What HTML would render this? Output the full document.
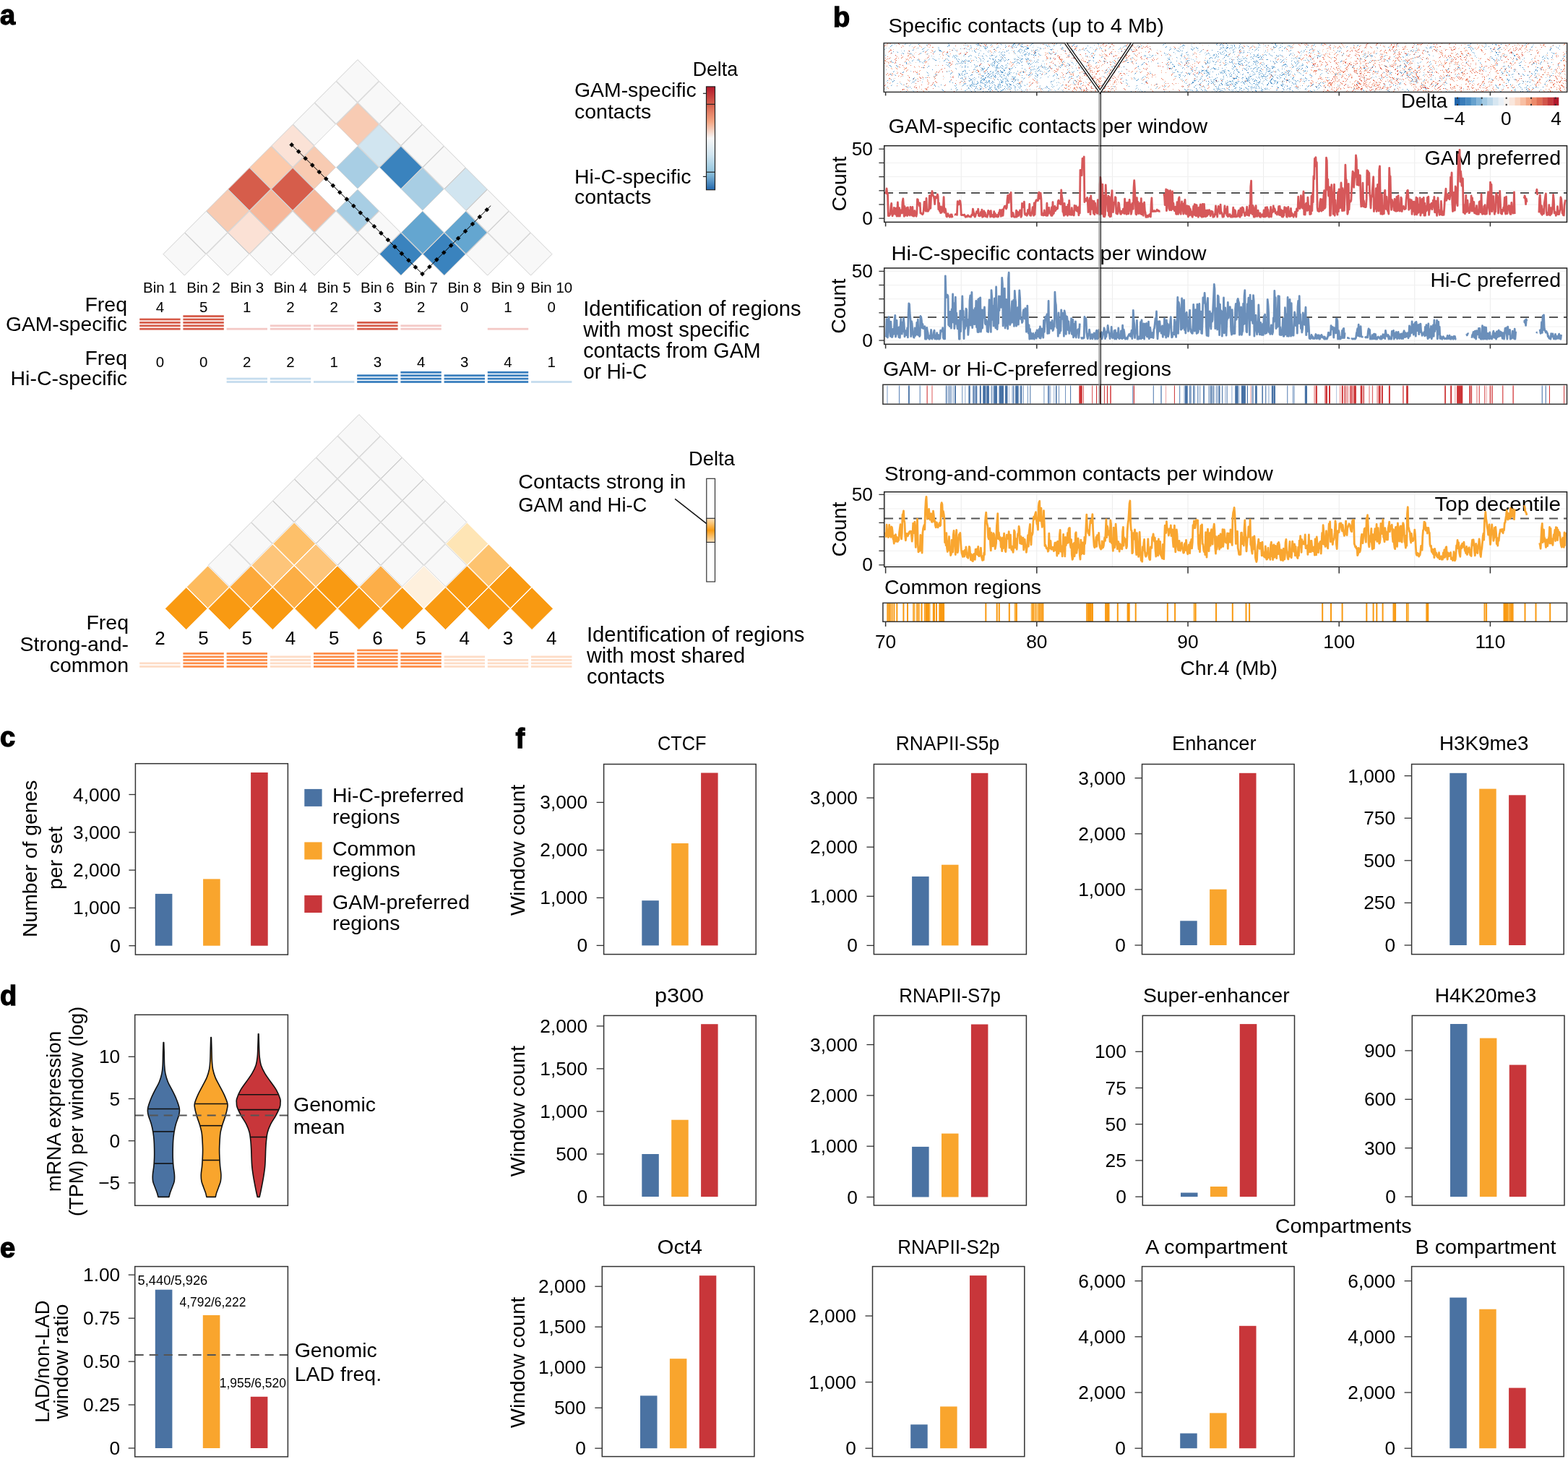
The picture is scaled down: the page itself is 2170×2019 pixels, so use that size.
<!DOCTYPE html><html><head><meta charset="utf-8"><style>html,body{margin:0;padding:0;background:#fff;}svg{display:block;}</style></head><body><svg width="2170" height="2019" viewBox="0 0 2170 2019" font-family='"Liberation Sans", "DejaVu Sans", sans-serif'><rect width="2170" height="2019" fill="#fff"/><text x="0.0" y="33.5" font-size="38" font-weight="bold" stroke="#000" stroke-width="1.3">a</text>
<polygon points="494.95,82.60 524.40,112.05 494.95,141.50 465.50,112.05" fill="#f8f8f8" stroke="#cfcfcf" stroke-width="1"/>
<polygon points="465.00,112.55 494.45,142.00 465.00,171.45 435.55,142.00" fill="#f8f8f8" stroke="#cfcfcf" stroke-width="1"/>
<polygon points="524.90,112.55 554.35,142.00 524.90,171.45 495.45,142.00" fill="#f8f8f8" stroke="#cfcfcf" stroke-width="1"/>
<polygon points="435.05,142.50 464.50,171.95 435.05,201.40 405.60,171.95" fill="#f8f8f8" stroke="#cfcfcf" stroke-width="1"/>
<polygon points="494.95,142.50 524.40,171.95 494.95,201.40 465.50,171.95" fill="#f8cbb3" stroke="#cfcfcf" stroke-width="1"/>
<polygon points="554.85,142.50 584.30,171.95 554.85,201.40 525.40,171.95" fill="#f8f8f8" stroke="#cfcfcf" stroke-width="1"/>
<polygon points="405.10,172.45 434.55,201.90 405.10,231.35 375.65,201.90" fill="#fbe2d6" stroke="#cfcfcf" stroke-width="1"/>
<polygon points="465.00,171.95 494.95,201.90 465.00,231.85 435.05,201.90" fill="#ffffff"/>
<polygon points="524.90,172.45 554.35,201.90 524.90,231.35 495.45,201.90" fill="#d1e5f0" stroke="#cfcfcf" stroke-width="1"/>
<polygon points="584.80,172.45 614.25,201.90 584.80,231.35 555.35,201.90" fill="#f8f8f8" stroke="#cfcfcf" stroke-width="1"/>
<polygon points="375.15,202.40 404.60,231.85 375.15,261.30 345.70,231.85" fill="#fccaab" stroke="#cfcfcf" stroke-width="1"/>
<polygon points="435.05,202.40 464.50,231.85 435.05,261.30 405.60,231.85" fill="#f8cbb2" stroke="#cfcfcf" stroke-width="1"/>
<polygon points="494.95,202.40 524.40,231.85 494.95,261.30 465.50,231.85" fill="#a8cee4" stroke="#cfcfcf" stroke-width="1"/>
<polygon points="554.85,202.40 584.30,231.85 554.85,261.30 525.40,231.85" fill="#3a83be" stroke="#cfcfcf" stroke-width="1"/>
<polygon points="614.75,202.40 644.20,231.85 614.75,261.30 585.30,231.85" fill="#f8f8f8" stroke="#cfcfcf" stroke-width="1"/>
<polygon points="345.20,232.35 374.65,261.80 345.20,291.25 315.75,261.80" fill="#d65d4b" stroke="#cfcfcf" stroke-width="1"/>
<polygon points="405.10,232.35 434.55,261.80 405.10,291.25 375.65,261.80" fill="#d65d4b" stroke="#cfcfcf" stroke-width="1"/>
<polygon points="465.00,231.85 494.95,261.80 465.00,291.75 435.05,261.80" fill="#ffffff"/>
<polygon points="524.90,231.85 554.85,261.80 524.90,291.75 494.95,261.80" fill="#ffffff"/>
<polygon points="584.80,232.35 614.25,261.80 584.80,291.25 555.35,261.80" fill="#a8cee4" stroke="#cfcfcf" stroke-width="1"/>
<polygon points="644.70,232.35 674.15,261.80 644.70,291.25 615.25,261.80" fill="#d1e5f0" stroke="#cfcfcf" stroke-width="1"/>
<polygon points="315.25,262.30 344.70,291.75 315.25,321.20 285.80,291.75" fill="#f8cbb2" stroke="#cfcfcf" stroke-width="1"/>
<polygon points="375.15,262.30 404.60,291.75 375.15,321.20 345.70,291.75" fill="#f6b89b" stroke="#cfcfcf" stroke-width="1"/>
<polygon points="435.05,262.30 464.50,291.75 435.05,321.20 405.60,291.75" fill="#f6b89b" stroke="#cfcfcf" stroke-width="1"/>
<polygon points="494.95,262.30 524.40,291.75 494.95,321.20 465.50,291.75" fill="#a8cee4" stroke="#cfcfcf" stroke-width="1"/>
<polygon points="554.85,261.80 584.80,291.75 554.85,321.70 524.90,291.75" fill="#ffffff"/>
<polygon points="614.75,261.80 644.70,291.75 614.75,321.70 584.80,291.75" fill="#ffffff"/>
<polygon points="674.65,262.30 704.10,291.75 674.65,321.20 645.20,291.75" fill="#f8f8f8" stroke="#cfcfcf" stroke-width="1"/>
<polygon points="285.30,292.25 314.75,321.70 285.30,351.15 255.85,321.70" fill="#f8f8f8" stroke="#cfcfcf" stroke-width="1"/>
<polygon points="345.20,292.25 374.65,321.70 345.20,351.15 315.75,321.70" fill="#fbe1d5" stroke="#cfcfcf" stroke-width="1"/>
<polygon points="405.10,292.25 434.55,321.70 405.10,351.15 375.65,321.70" fill="#f8f8f8" stroke="#cfcfcf" stroke-width="1"/>
<polygon points="465.00,292.25 494.45,321.70 465.00,351.15 435.55,321.70" fill="#f8f8f8" stroke="#cfcfcf" stroke-width="1"/>
<polygon points="524.90,292.25 554.35,321.70 524.90,351.15 495.45,321.70" fill="#f8f8f8" stroke="#cfcfcf" stroke-width="1"/>
<polygon points="584.80,292.25 614.25,321.70 584.80,351.15 555.35,321.70" fill="#64a6d0" stroke="#cfcfcf" stroke-width="1"/>
<polygon points="644.70,292.25 674.15,321.70 644.70,351.15 615.25,321.70" fill="#64a6d0" stroke="#cfcfcf" stroke-width="1"/>
<polygon points="704.60,292.25 734.05,321.70 704.60,351.15 675.15,321.70" fill="#f8f8f8" stroke="#cfcfcf" stroke-width="1"/>
<polygon points="255.35,322.20 284.80,351.65 255.35,381.10 225.90,351.65" fill="#f8f8f8" stroke="#cfcfcf" stroke-width="1"/>
<polygon points="315.25,322.20 344.70,351.65 315.25,381.10 285.80,351.65" fill="#f8f8f8" stroke="#cfcfcf" stroke-width="1"/>
<polygon points="375.15,322.20 404.60,351.65 375.15,381.10 345.70,351.65" fill="#f8f8f8" stroke="#cfcfcf" stroke-width="1"/>
<polygon points="435.05,322.20 464.50,351.65 435.05,381.10 405.60,351.65" fill="#f8f8f8" stroke="#cfcfcf" stroke-width="1"/>
<polygon points="494.95,322.20 524.40,351.65 494.95,381.10 465.50,351.65" fill="#f8f8f8" stroke="#cfcfcf" stroke-width="1"/>
<polygon points="554.85,322.20 584.30,351.65 554.85,381.10 525.40,351.65" fill="#3a83be" stroke="#cfcfcf" stroke-width="1"/>
<polygon points="614.75,322.20 644.20,351.65 614.75,381.10 585.30,351.65" fill="#3a83be" stroke="#cfcfcf" stroke-width="1"/>
<polygon points="674.65,322.20 704.10,351.65 674.65,381.10 645.20,351.65" fill="#f8f8f8" stroke="#cfcfcf" stroke-width="1"/>
<polygon points="734.55,322.20 764.00,351.65 734.55,381.10 705.10,351.65" fill="#f8f8f8" stroke="#cfcfcf" stroke-width="1"/>
<polyline points="403.7,200.4 584.5,379.1 679.2,284.6" fill="none" stroke="#000" stroke-width="1"/>
<polygon points="403.70,197.10 407.00,200.40 403.70,203.70 400.40,200.40" fill="#000"/>
<polygon points="413.22,206.51 416.52,209.81 413.22,213.11 409.92,209.81" fill="#000"/>
<polygon points="422.73,215.91 426.03,219.21 422.73,222.51 419.43,219.21" fill="#000"/>
<polygon points="432.25,225.32 435.55,228.62 432.25,231.92 428.95,228.62" fill="#000"/>
<polygon points="441.76,234.72 445.06,238.02 441.76,241.32 438.46,238.02" fill="#000"/>
<polygon points="451.28,244.13 454.58,247.43 451.28,250.73 447.98,247.43" fill="#000"/>
<polygon points="460.79,253.53 464.09,256.83 460.79,260.13 457.49,256.83" fill="#000"/>
<polygon points="470.31,262.94 473.61,266.24 470.31,269.54 467.01,266.24" fill="#000"/>
<polygon points="479.83,272.34 483.13,275.64 479.83,278.94 476.53,275.64" fill="#000"/>
<polygon points="489.34,281.75 492.64,285.05 489.34,288.35 486.04,285.05" fill="#000"/>
<polygon points="498.86,291.15 502.16,294.45 498.86,297.75 495.56,294.45" fill="#000"/>
<polygon points="508.37,300.56 511.67,303.86 508.37,307.16 505.07,303.86" fill="#000"/>
<polygon points="517.89,309.96 521.19,313.26 517.89,316.56 514.59,313.26" fill="#000"/>
<polygon points="527.41,319.37 530.71,322.67 527.41,325.97 524.11,322.67" fill="#000"/>
<polygon points="536.92,328.77 540.22,332.07 536.92,335.37 533.62,332.07" fill="#000"/>
<polygon points="546.44,338.18 549.74,341.48 546.44,344.78 543.14,341.48" fill="#000"/>
<polygon points="555.95,347.58 559.25,350.88 555.95,354.18 552.65,350.88" fill="#000"/>
<polygon points="565.47,356.99 568.77,360.29 565.47,363.59 562.17,360.29" fill="#000"/>
<polygon points="574.98,366.39 578.28,369.69 574.98,372.99 571.68,369.69" fill="#000"/>
<polygon points="584.50,375.80 587.80,379.10 584.50,382.40 581.20,379.10" fill="#000"/>
<polygon points="594.42,365.93 597.72,369.23 594.42,372.53 591.12,369.23" fill="#000"/>
<polygon points="604.34,356.07 607.64,359.37 604.34,362.67 601.04,359.37" fill="#000"/>
<polygon points="614.27,346.20 617.57,349.50 614.27,352.80 610.97,349.50" fill="#000"/>
<polygon points="624.19,336.33 627.49,339.63 624.19,342.93 620.89,339.63" fill="#000"/>
<polygon points="634.11,326.47 637.41,329.77 634.11,333.07 630.81,329.77" fill="#000"/>
<polygon points="644.03,316.60 647.33,319.90 644.03,323.20 640.73,319.90" fill="#000"/>
<polygon points="653.96,306.73 657.26,310.03 653.96,313.33 650.66,310.03" fill="#000"/>
<polygon points="663.88,296.87 667.18,300.17 663.88,303.47 660.58,300.17" fill="#000"/>
<polygon points="673.80,287.00 677.10,290.30 673.80,293.60 670.50,290.30" fill="#000"/>
<defs><linearGradient id="gRdBu" x1="0" y1="0" x2="0" y2="1"><stop offset="0" stop-color="#b2182b"/><stop offset="0.17" stop-color="#d6604d"/><stop offset="0.34" stop-color="#f4a582"/><stop offset="0.5" stop-color="#f7f7f7"/><stop offset="0.66" stop-color="#d1e5f0"/><stop offset="0.83" stop-color="#92c5de"/><stop offset="1" stop-color="#2166ac"/></linearGradient><linearGradient id="gOr" x1="0" y1="0" x2="0" y2="1"><stop offset="0" stop-color="#fde3bd"/><stop offset="0.5" stop-color="#f99a12"/><stop offset="1" stop-color="#fde3bd"/></linearGradient></defs>
<rect x="977.5" y="119.9" width="12" height="142.8" fill="url(#gRdBu)" stroke="#222" stroke-width="1.2"/>
<line x1="977.5" y1="144.3" x2="989.5" y2="144.3" stroke="#222" stroke-width="1.2"/>
<line x1="977.5" y1="238.2" x2="989.5" y2="238.2" stroke="#222" stroke-width="1.2"/>
<line x1="972.9" y1="129.3" x2="977.5" y2="129.3" stroke="#222" stroke-width="1.2"/>
<line x1="972.9" y1="244.4" x2="977.5" y2="244.4" stroke="#222" stroke-width="1.2"/>
<text x="958.7" y="104.5" font-size="28" textLength="62.4" lengthAdjust="spacingAndGlyphs">Delta</text>
<text x="795.0" y="134.4" font-size="28.5" textLength="168.8" lengthAdjust="spacingAndGlyphs">GAM-specific</text>
<text x="795.0" y="163.5" font-size="28.5">contacts</text>
<text x="795.0" y="254.1" font-size="28.5">Hi-C-specific</text>
<text x="795.0" y="282.3" font-size="28.5">contacts</text>
<text x="221.4" y="404.8" font-size="20.5" text-anchor="middle">Bin 1</text>
<text x="281.6" y="404.8" font-size="20.5" text-anchor="middle">Bin 2</text>
<text x="341.8" y="404.8" font-size="20.5" text-anchor="middle">Bin 3</text>
<text x="402.0" y="404.8" font-size="20.5" text-anchor="middle">Bin 4</text>
<text x="462.2" y="404.8" font-size="20.5" text-anchor="middle">Bin 5</text>
<text x="522.4" y="404.8" font-size="20.5" text-anchor="middle">Bin 6</text>
<text x="582.6" y="404.8" font-size="20.5" text-anchor="middle">Bin 7</text>
<text x="642.8" y="404.8" font-size="20.5" text-anchor="middle">Bin 8</text>
<text x="703.0" y="404.8" font-size="20.5" text-anchor="middle">Bin 9</text>
<text x="763.2" y="404.8" font-size="20.5" text-anchor="middle">Bin 10</text>
<text x="176.0" y="430.7" font-size="28.5" text-anchor="end">Freq</text>
<text x="176.0" y="458.3" font-size="28.5" text-anchor="end" textLength="168.1" lengthAdjust="spacingAndGlyphs">GAM-specific</text>
<text x="221.4" y="431.5" font-size="20.5" text-anchor="middle">4</text>
<rect x="193.2" y="453.8" width="56.4" height="2.8" fill="#d65d4b"/>
<rect x="193.2" y="449.4" width="56.4" height="2.8" fill="#d65d4b"/>
<rect x="193.2" y="445.0" width="56.4" height="2.8" fill="#d65d4b"/>
<rect x="193.2" y="440.6" width="56.4" height="2.8" fill="#d65d4b"/>
<text x="281.6" y="431.5" font-size="20.5" text-anchor="middle">5</text>
<rect x="253.4" y="453.8" width="56.4" height="2.8" fill="#d65d4b"/>
<rect x="253.4" y="449.4" width="56.4" height="2.8" fill="#d65d4b"/>
<rect x="253.4" y="445.0" width="56.4" height="2.8" fill="#d65d4b"/>
<rect x="253.4" y="440.6" width="56.4" height="2.8" fill="#d65d4b"/>
<rect x="253.4" y="436.2" width="56.4" height="2.8" fill="#d65d4b"/>
<text x="341.8" y="431.5" font-size="20.5" text-anchor="middle">1</text>
<rect x="313.6" y="453.8" width="56.4" height="2.8" fill="#f4c9c6"/>
<text x="402.0" y="431.5" font-size="20.5" text-anchor="middle">2</text>
<rect x="373.8" y="453.8" width="56.4" height="2.8" fill="#f4c9c6"/>
<rect x="373.8" y="449.4" width="56.4" height="2.8" fill="#f4c9c6"/>
<text x="462.2" y="431.5" font-size="20.5" text-anchor="middle">2</text>
<rect x="434.0" y="453.8" width="56.4" height="2.8" fill="#f4c9c6"/>
<rect x="434.0" y="449.4" width="56.4" height="2.8" fill="#f4c9c6"/>
<text x="522.4" y="431.5" font-size="20.5" text-anchor="middle">3</text>
<rect x="494.2" y="453.8" width="56.4" height="2.8" fill="#d65d4b"/>
<rect x="494.2" y="449.4" width="56.4" height="2.8" fill="#d65d4b"/>
<rect x="494.2" y="445.0" width="56.4" height="2.8" fill="#d65d4b"/>
<text x="582.6" y="431.5" font-size="20.5" text-anchor="middle">2</text>
<rect x="554.4" y="453.8" width="56.4" height="2.8" fill="#f4c9c6"/>
<rect x="554.4" y="449.4" width="56.4" height="2.8" fill="#f4c9c6"/>
<text x="642.8" y="431.5" font-size="20.5" text-anchor="middle">0</text>
<text x="703.0" y="431.5" font-size="20.5" text-anchor="middle">1</text>
<rect x="674.8" y="453.8" width="56.4" height="2.8" fill="#f4c9c6"/>
<text x="763.2" y="431.5" font-size="20.5" text-anchor="middle">0</text>
<text x="176.0" y="505.4" font-size="28.5" text-anchor="end">Freq</text>
<text x="176.0" y="533.0" font-size="28.5" text-anchor="end">Hi-C-specific</text>
<text x="221.4" y="508.2" font-size="20.5" text-anchor="middle">0</text>
<text x="281.6" y="508.2" font-size="20.5" text-anchor="middle">0</text>
<text x="341.8" y="508.2" font-size="20.5" text-anchor="middle">2</text>
<rect x="313.6" y="527.1" width="56.4" height="2.8" fill="#c5dcee"/>
<rect x="313.6" y="522.7" width="56.4" height="2.8" fill="#c5dcee"/>
<text x="402.0" y="508.2" font-size="20.5" text-anchor="middle">2</text>
<rect x="373.8" y="527.1" width="56.4" height="2.8" fill="#c5dcee"/>
<rect x="373.8" y="522.7" width="56.4" height="2.8" fill="#c5dcee"/>
<text x="462.2" y="508.2" font-size="20.5" text-anchor="middle">1</text>
<rect x="434.0" y="527.1" width="56.4" height="2.8" fill="#c5dcee"/>
<text x="522.4" y="508.2" font-size="20.5" text-anchor="middle">3</text>
<rect x="494.2" y="527.1" width="56.4" height="2.8" fill="#3a7fbe"/>
<rect x="494.2" y="522.7" width="56.4" height="2.8" fill="#3a7fbe"/>
<rect x="494.2" y="518.3" width="56.4" height="2.8" fill="#3a7fbe"/>
<text x="582.6" y="508.2" font-size="20.5" text-anchor="middle">4</text>
<rect x="554.4" y="527.1" width="56.4" height="2.8" fill="#3a7fbe"/>
<rect x="554.4" y="522.7" width="56.4" height="2.8" fill="#3a7fbe"/>
<rect x="554.4" y="518.3" width="56.4" height="2.8" fill="#3a7fbe"/>
<rect x="554.4" y="513.9" width="56.4" height="2.8" fill="#3a7fbe"/>
<text x="642.8" y="508.2" font-size="20.5" text-anchor="middle">3</text>
<rect x="614.6" y="527.1" width="56.4" height="2.8" fill="#3a7fbe"/>
<rect x="614.6" y="522.7" width="56.4" height="2.8" fill="#3a7fbe"/>
<rect x="614.6" y="518.3" width="56.4" height="2.8" fill="#3a7fbe"/>
<text x="703.0" y="508.2" font-size="20.5" text-anchor="middle">4</text>
<rect x="674.8" y="527.1" width="56.4" height="2.8" fill="#3a7fbe"/>
<rect x="674.8" y="522.7" width="56.4" height="2.8" fill="#3a7fbe"/>
<rect x="674.8" y="518.3" width="56.4" height="2.8" fill="#3a7fbe"/>
<rect x="674.8" y="513.9" width="56.4" height="2.8" fill="#3a7fbe"/>
<text x="763.2" y="508.2" font-size="20.5" text-anchor="middle">1</text>
<rect x="735.0" y="527.1" width="56.4" height="2.8" fill="#c5dcee"/>
<text x="807.2" y="436.8" font-size="29" textLength="301.6" lengthAdjust="spacingAndGlyphs">Identification of regions</text>
<text x="807.2" y="465.8" font-size="29" textLength="229.9" lengthAdjust="spacingAndGlyphs">with most specific</text>
<text x="807.2" y="494.8" font-size="29" textLength="245.5" lengthAdjust="spacingAndGlyphs">contacts from GAM</text>
<text x="807.2" y="523.8" font-size="29" textLength="88.3" lengthAdjust="spacingAndGlyphs">or Hi-C</text>
<polygon points="496.90,573.60 526.30,603.00 496.90,632.40 467.50,603.00" fill="#f8f8f8" stroke="#cfcfcf" stroke-width="1"/>
<polygon points="467.00,603.50 496.40,632.90 467.00,662.30 437.60,632.90" fill="#f8f8f8" stroke="#cfcfcf" stroke-width="1"/>
<polygon points="526.80,603.50 556.20,632.90 526.80,662.30 497.40,632.90" fill="#f8f8f8" stroke="#cfcfcf" stroke-width="1"/>
<polygon points="437.10,633.40 466.50,662.80 437.10,692.20 407.70,662.80" fill="#f8f8f8" stroke="#cfcfcf" stroke-width="1"/>
<polygon points="496.90,633.40 526.30,662.80 496.90,692.20 467.50,662.80" fill="#f8f8f8" stroke="#cfcfcf" stroke-width="1"/>
<polygon points="556.70,633.40 586.10,662.80 556.70,692.20 527.30,662.80" fill="#f8f8f8" stroke="#cfcfcf" stroke-width="1"/>
<polygon points="407.20,663.30 436.60,692.70 407.20,722.10 377.80,692.70" fill="#f8f8f8" stroke="#cfcfcf" stroke-width="1"/>
<polygon points="467.00,663.30 496.40,692.70 467.00,722.10 437.60,692.70" fill="#f8f8f8" stroke="#cfcfcf" stroke-width="1"/>
<polygon points="526.80,663.30 556.20,692.70 526.80,722.10 497.40,692.70" fill="#f8f8f8" stroke="#cfcfcf" stroke-width="1"/>
<polygon points="586.60,663.30 616.00,692.70 586.60,722.10 557.20,692.70" fill="#f8f8f8" stroke="#cfcfcf" stroke-width="1"/>
<polygon points="377.30,693.20 406.70,722.60 377.30,752.00 347.90,722.60" fill="#f8f8f8" stroke="#cfcfcf" stroke-width="1"/>
<polygon points="437.10,693.20 466.50,722.60 437.10,752.00 407.70,722.60" fill="#f8f8f8" stroke="#cfcfcf" stroke-width="1"/>
<polygon points="496.90,693.20 526.30,722.60 496.90,752.00 467.50,722.60" fill="#f8f8f8" stroke="#cfcfcf" stroke-width="1"/>
<polygon points="556.70,693.20 586.10,722.60 556.70,752.00 527.30,722.60" fill="#f8f8f8" stroke="#cfcfcf" stroke-width="1"/>
<polygon points="616.50,693.20 645.90,722.60 616.50,752.00 587.10,722.60" fill="#f8f8f8" stroke="#cfcfcf" stroke-width="1"/>
<polygon points="347.40,723.10 376.80,752.50 347.40,781.90 318.00,752.50" fill="#f8f8f8" stroke="#cfcfcf" stroke-width="1"/>
<polygon points="407.20,723.10 436.60,752.50 407.20,781.90 377.80,752.50" fill="#fdc06a" stroke="#ffffff" stroke-width="1"/>
<polygon points="467.00,723.10 496.40,752.50 467.00,781.90 437.60,752.50" fill="#f8f8f8" stroke="#cfcfcf" stroke-width="1"/>
<polygon points="526.80,723.10 556.20,752.50 526.80,781.90 497.40,752.50" fill="#f8f8f8" stroke="#cfcfcf" stroke-width="1"/>
<polygon points="586.60,723.10 616.00,752.50 586.60,781.90 557.20,752.50" fill="#f8f8f8" stroke="#cfcfcf" stroke-width="1"/>
<polygon points="646.40,723.10 675.80,752.50 646.40,781.90 617.00,752.50" fill="#fee5b5" stroke="#ffffff" stroke-width="1"/>
<polygon points="317.50,753.00 346.90,782.40 317.50,811.80 288.10,782.40" fill="#f8f8f8" stroke="#cfcfcf" stroke-width="1"/>
<polygon points="377.30,753.00 406.70,782.40 377.30,811.80 347.90,782.40" fill="#fdc57a" stroke="#ffffff" stroke-width="1"/>
<polygon points="437.10,753.00 466.50,782.40 437.10,811.80 407.70,782.40" fill="#fdc57a" stroke="#ffffff" stroke-width="1"/>
<polygon points="496.90,753.00 526.30,782.40 496.90,811.80 467.50,782.40" fill="#f8f8f8" stroke="#cfcfcf" stroke-width="1"/>
<polygon points="556.70,753.00 586.10,782.40 556.70,811.80 527.30,782.40" fill="#f8f8f8" stroke="#cfcfcf" stroke-width="1"/>
<polygon points="616.50,753.00 645.90,782.40 616.50,811.80 587.10,782.40" fill="#f8f8f8" stroke="#cfcfcf" stroke-width="1"/>
<polygon points="676.30,753.00 705.70,782.40 676.30,811.80 646.90,782.40" fill="#fdc36f" stroke="#ffffff" stroke-width="1"/>
<polygon points="287.60,782.90 317.00,812.30 287.60,841.70 258.20,812.30" fill="#fdbb5e" stroke="#ffffff" stroke-width="1"/>
<polygon points="347.40,782.90 376.80,812.30 347.40,841.70 318.00,812.30" fill="#fca93b" stroke="#ffffff" stroke-width="1"/>
<polygon points="407.20,782.90 436.60,812.30 407.20,841.70 377.80,812.30" fill="#fcae45" stroke="#ffffff" stroke-width="1"/>
<polygon points="467.00,782.90 496.40,812.30 467.00,841.70 437.60,812.30" fill="#f99a12" stroke="#ffffff" stroke-width="1"/>
<polygon points="526.80,782.90 556.20,812.30 526.80,841.70 497.40,812.30" fill="#fcae48" stroke="#ffffff" stroke-width="1"/>
<polygon points="586.60,782.90 616.00,812.30 586.60,841.70 557.20,812.30" fill="#fef0dd" stroke="#ffffff" stroke-width="1"/>
<polygon points="646.40,782.90 675.80,812.30 646.40,841.70 617.00,812.30" fill="#f99a12" stroke="#ffffff" stroke-width="1"/>
<polygon points="706.20,782.90 735.60,812.30 706.20,841.70 676.80,812.30" fill="#f99a12" stroke="#ffffff" stroke-width="1"/>
<polygon points="257.70,812.80 287.10,842.20 257.70,871.60 228.30,842.20" fill="#f99a12" stroke="#ffffff" stroke-width="1"/>
<polygon points="317.50,812.80 346.90,842.20 317.50,871.60 288.10,842.20" fill="#f99a12" stroke="#ffffff" stroke-width="1"/>
<polygon points="377.30,812.80 406.70,842.20 377.30,871.60 347.90,842.20" fill="#f99a12" stroke="#ffffff" stroke-width="1"/>
<polygon points="437.10,812.80 466.50,842.20 437.10,871.60 407.70,842.20" fill="#f99a12" stroke="#ffffff" stroke-width="1"/>
<polygon points="496.90,812.80 526.30,842.20 496.90,871.60 467.50,842.20" fill="#f99a12" stroke="#ffffff" stroke-width="1"/>
<polygon points="556.70,812.80 586.10,842.20 556.70,871.60 527.30,842.20" fill="#f99a12" stroke="#ffffff" stroke-width="1"/>
<polygon points="616.50,812.80 645.90,842.20 616.50,871.60 587.10,842.20" fill="#f99a12" stroke="#ffffff" stroke-width="1"/>
<polygon points="676.30,812.80 705.70,842.20 676.30,871.60 646.90,842.20" fill="#f99a12" stroke="#ffffff" stroke-width="1"/>
<polygon points="736.10,812.80 765.50,842.20 736.10,871.60 706.70,842.20" fill="#f99a12" stroke="#ffffff" stroke-width="1"/>
<rect x="977.8" y="662.3" width="11.7" height="142.7" fill="#fff" stroke="#333" stroke-width="1.2"/>
<rect x="977.8" y="717.3" width="11.7" height="33.1" fill="url(#gOr)" stroke="#333" stroke-width="1.2"/>
<line x1="934.1" y1="690.4" x2="977.8" y2="724.7" stroke="#111" stroke-width="1.5"/>
<text x="953.1" y="644.4" font-size="28" textLength="63.8" lengthAdjust="spacingAndGlyphs">Delta</text>
<text x="717.3" y="675.6" font-size="28.5" textLength="232.0" lengthAdjust="spacingAndGlyphs">Contacts strong in</text>
<text x="717.3" y="708.2" font-size="28.5" textLength="178.1" lengthAdjust="spacingAndGlyphs">GAM and Hi-C</text>
<text x="178.0" y="871.0" font-size="28.5" text-anchor="end">Freq</text>
<text x="178.0" y="900.6" font-size="28.5" text-anchor="end">Strong-and-</text>
<text x="178.0" y="929.6" font-size="28.5" text-anchor="end">common</text>
<text x="221.4" y="891.5" font-size="26" text-anchor="middle">2</text>
<rect x="193.2" y="921.0" width="56.4" height="2.8" fill="#fddcc6"/>
<rect x="193.2" y="916.5" width="56.4" height="2.8" fill="#fddcc6"/>
<text x="281.6" y="891.5" font-size="26" text-anchor="middle">5</text>
<rect x="253.4" y="921.0" width="56.4" height="2.8" fill="#fd8e4a"/>
<rect x="253.4" y="916.5" width="56.4" height="2.8" fill="#fd8e4a"/>
<rect x="253.4" y="912.0" width="56.4" height="2.8" fill="#fd8e4a"/>
<rect x="253.4" y="907.5" width="56.4" height="2.8" fill="#fd8e4a"/>
<rect x="253.4" y="903.0" width="56.4" height="2.8" fill="#fd8e4a"/>
<text x="341.8" y="891.5" font-size="26" text-anchor="middle">5</text>
<rect x="313.6" y="921.0" width="56.4" height="2.8" fill="#fd8e4a"/>
<rect x="313.6" y="916.5" width="56.4" height="2.8" fill="#fd8e4a"/>
<rect x="313.6" y="912.0" width="56.4" height="2.8" fill="#fd8e4a"/>
<rect x="313.6" y="907.5" width="56.4" height="2.8" fill="#fd8e4a"/>
<rect x="313.6" y="903.0" width="56.4" height="2.8" fill="#fd8e4a"/>
<text x="402.0" y="891.5" font-size="26" text-anchor="middle">4</text>
<rect x="373.8" y="921.0" width="56.4" height="2.8" fill="#fddcc6"/>
<rect x="373.8" y="916.5" width="56.4" height="2.8" fill="#fddcc6"/>
<rect x="373.8" y="912.0" width="56.4" height="2.8" fill="#fddcc6"/>
<rect x="373.8" y="907.5" width="56.4" height="2.8" fill="#fddcc6"/>
<text x="462.2" y="891.5" font-size="26" text-anchor="middle">5</text>
<rect x="434.0" y="921.0" width="56.4" height="2.8" fill="#fd8e4a"/>
<rect x="434.0" y="916.5" width="56.4" height="2.8" fill="#fd8e4a"/>
<rect x="434.0" y="912.0" width="56.4" height="2.8" fill="#fd8e4a"/>
<rect x="434.0" y="907.5" width="56.4" height="2.8" fill="#fd8e4a"/>
<rect x="434.0" y="903.0" width="56.4" height="2.8" fill="#fd8e4a"/>
<text x="522.4" y="891.5" font-size="26" text-anchor="middle">6</text>
<rect x="494.2" y="921.0" width="56.4" height="2.8" fill="#fd8e4a"/>
<rect x="494.2" y="916.5" width="56.4" height="2.8" fill="#fd8e4a"/>
<rect x="494.2" y="912.0" width="56.4" height="2.8" fill="#fd8e4a"/>
<rect x="494.2" y="907.5" width="56.4" height="2.8" fill="#fd8e4a"/>
<rect x="494.2" y="903.0" width="56.4" height="2.8" fill="#fd8e4a"/>
<rect x="494.2" y="898.5" width="56.4" height="2.8" fill="#fd8e4a"/>
<text x="582.6" y="891.5" font-size="26" text-anchor="middle">5</text>
<rect x="554.4" y="921.0" width="56.4" height="2.8" fill="#fd8e4a"/>
<rect x="554.4" y="916.5" width="56.4" height="2.8" fill="#fd8e4a"/>
<rect x="554.4" y="912.0" width="56.4" height="2.8" fill="#fd8e4a"/>
<rect x="554.4" y="907.5" width="56.4" height="2.8" fill="#fd8e4a"/>
<rect x="554.4" y="903.0" width="56.4" height="2.8" fill="#fd8e4a"/>
<text x="642.8" y="891.5" font-size="26" text-anchor="middle">4</text>
<rect x="614.6" y="921.0" width="56.4" height="2.8" fill="#fddcc6"/>
<rect x="614.6" y="916.5" width="56.4" height="2.8" fill="#fddcc6"/>
<rect x="614.6" y="912.0" width="56.4" height="2.8" fill="#fddcc6"/>
<rect x="614.6" y="907.5" width="56.4" height="2.8" fill="#fddcc6"/>
<text x="703.0" y="891.5" font-size="26" text-anchor="middle">3</text>
<rect x="674.8" y="921.0" width="56.4" height="2.8" fill="#fddcc6"/>
<rect x="674.8" y="916.5" width="56.4" height="2.8" fill="#fddcc6"/>
<rect x="674.8" y="912.0" width="56.4" height="2.8" fill="#fddcc6"/>
<text x="763.2" y="891.5" font-size="26" text-anchor="middle">4</text>
<rect x="735.0" y="921.0" width="56.4" height="2.8" fill="#fddcc6"/>
<rect x="735.0" y="916.5" width="56.4" height="2.8" fill="#fddcc6"/>
<rect x="735.0" y="912.0" width="56.4" height="2.8" fill="#fddcc6"/>
<rect x="735.0" y="907.5" width="56.4" height="2.8" fill="#fddcc6"/>
<text x="811.9" y="888.3" font-size="29" textLength="301.6" lengthAdjust="spacingAndGlyphs">Identification of regions</text>
<text x="811.9" y="917.1" font-size="29">with most shared</text>
<text x="811.9" y="945.9" font-size="29">contacts</text>
<text x="1153.0" y="36.5" font-size="38" font-weight="bold" stroke="#000" stroke-width="1.3">b</text>
<text x="1229.5" y="45.0" font-size="28.5" textLength="381.3" lengthAdjust="spacingAndGlyphs">Specific contacts (up to 4 Mb)</text>
<g stroke-width="1" fill="none">
<path stroke="#3b7fc0" d="M1231 90.5h1M1232 102.5h1M1233 84.5h1M1237 111.5h1M1241 91.5h1M1249 100.5h1M1254 86.5h1M1263 69.5h1M1264 108.5h1M1269 102.5h1M1271 61.5h1M1277 93.5h1M1285 91.5h1M1295 83.5h1M1300 70.5h1M1301 70.5h1M1304 124.5h1M1305 125.5h1M1312 77.5h1M1313 63.5h1M1313 91.5h1M1326 85.5h1M1327 102.5h1M1328 104.5h1M1329 108.5h1M1333 85.5h1M1335 91.5h1M1336 115.5h1M1338 101.5h1M1340 84.5h1M1340 121.5h1M1341 84.5h1M1341 108.5h1M1342 111.5h1M1343 63.5h1M1343 109.5h1M1344 110.5h1M1344 126.5h1M1345 103.5h1M1345 115.5h1M1345 117.5h1M1348 124.5h1M1349 126.5h1M1350 122.5h1M1352 91.5h1M1353 60.5h1M1357 114.5h1M1357 123.5h1M1359 77.5h1M1360 105.5h1M1360 115.5h1M1360 126.5h1M1362 94.5h1M1362 110.5h1M1363 107.5h1M1366 99.5h1M1367 84.5h1M1367 93.5h1M1367 102.5h1M1367 105.5h1M1367 113.5h1M1368 101.5h1M1368 123.5h1M1369 103.5h1M1372 114.5h1M1373 76.5h1M1373 112.5h1M1374 82.5h1M1374 104.5h1M1375 68.5h1M1376 87.5h1M1376 117.5h1M1377 104.5h1M1377 107.5h1M1378 123.5h1M1381 126.5h1M1384 83.5h1M1384 97.5h1M1386 90.5h1M1386 100.5h1M1386 113.5h1M1386 125.5h1M1387 118.5h1M1388 77.5h1M1390 84.5h1M1390 122.5h1M1391 65.5h1M1393 70.5h1M1394 111.5h1M1395 82.5h1M1395 103.5h1M1397 95.5h1M1397 96.5h1M1397 102.5h1M1397 116.5h1M1398 117.5h1M1400 112.5h1M1404 109.5h1M1406 65.5h1M1407 82.5h1M1409 61.5h1M1410 87.5h1M1412 84.5h1M1413 64.5h1M1414 61.5h1M1414 90.5h1M1414 112.5h1M1416 100.5h1M1422 66.5h1M1422 67.5h1M1423 66.5h1M1424 87.5h1M1424 103.5h1M1425 100.5h1M1425 102.5h1M1428 102.5h1M1430 76.5h1M1433 69.5h1M1433 76.5h1M1435 104.5h1M1436 94.5h1M1439 76.5h1M1439 98.5h1M1441 90.5h1M1442 92.5h1M1447 121.5h1M1448 119.5h1M1451 122.5h1M1452 73.5h1M1453 81.5h1M1453 93.5h1M1454 113.5h1M1455 68.5h1M1463 103.5h1M1467 93.5h1M1470 89.5h1M1480 106.5h1M1483 86.5h1M1484 63.5h1M1486 61.5h1M1489 64.5h1M1490 63.5h1M1490 106.5h1M1502 67.5h1M1503 91.5h1M1503 124.5h1M1505 86.5h1M1508 83.5h1M1513 79.5h1M1530 97.5h1M1538 74.5h1M1552 70.5h1M1555 92.5h1M1558 69.5h1M1561 86.5h1M1571 101.5h1M1572 87.5h1M1576 64.5h1M1580 89.5h1M1583 86.5h1M1585 113.5h1M1588 79.5h1M1592 101.5h1M1600 116.5h1M1602 87.5h1M1611 73.5h1M1627 96.5h1M1632 107.5h1M1638 62.5h1M1642 72.5h1M1642 87.5h1M1643 118.5h1M1643 124.5h1M1644 92.5h1M1645 83.5h1M1645 117.5h1M1649 68.5h1M1649 115.5h1M1650 98.5h1M1650 114.5h1M1652 111.5h1M1653 103.5h1M1655 122.5h1M1659 100.5h1M1663 105.5h1M1667 110.5h1M1668 88.5h1M1669 97.5h1M1670 104.5h1M1671 86.5h1M1671 99.5h1M1672 73.5h1M1672 112.5h1M1676 112.5h1M1676 115.5h1M1680 95.5h1M1682 108.5h1M1682 111.5h1M1682 119.5h1M1683 112.5h1M1684 60.5h1M1685 71.5h1M1686 74.5h1M1686 121.5h1M1687 117.5h1M1688 62.5h1M1688 68.5h1M1688 86.5h1M1689 61.5h1M1689 66.5h1M1689 125.5h1M1690 115.5h1M1691 117.5h1M1692 62.5h1M1692 97.5h1M1694 79.5h1M1696 83.5h1M1696 86.5h1M1697 66.5h1M1697 117.5h1M1698 118.5h1M1699 117.5h1M1702 86.5h1M1704 103.5h1M1705 84.5h1M1706 69.5h1M1707 101.5h1M1707 109.5h1M1708 108.5h1M1709 92.5h1M1710 88.5h1M1711 105.5h1M1714 87.5h1M1714 99.5h1M1714 112.5h1M1715 63.5h1M1715 85.5h1M1716 89.5h1M1717 84.5h1M1720 66.5h1M1720 114.5h1M1721 72.5h1M1724 84.5h1M1724 90.5h1M1725 97.5h1M1725 108.5h1M1727 64.5h1M1727 100.5h1M1728 111.5h1M1731 105.5h1M1733 68.5h1M1734 95.5h1M1735 112.5h1M1736 120.5h1M1737 85.5h1M1738 126.5h1M1739 85.5h1M1741 114.5h1M1742 107.5h1M1743 82.5h1M1743 113.5h1M1745 79.5h1M1745 125.5h1M1749 105.5h1M1750 122.5h1M1751 109.5h1M1752 90.5h1M1752 91.5h1M1754 93.5h1M1754 117.5h1M1755 98.5h1M1755 115.5h1M1757 95.5h1M1758 114.5h1M1759 103.5h1M1759 110.5h1M1759 115.5h1M1760 109.5h1M1760 119.5h1M1761 94.5h1M1762 64.5h1M1762 85.5h1M1762 92.5h1M1764 113.5h1M1765 62.5h1M1766 85.5h1M1767 107.5h1M1767 113.5h1M1767 124.5h1M1768 121.5h1M1769 77.5h1M1772 107.5h1M1774 100.5h1M1774 118.5h1M1775 116.5h1M1776 102.5h1M1776 123.5h1M1779 92.5h1M1781 111.5h1M1781 119.5h1M1782 101.5h1M1782 111.5h1M1784 76.5h1M1784 98.5h1M1784 113.5h1M1785 121.5h1M1785 123.5h1M1786 74.5h1M1788 114.5h1M1792 111.5h1M1793 116.5h1M1794 121.5h1M1797 80.5h1M1798 80.5h1M1802 94.5h1M1803 104.5h1M1806 123.5h1M1809 93.5h1M1810 119.5h1M1811 111.5h1M1812 69.5h1M1815 105.5h1M1815 118.5h1M1816 90.5h1M1816 117.5h1M1817 116.5h1M1821 120.5h1M1822 120.5h1M1823 79.5h1M1824 71.5h1M1825 121.5h1M1834 91.5h1M1834 120.5h1M1836 96.5h1M1837 107.5h1M1840 62.5h1M1853 71.5h1M1855 85.5h1M1856 84.5h1M1872 92.5h1M1879 115.5h1M1887 94.5h1M1887 125.5h1M1888 94.5h1M1896 96.5h1M1898 76.5h1M1899 92.5h1M1915 100.5h1M1917 91.5h1M1921 98.5h1M1922 126.5h1M1923 117.5h1M1928 117.5h1M1930 123.5h1M1931 118.5h1M1937 91.5h1M1937 99.5h1M1938 100.5h1M1939 101.5h1M1944 92.5h1M1949 125.5h1M1951 96.5h1M1952 70.5h1M1953 108.5h1M1953 112.5h1M1957 61.5h1M1957 75.5h1M1959 107.5h1M1959 112.5h1M1961 94.5h1M1964 77.5h1M1970 121.5h1M1971 110.5h1M1973 123.5h1M1980 64.5h1M1980 66.5h1M1981 116.5h1M1982 100.5h1M1983 64.5h1M1992 111.5h1M2000 113.5h1M2000 122.5h1M2003 82.5h1M2004 95.5h1M2029 86.5h1M2031 62.5h1M2034 112.5h1M2035 60.5h1M2048 93.5h1M2061 108.5h1M2062 67.5h1M2063 67.5h1M2064 70.5h1M2067 82.5h1M2070 61.5h1M2070 118.5h1M2071 72.5h1M2073 67.5h1M2074 72.5h1M2075 66.5h1M2077 61.5h1M2079 101.5h1M2081 91.5h1M2085 100.5h1M2086 109.5h1M2087 91.5h1M2087 111.5h1M2095 96.5h1M2096 77.5h1M2098 81.5h1M2102 102.5h1M2103 90.5h1M2104 126.5h1M2106 123.5h1M2107 93.5h1M2107 126.5h1M2112 123.5h1M2113 126.5h1M2114 104.5h1M2114 125.5h1M2117 113.5h1M2120 102.5h1M2121 121.5h1M2125 96.5h1M2125 97.5h1M2125 120.5h1M2132 86.5h1M2135 120.5h1M2138 116.5h1M2145 68.5h1M2146 66.5h1M2147 79.5h1M2148 77.5h1M2156 66.5h1M2160 83.5h1M2160 96.5h1M2164 78.5h1"/>
<path stroke="#d4473d" d="M1224 118.5h1M1233 73.5h1M1239 76.5h1M1239 86.5h1M1243 60.5h1M1245 89.5h1M1246 101.5h1M1249 90.5h1M1249 123.5h1M1258 107.5h1M1264 99.5h1M1265 79.5h1M1265 120.5h1M1268 121.5h1M1270 112.5h1M1273 107.5h1M1274 108.5h1M1284 79.5h1M1285 61.5h1M1287 62.5h1M1290 116.5h1M1291 74.5h1M1291 114.5h1M1296 99.5h1M1304 99.5h1M1310 72.5h1M1314 86.5h1M1316 110.5h1M1318 106.5h1M1320 126.5h1M1322 115.5h1M1328 74.5h1M1329 73.5h1M1334 67.5h1M1336 75.5h1M1338 72.5h1M1357 88.5h1M1364 63.5h1M1369 90.5h1M1396 63.5h1M1401 66.5h1M1421 124.5h1M1424 94.5h1M1428 115.5h1M1431 73.5h1M1435 113.5h1M1442 102.5h1M1448 78.5h1M1454 94.5h1M1457 87.5h1M1458 72.5h1M1458 80.5h1M1460 75.5h1M1460 81.5h1M1462 95.5h1M1465 79.5h1M1466 78.5h1M1471 103.5h1M1474 70.5h1M1478 113.5h1M1479 78.5h1M1480 90.5h1M1480 100.5h1M1483 108.5h1M1486 80.5h1M1492 114.5h1M1492 116.5h1M1493 94.5h1M1494 87.5h1M1494 108.5h1M1498 118.5h1M1501 102.5h1M1502 74.5h1M1502 102.5h1M1503 121.5h1M1503 122.5h1M1504 86.5h1M1504 104.5h1M1506 117.5h1M1508 114.5h1M1510 119.5h1M1510 121.5h1M1511 77.5h1M1512 108.5h1M1512 122.5h1M1514 114.5h1M1516 116.5h1M1516 119.5h1M1524 118.5h1M1526 61.5h1M1528 122.5h1M1531 76.5h1M1532 86.5h1M1533 119.5h1M1535 101.5h1M1536 64.5h1M1536 111.5h1M1537 73.5h1M1539 61.5h1M1540 108.5h1M1541 78.5h1M1542 91.5h1M1543 96.5h1M1549 91.5h1M1551 109.5h1M1552 104.5h1M1552 115.5h1M1555 101.5h1M1559 76.5h1M1559 80.5h1M1567 71.5h1M1568 71.5h1M1576 73.5h1M1579 78.5h1M1580 66.5h1M1586 88.5h1M1586 96.5h1M1587 81.5h1M1587 94.5h1M1588 65.5h1M1590 71.5h1M1591 67.5h1M1595 83.5h1M1609 92.5h1M1610 123.5h1M1618 94.5h1M1618 95.5h1M1632 125.5h1M1637 119.5h1M1639 90.5h1M1641 87.5h1M1649 95.5h1M1651 102.5h1M1656 101.5h1M1658 87.5h1M1660 116.5h1M1670 70.5h1M1683 111.5h1M1690 111.5h1M1703 117.5h1M1714 76.5h1M1715 70.5h1M1781 68.5h1M1797 72.5h1M1800 110.5h1M1801 60.5h1M1812 76.5h1M1813 78.5h1M1816 81.5h1M1817 89.5h1M1818 89.5h1M1820 99.5h1M1821 98.5h1M1823 80.5h1M1825 95.5h1M1826 85.5h1M1827 108.5h1M1831 79.5h1M1831 126.5h1M1837 124.5h1M1841 114.5h1M1841 116.5h1M1842 92.5h1M1842 111.5h1M1844 109.5h1M1845 106.5h1M1846 79.5h1M1846 84.5h1M1847 126.5h1M1849 87.5h1M1849 93.5h1M1851 66.5h1M1851 97.5h1M1853 110.5h1M1855 114.5h1M1860 118.5h1M1861 86.5h1M1862 116.5h1M1864 70.5h1M1864 109.5h1M1865 77.5h1M1865 120.5h1M1867 88.5h1M1871 70.5h1M1872 125.5h1M1873 90.5h1M1874 97.5h1M1874 99.5h1M1875 76.5h1M1876 70.5h1M1877 84.5h1M1877 98.5h1M1877 116.5h1M1877 117.5h1M1878 87.5h1M1879 113.5h1M1880 72.5h1M1880 105.5h1M1880 120.5h1M1881 77.5h1M1881 109.5h1M1881 115.5h1M1882 98.5h1M1882 102.5h1M1882 110.5h1M1883 101.5h1M1884 71.5h1M1884 122.5h1M1884 123.5h1M1887 117.5h1M1888 112.5h1M1889 65.5h1M1889 83.5h1M1890 104.5h1M1891 61.5h1M1891 91.5h1M1895 97.5h1M1895 100.5h1M1896 125.5h1M1897 94.5h1M1898 124.5h1M1899 93.5h1M1901 111.5h1M1903 92.5h1M1904 62.5h1M1904 122.5h1M1907 120.5h1M1908 117.5h1M1910 94.5h1M1910 121.5h1M1911 81.5h1M1911 95.5h1M1912 106.5h1M1913 122.5h1M1915 84.5h1M1915 116.5h1M1917 69.5h1M1918 98.5h1M1919 121.5h1M1922 80.5h1M1924 107.5h1M1925 61.5h1M1925 113.5h1M1926 68.5h1M1926 115.5h1M1927 91.5h1M1928 64.5h1M1928 65.5h1M1928 70.5h1M1930 96.5h1M1931 95.5h1M1932 111.5h1M1933 80.5h1M1933 98.5h1M1934 98.5h1M1934 102.5h1M1934 103.5h1M1935 114.5h1M1936 73.5h1M1940 104.5h1M1944 73.5h1M1945 74.5h1M1945 90.5h1M1947 101.5h1M1949 106.5h1M1951 107.5h1M1954 65.5h1M1955 65.5h1M1958 97.5h1M1958 123.5h1M1959 72.5h1M1961 99.5h1M1961 105.5h1M1962 61.5h1M1962 78.5h1M1962 106.5h1M1963 124.5h1M1966 61.5h1M1967 122.5h1M1968 82.5h1M1969 70.5h1M1971 120.5h1M1972 120.5h1M1972 121.5h1M1973 121.5h1M1976 99.5h1M1976 122.5h1M1978 103.5h1M1980 96.5h1M1980 103.5h1M1984 61.5h1M1988 61.5h1M1988 100.5h1M1989 116.5h1M1990 121.5h1M1992 79.5h1M1992 120.5h1M1993 64.5h1M1993 119.5h1M1997 91.5h1M1998 114.5h1M2000 69.5h1M2001 104.5h1M2002 99.5h1M2004 77.5h1M2004 100.5h1M2007 121.5h1M2008 68.5h1M2008 100.5h1M2009 69.5h1M2009 107.5h1M2010 84.5h1M2012 64.5h1M2012 96.5h1M2013 68.5h1M2014 66.5h1M2014 82.5h1M2017 106.5h1M2019 106.5h1M2021 81.5h1M2022 107.5h1M2023 74.5h1M2023 100.5h1M2026 79.5h1M2028 82.5h1M2028 96.5h1M2030 101.5h1M2031 119.5h1M2032 113.5h1M2033 106.5h1M2034 91.5h1M2038 96.5h1M2043 124.5h1M2048 118.5h1M2051 97.5h1M2056 125.5h1M2057 91.5h1M2059 82.5h1M2066 68.5h1M2071 87.5h1M2075 107.5h1M2075 117.5h1M2076 107.5h1M2078 83.5h1M2083 79.5h1M2083 96.5h1M2084 63.5h1M2085 118.5h1M2087 70.5h1M2087 82.5h1M2090 87.5h1M2091 72.5h1M2091 73.5h1M2098 110.5h1M2101 111.5h1M2102 78.5h1M2103 67.5h1M2105 108.5h1M2106 72.5h1M2106 75.5h1M2107 63.5h1M2107 76.5h1M2122 86.5h1M2124 107.5h1M2128 73.5h1M2128 83.5h1M2128 114.5h1M2132 96.5h1M2133 65.5h1M2143 91.5h1M2144 111.5h1M2151 111.5h1M2152 105.5h1M2153 96.5h1M2154 113.5h1M2156 88.5h1M2159 125.5h1M2162 98.5h1M2164 120.5h1M2166 111.5h1M2167 110.5h1M2167 112.5h1"/>
<path stroke="#5e9fd0" d="M1225 76.5h1M1228 111.5h1M1232 64.5h1M1232 91.5h1M1233 63.5h1M1233 92.5h1M1233 103.5h1M1233 110.5h1M1233 118.5h1M1234 62.5h1M1235 86.5h1M1235 113.5h1M1236 71.5h1M1236 99.5h1M1239 104.5h1M1240 90.5h1M1242 72.5h1M1249 73.5h1M1250 74.5h1M1250 99.5h1M1251 70.5h1M1252 61.5h1M1254 87.5h1M1254 88.5h1M1254 126.5h1M1256 121.5h1M1258 71.5h1M1259 74.5h1M1259 120.5h1M1262 84.5h1M1263 109.5h1M1263 113.5h1M1267 110.5h1M1270 66.5h1M1270 82.5h1M1271 83.5h1M1272 84.5h1M1273 85.5h1M1274 73.5h1M1276 68.5h1M1277 67.5h1M1277 71.5h1M1279 84.5h1M1280 83.5h1M1281 107.5h1M1282 62.5h1M1283 100.5h1M1284 104.5h1M1290 96.5h1M1291 81.5h1M1292 72.5h1M1293 71.5h1M1293 82.5h1M1293 117.5h1M1294 103.5h1M1294 119.5h1M1295 102.5h1M1302 117.5h1M1303 71.5h1M1306 84.5h1M1307 83.5h1M1310 81.5h1M1310 86.5h1M1310 99.5h1M1311 64.5h1M1311 73.5h1M1311 90.5h1M1312 83.5h1M1313 62.5h1M1313 78.5h1M1313 98.5h1M1314 113.5h1M1315 102.5h1M1316 101.5h1M1316 123.5h1M1317 100.5h1M1318 69.5h1M1318 114.5h1M1321 118.5h1M1323 81.5h1M1323 95.5h1M1323 117.5h1M1323 121.5h1M1325 84.5h1M1325 88.5h1M1326 106.5h1M1327 82.5h1M1327 87.5h1M1327 103.5h1M1329 67.5h1M1329 87.5h1M1330 85.5h1M1331 92.5h1M1331 101.5h1M1331 103.5h1M1331 107.5h1M1331 108.5h1M1331 112.5h1M1332 84.5h1M1332 87.5h1M1332 99.5h1M1332 118.5h1M1333 98.5h1M1333 117.5h1M1334 84.5h1M1334 103.5h1M1334 112.5h1M1334 115.5h1M1335 66.5h1M1335 75.5h1M1335 83.5h1M1335 87.5h1M1335 93.5h1M1335 102.5h1M1335 106.5h1M1335 116.5h1M1335 125.5h1M1336 98.5h1M1336 109.5h1M1338 62.5h1M1338 118.5h1M1339 92.5h1M1340 78.5h1M1341 68.5h1M1341 77.5h1M1341 112.5h1M1342 119.5h1M1343 76.5h1M1343 86.5h1M1343 104.5h1M1343 117.5h1M1344 65.5h1M1344 103.5h1M1344 117.5h1M1344 120.5h1M1347 83.5h1M1347 96.5h1M1348 70.5h1M1348 89.5h1M1348 107.5h1M1348 116.5h1M1348 119.5h1M1349 71.5h1M1350 72.5h1M1350 92.5h1M1350 116.5h1M1350 120.5h1M1351 61.5h1M1351 80.5h1M1351 97.5h1M1352 112.5h1M1352 115.5h1M1352 122.5h1M1353 61.5h1M1353 62.5h1M1353 68.5h1M1353 114.5h1M1353 115.5h1M1353 124.5h1M1354 76.5h1M1354 106.5h1M1355 91.5h1M1356 81.5h1M1356 90.5h1M1356 118.5h1M1356 123.5h1M1357 84.5h1M1357 111.5h1M1357 112.5h1M1357 119.5h1M1357 122.5h1M1358 60.5h1M1358 104.5h1M1359 94.5h1M1360 80.5h1M1360 84.5h1M1360 95.5h1M1360 96.5h1M1360 104.5h1M1360 109.5h1M1361 64.5h1M1361 74.5h1M1361 99.5h1M1361 108.5h1M1361 110.5h1M1361 111.5h1M1362 109.5h1M1362 116.5h1M1363 65.5h1M1363 67.5h1M1363 101.5h1M1363 108.5h1M1363 114.5h1M1363 117.5h1M1364 67.5h1M1364 107.5h1M1364 117.5h1M1364 121.5h1M1365 61.5h1M1365 66.5h1M1365 96.5h1M1365 104.5h1M1365 112.5h1M1365 114.5h1M1366 65.5h1M1366 95.5h1M1366 106.5h1M1366 119.5h1M1366 126.5h1M1368 70.5h1M1368 111.5h1M1368 112.5h1M1368 124.5h1M1369 80.5h1M1369 107.5h1M1369 112.5h1M1369 114.5h1M1369 118.5h1M1370 81.5h1M1370 99.5h1M1370 102.5h1M1370 121.5h1M1370 125.5h1M1371 62.5h1M1371 77.5h1M1371 106.5h1M1371 108.5h1M1371 123.5h1M1372 76.5h1M1373 81.5h1M1373 89.5h1M1373 91.5h1M1374 86.5h1M1374 99.5h1M1374 113.5h1M1376 71.5h1M1376 85.5h1M1376 105.5h1M1376 110.5h1M1376 120.5h1M1377 83.5h1M1377 105.5h1M1377 118.5h1M1378 78.5h1M1378 93.5h1M1378 94.5h1M1378 96.5h1M1378 101.5h1M1379 66.5h1M1379 85.5h1M1379 91.5h1M1379 124.5h1M1380 65.5h1M1380 86.5h1M1380 90.5h1M1380 93.5h1M1380 94.5h1M1380 99.5h1M1380 102.5h1M1380 109.5h1M1380 120.5h1M1381 99.5h1M1381 110.5h1M1381 116.5h1M1381 118.5h1M1381 119.5h1M1382 82.5h1M1382 87.5h1M1382 94.5h1M1382 117.5h1M1382 120.5h1M1382 122.5h1M1383 113.5h1M1383 116.5h1M1384 92.5h1M1384 105.5h1M1384 110.5h1M1384 117.5h1M1384 120.5h1M1384 126.5h1M1385 61.5h1M1385 73.5h1M1385 78.5h1M1385 82.5h1M1385 84.5h1M1385 99.5h1M1386 75.5h1M1386 81.5h1M1386 99.5h1M1386 106.5h1M1386 114.5h1M1387 76.5h1M1387 91.5h1M1387 94.5h1M1387 99.5h1M1387 100.5h1M1387 112.5h1M1387 124.5h1M1388 109.5h1M1388 124.5h1M1389 75.5h1M1389 96.5h1M1389 97.5h1M1389 104.5h1M1390 72.5h1M1390 76.5h1M1390 79.5h1M1390 97.5h1M1391 62.5h1M1391 113.5h1M1392 64.5h1M1392 106.5h1M1392 108.5h1M1392 112.5h1M1393 110.5h1M1393 116.5h1M1393 122.5h1M1394 87.5h1M1394 103.5h1M1395 69.5h1M1395 112.5h1M1396 99.5h1M1396 101.5h1M1396 120.5h1M1397 119.5h1M1398 123.5h1M1398 126.5h1M1399 109.5h1M1399 117.5h1M1400 65.5h1M1400 94.5h1M1401 62.5h1M1401 64.5h1M1401 86.5h1M1401 106.5h1M1401 112.5h1M1402 61.5h1M1402 108.5h1M1402 109.5h1M1402 114.5h1M1403 60.5h1M1403 70.5h1M1403 72.5h1M1403 86.5h1M1403 107.5h1M1403 108.5h1M1404 60.5h1M1404 82.5h1M1404 85.5h1M1404 106.5h1M1404 119.5h1M1404 121.5h1M1405 62.5h1M1405 93.5h1M1405 110.5h1M1405 111.5h1M1405 120.5h1M1406 101.5h1M1407 84.5h1M1408 62.5h1M1408 86.5h1M1408 98.5h1M1408 115.5h1M1408 124.5h1M1409 70.5h1M1409 79.5h1M1409 82.5h1M1409 110.5h1M1410 60.5h1M1410 69.5h1M1411 68.5h1M1411 80.5h1M1412 63.5h1M1412 100.5h1M1412 118.5h1M1413 82.5h1M1413 86.5h1M1413 119.5h1M1413 124.5h1M1414 64.5h1M1414 69.5h1M1414 77.5h1M1414 81.5h1M1414 85.5h1M1414 94.5h1M1414 104.5h1M1414 107.5h1M1414 114.5h1M1415 64.5h1M1415 81.5h1M1415 99.5h1M1416 65.5h1M1416 99.5h1M1417 70.5h1M1417 75.5h1M1417 108.5h1M1418 64.5h1M1418 71.5h1M1418 118.5h1M1419 74.5h1M1419 75.5h1M1419 81.5h1M1419 124.5h1M1420 68.5h1M1420 82.5h1M1421 65.5h1M1421 67.5h1M1421 72.5h1M1421 80.5h1M1421 82.5h1M1421 116.5h1M1422 81.5h1M1423 74.5h1M1423 76.5h1M1423 81.5h1M1423 88.5h1M1423 104.5h1M1424 73.5h1M1424 83.5h1M1426 89.5h1M1426 96.5h1M1426 98.5h1M1427 61.5h1M1427 75.5h1M1428 96.5h1M1429 60.5h1M1430 96.5h1M1431 84.5h1M1431 91.5h1M1432 70.5h1M1432 72.5h1M1432 73.5h1M1433 72.5h1M1433 86.5h1M1433 101.5h1M1433 105.5h1M1434 85.5h1M1434 102.5h1M1435 68.5h1M1435 84.5h1M1436 82.5h1M1436 86.5h1M1436 98.5h1M1436 103.5h1M1437 74.5h1M1437 92.5h1M1437 97.5h1M1438 96.5h1M1439 66.5h1M1439 101.5h1M1440 67.5h1M1441 103.5h1M1441 122.5h1M1442 123.5h1M1443 84.5h1M1445 93.5h1M1446 95.5h1M1447 93.5h1M1447 102.5h1M1448 101.5h1M1449 64.5h1M1449 120.5h1M1450 94.5h1M1450 106.5h1M1451 63.5h1M1451 98.5h1M1451 125.5h1M1452 92.5h1M1452 97.5h1M1453 68.5h1M1453 74.5h1M1453 124.5h1M1455 112.5h1M1456 117.5h1M1457 105.5h1M1458 63.5h1M1458 104.5h1M1458 119.5h1M1460 90.5h1M1461 73.5h1M1462 60.5h1M1462 102.5h1M1464 108.5h1M1464 123.5h1M1467 62.5h1M1468 91.5h1M1469 66.5h1M1469 68.5h1M1469 89.5h1M1470 65.5h1M1470 67.5h1M1470 86.5h1M1470 117.5h1M1471 85.5h1M1473 70.5h1M1473 110.5h1M1476 90.5h1M1476 101.5h1M1477 100.5h1M1478 77.5h1M1478 88.5h1M1478 99.5h1M1479 76.5h1M1480 89.5h1M1482 106.5h1M1483 105.5h1M1484 100.5h1M1485 62.5h1M1485 80.5h1M1485 114.5h1M1487 68.5h1M1487 116.5h1M1488 111.5h1M1489 112.5h1M1491 97.5h1M1492 104.5h1M1494 68.5h1M1494 93.5h1M1495 89.5h1M1495 116.5h1M1495 122.5h1M1496 115.5h1M1499 101.5h1M1500 69.5h1M1501 101.5h1M1502 77.5h1M1503 66.5h1M1503 100.5h1M1504 77.5h1M1505 63.5h1M1507 72.5h1M1507 84.5h1M1511 73.5h1M1513 80.5h1M1513 84.5h1M1514 76.5h1M1516 69.5h1M1516 87.5h1M1517 86.5h1M1519 60.5h1M1520 61.5h1M1522 65.5h1M1524 67.5h1M1524 79.5h1M1525 78.5h1M1527 84.5h1M1528 85.5h1M1529 70.5h1M1529 100.5h1M1533 98.5h1M1534 60.5h1M1538 92.5h1M1539 92.5h1M1539 97.5h1M1539 122.5h1M1541 119.5h1M1542 87.5h1M1548 83.5h1M1548 87.5h1M1548 99.5h1M1550 66.5h1M1554 112.5h1M1557 63.5h1M1557 84.5h1M1558 83.5h1M1558 110.5h1M1559 82.5h1M1560 86.5h1M1560 116.5h1M1562 119.5h1M1564 66.5h1M1565 68.5h1M1565 126.5h1M1566 69.5h1M1566 80.5h1M1566 85.5h1M1569 74.5h1M1569 107.5h1M1573 111.5h1M1573 118.5h1M1574 110.5h1M1575 91.5h1M1575 109.5h1M1579 63.5h1M1580 115.5h1M1580 126.5h1M1581 88.5h1M1581 107.5h1M1584 76.5h1M1584 126.5h1M1585 77.5h1M1586 112.5h1M1589 85.5h1M1591 79.5h1M1594 77.5h1M1595 76.5h1M1610 61.5h1M1611 126.5h1M1612 60.5h1M1612 119.5h1M1613 65.5h1M1614 64.5h1M1615 75.5h1M1615 88.5h1M1616 80.5h1M1616 90.5h1M1617 82.5h1M1618 69.5h1M1618 81.5h1M1619 68.5h1M1619 94.5h1M1620 67.5h1M1620 86.5h1M1620 94.5h1M1623 89.5h1M1623 100.5h1M1624 72.5h1M1624 91.5h1M1625 91.5h1M1625 92.5h1M1625 100.5h1M1626 67.5h1M1627 105.5h1M1628 79.5h1M1628 84.5h1M1630 70.5h1M1630 99.5h1M1631 90.5h1M1631 103.5h1M1633 103.5h1M1633 105.5h1M1634 76.5h1M1634 85.5h1M1635 77.5h1M1635 100.5h1M1636 63.5h1M1636 70.5h1M1636 94.5h1M1637 62.5h1M1637 66.5h1M1637 93.5h1M1637 111.5h1M1639 79.5h1M1639 113.5h1M1639 123.5h1M1640 80.5h1M1640 104.5h1M1640 124.5h1M1641 115.5h1M1642 84.5h1M1642 101.5h1M1642 126.5h1M1643 83.5h1M1643 84.5h1M1643 91.5h1M1644 75.5h1M1644 86.5h1M1644 101.5h1M1645 80.5h1M1645 101.5h1M1646 102.5h1M1646 103.5h1M1647 124.5h1M1648 67.5h1M1649 97.5h1M1650 69.5h1M1650 113.5h1M1650 125.5h1M1651 113.5h1M1651 114.5h1M1652 66.5h1M1652 120.5h1M1653 84.5h1M1653 111.5h1M1654 111.5h1M1654 118.5h1M1655 65.5h1M1656 66.5h1M1656 93.5h1M1656 106.5h1M1656 124.5h1M1656 125.5h1M1657 67.5h1M1658 102.5h1M1658 112.5h1M1659 98.5h1M1659 117.5h1M1660 100.5h1M1660 110.5h1M1660 121.5h1M1661 109.5h1M1661 115.5h1M1661 118.5h1M1662 70.5h1M1662 123.5h1M1663 97.5h1M1663 98.5h1M1664 92.5h1M1664 97.5h1M1664 112.5h1M1664 125.5h1M1665 97.5h1M1666 101.5h1M1666 120.5h1M1667 83.5h1M1667 123.5h1M1667 125.5h1M1669 88.5h1M1669 98.5h1M1669 105.5h1M1669 112.5h1M1669 125.5h1M1670 74.5h1M1670 87.5h1M1671 83.5h1M1671 85.5h1M1671 103.5h1M1672 100.5h1M1672 116.5h1M1673 102.5h1M1673 106.5h1M1674 80.5h1M1675 79.5h1M1677 69.5h1M1677 80.5h1M1677 94.5h1M1678 84.5h1M1678 99.5h1M1679 85.5h1M1679 93.5h1M1679 94.5h1M1679 110.5h1M1680 75.5h1M1680 76.5h1M1680 117.5h1M1680 123.5h1M1681 80.5h1M1681 89.5h1M1681 95.5h1M1681 125.5h1M1682 86.5h1M1683 61.5h1M1683 75.5h1M1683 85.5h1M1683 103.5h1M1683 126.5h1M1684 107.5h1M1685 122.5h1M1685 124.5h1M1686 78.5h1M1686 102.5h1M1686 119.5h1M1686 123.5h1M1688 72.5h1M1688 123.5h1M1689 74.5h1M1689 100.5h1M1689 109.5h1M1691 72.5h1M1691 94.5h1M1691 112.5h1M1691 116.5h1M1691 122.5h1M1691 125.5h1M1692 65.5h1M1692 101.5h1M1693 98.5h1M1693 105.5h1M1693 107.5h1M1694 99.5h1M1694 100.5h1M1695 69.5h1M1695 77.5h1M1695 90.5h1M1695 96.5h1M1695 124.5h1M1696 70.5h1M1696 76.5h1M1696 89.5h1M1696 115.5h1M1697 60.5h1M1697 75.5h1M1697 76.5h1M1697 104.5h1M1697 115.5h1M1698 62.5h1M1698 65.5h1M1698 66.5h1M1698 114.5h1M1699 65.5h1M1699 78.5h1M1699 97.5h1M1699 113.5h1M1700 118.5h1M1700 123.5h1M1701 67.5h1M1701 85.5h1M1701 103.5h1M1701 112.5h1M1701 120.5h1M1701 124.5h1M1702 101.5h1M1702 105.5h1M1702 112.5h1M1702 116.5h1M1703 105.5h1M1703 113.5h1M1704 82.5h1M1704 85.5h1M1704 105.5h1M1704 115.5h1M1705 63.5h1M1705 65.5h1M1705 86.5h1M1705 91.5h1M1705 111.5h1M1705 116.5h1M1706 88.5h1M1706 124.5h1M1706 126.5h1M1707 71.5h1M1707 82.5h1M1707 93.5h1M1707 99.5h1M1707 108.5h1M1707 119.5h1M1708 62.5h1M1708 63.5h1M1708 91.5h1M1708 97.5h1M1708 119.5h1M1709 108.5h1M1709 116.5h1M1710 108.5h1M1710 114.5h1M1710 117.5h1M1710 121.5h1M1711 96.5h1M1711 108.5h1M1711 115.5h1M1712 82.5h1M1712 96.5h1M1712 98.5h1M1712 105.5h1M1713 78.5h1M1713 84.5h1M1713 87.5h1M1714 66.5h1M1714 81.5h1M1714 89.5h1M1714 100.5h1M1714 107.5h1M1715 65.5h1M1715 69.5h1M1715 124.5h1M1716 61.5h1M1716 68.5h1M1716 73.5h1M1717 72.5h1M1717 87.5h1M1717 122.5h1M1718 125.5h1M1719 88.5h1M1719 90.5h1M1719 97.5h1M1719 103.5h1M1719 107.5h1M1719 112.5h1M1720 102.5h1M1720 107.5h1M1721 70.5h1M1721 81.5h1M1721 94.5h1M1721 123.5h1M1722 86.5h1M1722 95.5h1M1722 112.5h1M1722 116.5h1M1723 113.5h1M1724 95.5h1M1724 121.5h1M1725 81.5h1M1725 89.5h1M1725 109.5h1M1725 111.5h1M1725 122.5h1M1726 72.5h1M1726 100.5h1M1726 110.5h1M1726 111.5h1M1726 112.5h1M1727 91.5h1M1727 95.5h1M1727 109.5h1M1727 123.5h1M1727 125.5h1M1728 86.5h1M1728 107.5h1M1728 108.5h1M1728 119.5h1M1729 91.5h1M1729 92.5h1M1729 114.5h1M1730 74.5h1M1730 106.5h1M1731 78.5h1M1731 94.5h1M1732 98.5h1M1732 120.5h1M1732 122.5h1M1733 80.5h1M1733 110.5h1M1733 126.5h1M1734 78.5h1M1734 81.5h1M1734 88.5h1M1734 109.5h1M1734 121.5h1M1735 75.5h1M1735 84.5h1M1735 85.5h1M1735 103.5h1M1735 115.5h1M1736 77.5h1M1736 86.5h1M1736 111.5h1M1737 89.5h1M1737 93.5h1M1737 110.5h1M1737 117.5h1M1737 125.5h1M1738 68.5h1M1738 83.5h1M1738 111.5h1M1738 121.5h1M1738 125.5h1M1739 90.5h1M1739 96.5h1M1739 98.5h1M1739 117.5h1M1740 76.5h1M1740 84.5h1M1740 95.5h1M1740 117.5h1M1741 60.5h1M1741 65.5h1M1741 69.5h1M1741 76.5h1M1741 79.5h1M1741 86.5h1M1741 119.5h1M1742 79.5h1M1742 93.5h1M1742 100.5h1M1742 103.5h1M1742 120.5h1M1742 122.5h1M1743 62.5h1M1743 97.5h1M1743 102.5h1M1743 112.5h1M1744 77.5h1M1744 97.5h1M1744 110.5h1M1745 95.5h1M1745 122.5h1M1746 81.5h1M1746 89.5h1M1746 101.5h1M1746 106.5h1M1746 115.5h1M1746 124.5h1M1747 124.5h1M1748 76.5h1M1748 79.5h1M1748 104.5h1M1748 105.5h1M1749 88.5h1M1749 103.5h1M1750 93.5h1M1751 63.5h1M1751 70.5h1M1751 102.5h1M1751 106.5h1M1751 123.5h1M1752 76.5h1M1752 95.5h1M1753 82.5h1M1753 95.5h1M1753 98.5h1M1753 105.5h1M1753 117.5h1M1753 122.5h1M1754 82.5h1M1754 104.5h1M1754 116.5h1M1756 74.5h1M1756 102.5h1M1757 97.5h1M1757 98.5h1M1758 84.5h1M1758 111.5h1M1758 112.5h1M1759 100.5h1M1759 109.5h1M1759 114.5h1M1760 60.5h1M1760 77.5h1M1760 91.5h1M1760 92.5h1M1760 94.5h1M1760 99.5h1M1760 104.5h1M1760 115.5h1M1761 106.5h1M1763 65.5h1M1763 92.5h1M1763 111.5h1M1763 115.5h1M1764 87.5h1M1765 60.5h1M1765 65.5h1M1765 81.5h1M1765 98.5h1M1765 111.5h1M1766 76.5h1M1767 77.5h1M1767 86.5h1M1767 115.5h1M1768 96.5h1M1768 108.5h1M1769 121.5h1M1771 65.5h1M1771 103.5h1M1772 62.5h1M1772 76.5h1M1772 82.5h1M1772 86.5h1M1773 85.5h1M1773 104.5h1M1773 117.5h1M1773 118.5h1M1774 60.5h1M1774 64.5h1M1774 70.5h1M1774 77.5h1M1774 84.5h1M1774 91.5h1M1774 95.5h1M1774 113.5h1M1774 126.5h1M1775 83.5h1M1775 102.5h1M1775 103.5h1M1775 122.5h1M1777 89.5h1M1777 103.5h1M1777 108.5h1M1777 109.5h1M1777 120.5h1M1778 88.5h1M1779 89.5h1M1779 100.5h1M1779 106.5h1M1780 111.5h1M1781 91.5h1M1781 98.5h1M1782 110.5h1M1782 122.5h1M1783 97.5h1M1783 103.5h1M1783 104.5h1M1784 63.5h1M1784 110.5h1M1784 122.5h1M1785 102.5h1M1786 69.5h1M1787 64.5h1M1787 84.5h1M1787 88.5h1M1788 93.5h1M1788 109.5h1M1788 125.5h1M1789 92.5h1M1789 107.5h1M1790 92.5h1M1790 107.5h1M1790 110.5h1M1790 116.5h1M1791 85.5h1M1791 102.5h1M1792 115.5h1M1792 120.5h1M1793 91.5h1M1793 113.5h1M1794 95.5h1M1794 97.5h1M1795 85.5h1M1795 88.5h1M1795 94.5h1M1796 120.5h1M1797 86.5h1M1797 95.5h1M1798 94.5h1M1800 108.5h1M1801 90.5h1M1801 95.5h1M1802 88.5h1M1802 90.5h1M1802 118.5h1M1804 70.5h1M1804 99.5h1M1805 112.5h1M1806 68.5h1M1806 83.5h1M1806 98.5h1M1806 107.5h1M1807 108.5h1M1807 111.5h1M1807 122.5h1M1808 65.5h1M1808 91.5h1M1808 109.5h1M1810 62.5h1M1810 83.5h1M1811 118.5h1M1812 72.5h1M1813 103.5h1M1813 125.5h1M1814 68.5h1M1814 81.5h1M1814 104.5h1M1815 86.5h1M1815 126.5h1M1816 67.5h1M1818 62.5h1M1818 90.5h1M1823 77.5h1M1824 76.5h1M1824 96.5h1M1824 118.5h1M1825 77.5h1M1825 116.5h1M1826 78.5h1M1827 77.5h1M1827 103.5h1M1827 114.5h1M1827 118.5h1M1829 60.5h1M1829 97.5h1M1830 114.5h1M1831 115.5h1M1839 110.5h1M1845 66.5h1M1848 102.5h1M1848 103.5h1M1849 72.5h1M1851 70.5h1M1854 70.5h1M1854 102.5h1M1855 66.5h1M1857 76.5h1M1859 74.5h1M1861 90.5h1M1864 64.5h1M1866 103.5h1M1871 93.5h1M1873 62.5h1M1873 123.5h1M1874 122.5h1M1878 63.5h1M1878 101.5h1M1878 114.5h1M1879 62.5h1M1882 80.5h1M1882 82.5h1M1886 90.5h1M1888 107.5h1M1888 110.5h1M1890 79.5h1M1891 78.5h1M1892 77.5h1M1895 75.5h1M1897 77.5h1M1898 78.5h1M1899 77.5h1M1902 83.5h1M1904 74.5h1M1904 99.5h1M1906 66.5h1M1906 99.5h1M1911 75.5h1M1911 123.5h1M1915 81.5h1M1916 77.5h1M1916 118.5h1M1917 105.5h1M1918 92.5h1M1919 83.5h1M1919 107.5h1M1920 84.5h1M1920 125.5h1M1921 65.5h1M1923 82.5h1M1923 91.5h1M1923 102.5h1M1924 101.5h1M1925 100.5h1M1929 78.5h1M1930 72.5h1M1931 87.5h1M1933 94.5h1M1933 109.5h1M1934 63.5h1M1934 92.5h1M1934 108.5h1M1936 116.5h1M1937 115.5h1M1938 90.5h1M1938 114.5h1M1940 105.5h1M1941 78.5h1M1942 79.5h1M1943 87.5h1M1943 92.5h1M1943 100.5h1M1944 84.5h1M1944 98.5h1M1944 99.5h1M1944 126.5h1M1945 91.5h1M1945 99.5h1M1946 76.5h1M1947 76.5h1M1947 87.5h1M1947 103.5h1M1947 107.5h1M1947 123.5h1M1948 74.5h1M1948 86.5h1M1948 102.5h1M1948 104.5h1M1949 96.5h1M1950 95.5h1M1950 104.5h1M1951 102.5h1M1953 100.5h1M1954 109.5h1M1955 84.5h1M1955 106.5h1M1955 112.5h1M1957 79.5h1M1959 70.5h1M1960 66.5h1M1960 114.5h1M1961 112.5h1M1962 79.5h1M1962 87.5h1M1967 116.5h1M1968 117.5h1M1972 122.5h1M1974 66.5h1M1974 81.5h1M1976 71.5h1M1977 75.5h1M1978 66.5h1M1978 76.5h1M1978 90.5h1M1978 97.5h1M1979 65.5h1M1979 85.5h1M1980 88.5h1M1980 93.5h1M1980 109.5h1M1983 104.5h1M1986 118.5h1M1987 117.5h1M1997 108.5h1M1998 107.5h1M2001 126.5h1M2002 83.5h1M2002 105.5h1M2003 96.5h1M2003 103.5h1M2005 105.5h1M2006 79.5h1M2009 81.5h1M2015 105.5h1M2017 94.5h1M2017 103.5h1M2018 93.5h1M2019 90.5h1M2019 93.5h1M2022 100.5h1M2023 99.5h1M2030 76.5h1M2032 65.5h1M2033 65.5h1M2033 94.5h1M2035 68.5h1M2036 70.5h1M2038 67.5h1M2038 72.5h1M2041 77.5h1M2047 96.5h1M2053 96.5h1M2053 117.5h1M2054 65.5h1M2056 61.5h1M2056 63.5h1M2060 64.5h1M2063 78.5h1M2064 80.5h1M2065 61.5h1M2065 80.5h1M2065 110.5h1M2068 68.5h1M2068 83.5h1M2069 76.5h1M2070 62.5h1M2070 72.5h1M2071 80.5h1M2071 89.5h1M2071 120.5h1M2072 68.5h1M2072 75.5h1M2073 75.5h1M2073 121.5h1M2074 67.5h1M2074 83.5h1M2076 65.5h1M2076 81.5h1M2076 126.5h1M2078 99.5h1M2080 77.5h1M2082 95.5h1M2083 95.5h1M2084 98.5h1M2084 115.5h1M2087 113.5h1M2088 93.5h1M2088 104.5h1M2088 110.5h1M2090 117.5h1M2092 72.5h1M2092 103.5h1M2093 106.5h1M2093 121.5h1M2095 76.5h1M2095 98.5h1M2096 76.5h1M2096 110.5h1M2096 125.5h1M2097 96.5h1M2099 82.5h1M2101 101.5h1M2101 117.5h1M2102 87.5h1M2102 116.5h1M2104 86.5h1M2104 90.5h1M2105 85.5h1M2107 102.5h1M2107 115.5h1M2108 103.5h1M2108 113.5h1M2109 80.5h1M2109 96.5h1M2109 104.5h1M2110 62.5h1M2110 121.5h1M2112 60.5h1M2112 120.5h1M2113 113.5h1M2113 118.5h1M2114 112.5h1M2116 99.5h1M2116 107.5h1M2116 126.5h1M2117 68.5h1M2118 75.5h1M2119 65.5h1M2119 101.5h1M2120 64.5h1M2120 89.5h1M2122 87.5h1M2122 122.5h1M2123 87.5h1M2123 99.5h1M2124 102.5h1M2125 101.5h1M2125 106.5h1M2126 88.5h1M2126 107.5h1M2127 93.5h1M2127 97.5h1M2127 98.5h1M2128 93.5h1M2130 126.5h1M2131 88.5h1M2131 94.5h1M2132 124.5h1M2133 85.5h1M2133 96.5h1M2134 79.5h1M2135 78.5h1M2135 82.5h1M2137 80.5h1M2140 112.5h1M2141 73.5h1M2141 80.5h1M2142 81.5h1M2142 87.5h1M2144 93.5h1M2144 110.5h1M2145 69.5h1M2145 92.5h1M2146 67.5h1M2146 104.5h1M2147 86.5h1M2150 73.5h1M2150 74.5h1M2156 90.5h1M2158 63.5h1M2159 101.5h1M2162 81.5h1M2165 77.5h1M2167 73.5h1"/>
<path stroke="#e9785f" d="M1224 63.5h1M1224 87.5h1M1225 62.5h1M1225 80.5h1M1225 84.5h1M1225 117.5h1M1226 103.5h1M1227 91.5h1M1228 60.5h1M1228 78.5h1M1228 81.5h1M1228 101.5h1M1228 114.5h1M1229 86.5h1M1230 71.5h1M1230 108.5h1M1231 70.5h1M1231 80.5h1M1231 108.5h1M1232 69.5h1M1232 85.5h1M1233 69.5h1M1234 104.5h1M1235 102.5h1M1238 82.5h1M1238 87.5h1M1239 81.5h1M1239 84.5h1M1240 80.5h1M1240 83.5h1M1241 95.5h1M1241 101.5h1M1243 105.5h1M1244 61.5h1M1244 92.5h1M1247 65.5h1M1247 76.5h1M1247 80.5h1M1248 79.5h1M1248 103.5h1M1249 63.5h1M1249 103.5h1M1249 124.5h1M1251 123.5h1M1254 82.5h1M1254 98.5h1M1255 124.5h1M1256 73.5h1M1256 77.5h1M1258 70.5h1M1260 90.5h1M1264 66.5h1M1264 109.5h1M1265 92.5h1M1267 115.5h1M1267 121.5h1M1268 100.5h1M1269 100.5h1M1269 126.5h1M1272 63.5h1M1272 102.5h1M1275 93.5h1M1275 117.5h1M1277 107.5h1M1278 126.5h1M1279 90.5h1M1280 72.5h1M1280 85.5h1M1280 122.5h1M1281 71.5h1M1281 123.5h1M1282 85.5h1M1282 122.5h1M1282 124.5h1M1283 63.5h1M1283 107.5h1M1283 110.5h1M1284 116.5h1M1284 120.5h1M1285 77.5h1M1288 118.5h1M1290 65.5h1M1290 70.5h1M1291 122.5h1M1294 105.5h1M1294 108.5h1M1294 112.5h1M1295 113.5h1M1296 103.5h1M1296 114.5h1M1298 100.5h1M1299 99.5h1M1302 96.5h1M1303 95.5h1M1304 73.5h1M1304 90.5h1M1305 76.5h1M1306 71.5h1M1307 94.5h1M1307 118.5h1M1307 126.5h1M1308 117.5h1M1311 71.5h1M1315 87.5h1M1315 90.5h1M1316 89.5h1M1317 69.5h1M1317 88.5h1M1318 85.5h1M1319 107.5h1M1322 63.5h1M1324 69.5h1M1328 114.5h1M1329 113.5h1M1330 123.5h1M1335 113.5h1M1336 74.5h1M1336 108.5h1M1339 64.5h1M1344 84.5h1M1351 67.5h1M1353 98.5h1M1354 98.5h1M1354 99.5h1M1355 90.5h1M1356 89.5h1M1356 103.5h1M1357 63.5h1M1362 61.5h1M1362 99.5h1M1363 62.5h1M1363 98.5h1M1364 97.5h1M1370 70.5h1M1373 125.5h1M1376 68.5h1M1380 60.5h1M1381 98.5h1M1396 94.5h1M1399 64.5h1M1399 91.5h1M1401 89.5h1M1401 109.5h1M1409 102.5h1M1410 103.5h1M1411 61.5h1M1411 115.5h1M1413 126.5h1M1420 85.5h1M1420 103.5h1M1421 62.5h1M1422 63.5h1M1424 119.5h1M1425 93.5h1M1426 84.5h1M1426 117.5h1M1429 109.5h1M1429 114.5h1M1431 111.5h1M1432 71.5h1M1435 115.5h1M1435 119.5h1M1440 123.5h1M1443 61.5h1M1446 66.5h1M1448 80.5h1M1448 88.5h1M1451 61.5h1M1453 91.5h1M1454 74.5h1M1454 86.5h1M1455 95.5h1M1456 60.5h1M1459 60.5h1M1459 82.5h1M1459 97.5h1M1459 100.5h1M1460 98.5h1M1462 98.5h1M1464 77.5h1M1464 96.5h1M1466 81.5h1M1467 82.5h1M1468 67.5h1M1468 82.5h1M1469 81.5h1M1469 83.5h1M1471 69.5h1M1472 89.5h1M1472 107.5h1M1473 121.5h1M1474 91.5h1M1474 122.5h1M1475 74.5h1M1475 101.5h1M1475 117.5h1M1475 122.5h1M1476 79.5h1M1477 96.5h1M1479 123.5h1M1480 72.5h1M1481 68.5h1M1483 64.5h1M1483 80.5h1M1484 125.5h1M1485 103.5h1M1486 121.5h1M1486 122.5h1M1487 64.5h1M1487 111.5h1M1487 121.5h1M1488 66.5h1M1488 79.5h1M1488 117.5h1M1489 69.5h1M1489 78.5h1M1489 84.5h1M1490 120.5h1M1492 93.5h1M1493 87.5h1M1493 112.5h1M1494 84.5h1M1494 89.5h1M1494 100.5h1M1494 106.5h1M1494 120.5h1M1494 121.5h1M1495 75.5h1M1495 112.5h1M1496 112.5h1M1496 123.5h1M1496 125.5h1M1497 68.5h1M1498 80.5h1M1498 99.5h1M1499 84.5h1M1499 114.5h1M1499 125.5h1M1500 93.5h1M1500 96.5h1M1500 101.5h1M1500 124.5h1M1500 125.5h1M1501 85.5h1M1501 104.5h1M1501 125.5h1M1503 125.5h1M1504 78.5h1M1504 103.5h1M1504 123.5h1M1504 126.5h1M1505 103.5h1M1506 83.5h1M1506 90.5h1M1506 105.5h1M1507 93.5h1M1507 104.5h1M1507 115.5h1M1508 96.5h1M1508 98.5h1M1508 109.5h1M1508 110.5h1M1509 97.5h1M1510 107.5h1M1510 122.5h1M1511 99.5h1M1511 103.5h1M1511 111.5h1M1512 100.5h1M1512 106.5h1M1512 109.5h1M1513 108.5h1M1514 94.5h1M1514 105.5h1M1514 107.5h1M1515 106.5h1M1515 125.5h1M1516 92.5h1M1516 102.5h1M1516 108.5h1M1516 118.5h1M1516 122.5h1M1517 102.5h1M1517 114.5h1M1518 94.5h1M1518 98.5h1M1518 99.5h1M1518 109.5h1M1519 110.5h1M1520 86.5h1M1520 93.5h1M1520 98.5h1M1520 111.5h1M1520 113.5h1M1520 117.5h1M1520 120.5h1M1521 83.5h1M1521 97.5h1M1521 108.5h1M1521 119.5h1M1521 120.5h1M1521 126.5h1M1522 76.5h1M1522 84.5h1M1522 107.5h1M1522 109.5h1M1522 113.5h1M1522 115.5h1M1522 118.5h1M1522 119.5h1M1523 112.5h1M1523 123.5h1M1524 122.5h1M1525 70.5h1M1527 60.5h1M1528 80.5h1M1528 84.5h1M1528 87.5h1M1528 120.5h1M1528 126.5h1M1529 81.5h1M1529 117.5h1M1529 121.5h1M1529 125.5h1M1530 63.5h1M1530 77.5h1M1530 119.5h1M1531 62.5h1M1531 96.5h1M1534 93.5h1M1534 109.5h1M1534 126.5h1M1535 74.5h1M1535 75.5h1M1535 122.5h1M1536 89.5h1M1536 97.5h1M1536 126.5h1M1537 86.5h1M1537 96.5h1M1537 124.5h1M1538 61.5h1M1538 71.5h1M1539 94.5h1M1539 107.5h1M1540 116.5h1M1541 63.5h1M1541 77.5h1M1541 105.5h1M1542 83.5h1M1542 100.5h1M1542 112.5h1M1542 114.5h1M1542 125.5h1M1543 76.5h1M1543 85.5h1M1543 88.5h1M1543 95.5h1M1543 107.5h1M1543 111.5h1M1543 119.5h1M1544 77.5h1M1544 113.5h1M1545 93.5h1M1545 109.5h1M1547 80.5h1M1547 106.5h1M1548 93.5h1M1550 79.5h1M1550 101.5h1M1551 101.5h1M1551 114.5h1M1552 71.5h1M1554 77.5h1M1555 85.5h1M1555 122.5h1M1556 68.5h1M1556 123.5h1M1557 124.5h1M1558 76.5h1M1559 63.5h1M1559 96.5h1M1559 118.5h1M1560 61.5h1M1561 69.5h1M1561 78.5h1M1562 77.5h1M1562 98.5h1M1564 81.5h1M1566 99.5h1M1567 63.5h1M1567 85.5h1M1569 70.5h1M1570 65.5h1M1571 70.5h1M1571 76.5h1M1571 94.5h1M1571 126.5h1M1572 68.5h1M1572 93.5h1M1573 69.5h1M1575 66.5h1M1578 79.5h1M1578 100.5h1M1579 80.5h1M1580 81.5h1M1582 94.5h1M1582 110.5h1M1585 65.5h1M1586 64.5h1M1586 80.5h1M1586 113.5h1M1586 114.5h1M1587 63.5h1M1587 89.5h1M1587 103.5h1M1587 114.5h1M1588 100.5h1M1589 72.5h1M1594 82.5h1M1594 106.5h1M1595 104.5h1M1595 126.5h1M1596 80.5h1M1597 82.5h1M1598 103.5h1M1601 73.5h1M1601 116.5h1M1602 74.5h1M1603 91.5h1M1605 91.5h1M1607 76.5h1M1607 108.5h1M1608 86.5h1M1609 110.5h1M1609 119.5h1M1611 124.5h1M1613 115.5h1M1614 89.5h1M1616 86.5h1M1616 115.5h1M1617 89.5h1M1619 76.5h1M1621 103.5h1M1622 102.5h1M1622 115.5h1M1624 110.5h1M1625 65.5h1M1626 66.5h1M1627 115.5h1M1631 87.5h1M1631 124.5h1M1633 89.5h1M1635 119.5h1M1639 77.5h1M1641 100.5h1M1641 110.5h1M1642 81.5h1M1643 102.5h1M1645 124.5h1M1646 116.5h1M1649 92.5h1M1650 93.5h1M1652 74.5h1M1653 91.5h1M1653 97.5h1M1653 109.5h1M1655 78.5h1M1656 85.5h1M1657 100.5h1M1661 117.5h1M1662 101.5h1M1664 103.5h1M1664 119.5h1M1665 68.5h1M1666 111.5h1M1671 69.5h1M1671 93.5h1M1671 108.5h1M1671 122.5h1M1672 92.5h1M1672 118.5h1M1685 84.5h1M1688 90.5h1M1693 60.5h1M1698 122.5h1M1701 75.5h1M1705 82.5h1M1707 107.5h1M1713 110.5h1M1715 72.5h1M1716 71.5h1M1720 90.5h1M1721 63.5h1M1722 64.5h1M1724 112.5h1M1726 76.5h1M1731 65.5h1M1736 65.5h1M1744 87.5h1M1747 82.5h1M1747 96.5h1M1748 61.5h1M1753 65.5h1M1758 106.5h1M1759 104.5h1M1760 105.5h1M1764 99.5h1M1767 122.5h1M1768 82.5h1M1776 86.5h1M1780 67.5h1M1780 97.5h1M1780 110.5h1M1780 113.5h1M1781 110.5h1M1782 99.5h1M1786 66.5h1M1790 105.5h1M1794 119.5h1M1795 97.5h1M1796 71.5h1M1797 61.5h1M1798 73.5h1M1799 81.5h1M1799 112.5h1M1802 81.5h1M1803 80.5h1M1806 62.5h1M1807 60.5h1M1807 75.5h1M1807 101.5h1M1808 61.5h1M1808 71.5h1M1808 76.5h1M1808 86.5h1M1811 78.5h1M1811 85.5h1M1811 125.5h1M1813 77.5h1M1813 114.5h1M1813 119.5h1M1814 79.5h1M1814 107.5h1M1814 115.5h1M1814 118.5h1M1815 63.5h1M1815 66.5h1M1815 93.5h1M1815 111.5h1M1815 114.5h1M1815 116.5h1M1817 70.5h1M1817 88.5h1M1818 69.5h1M1818 84.5h1M1818 87.5h1M1819 88.5h1M1819 91.5h1M1819 97.5h1M1820 88.5h1M1820 97.5h1M1821 114.5h1M1822 92.5h1M1823 89.5h1M1823 91.5h1M1824 73.5h1M1824 109.5h1M1825 108.5h1M1825 115.5h1M1828 107.5h1M1828 109.5h1M1829 89.5h1M1830 62.5h1M1830 79.5h1M1830 86.5h1M1831 81.5h1M1832 60.5h1M1832 118.5h1M1832 119.5h1M1832 124.5h1M1833 61.5h1M1833 77.5h1M1834 74.5h1M1834 85.5h1M1835 86.5h1M1835 98.5h1M1835 110.5h1M1836 87.5h1M1836 89.5h1M1836 111.5h1M1837 89.5h1M1837 97.5h1M1837 112.5h1M1837 125.5h1M1838 95.5h1M1838 115.5h1M1838 125.5h1M1839 64.5h1M1839 74.5h1M1839 114.5h1M1839 119.5h1M1840 65.5h1M1840 98.5h1M1840 114.5h1M1841 62.5h1M1841 66.5h1M1841 86.5h1M1841 95.5h1M1841 117.5h1M1842 118.5h1M1842 123.5h1M1843 98.5h1M1843 114.5h1M1844 114.5h1M1844 124.5h1M1845 94.5h1M1845 112.5h1M1846 105.5h1M1846 121.5h1M1846 125.5h1M1847 84.5h1M1847 101.5h1M1847 106.5h1M1847 108.5h1M1848 83.5h1M1849 77.5h1M1849 81.5h1M1849 124.5h1M1849 125.5h1M1850 108.5h1M1850 124.5h1M1851 75.5h1M1851 101.5h1M1851 112.5h1M1852 86.5h1M1852 91.5h1M1852 122.5h1M1853 64.5h1M1853 94.5h1M1853 99.5h1M1853 121.5h1M1855 97.5h1M1855 122.5h1M1855 123.5h1M1856 60.5h1M1856 72.5h1M1856 107.5h1M1857 98.5h1M1857 106.5h1M1857 116.5h1M1858 62.5h1M1858 99.5h1M1858 105.5h1M1858 112.5h1M1859 99.5h1M1859 100.5h1M1859 112.5h1M1860 122.5h1M1861 98.5h1M1861 108.5h1M1861 117.5h1M1862 82.5h1M1862 85.5h1M1862 86.5h1M1862 87.5h1M1862 94.5h1M1863 93.5h1M1863 95.5h1M1863 104.5h1M1863 111.5h1M1864 92.5h1M1864 96.5h1M1864 125.5h1M1865 91.5h1M1866 77.5h1M1866 90.5h1M1866 106.5h1M1867 77.5h1M1867 87.5h1M1867 120.5h1M1868 71.5h1M1868 88.5h1M1868 102.5h1M1869 66.5h1M1869 89.5h1M1870 89.5h1M1870 106.5h1M1870 107.5h1M1870 121.5h1M1871 126.5h1M1873 66.5h1M1874 94.5h1M1875 84.5h1M1875 98.5h1M1875 118.5h1M1875 123.5h1M1876 89.5h1M1876 111.5h1M1877 87.5h1M1877 122.5h1M1878 72.5h1M1878 80.5h1M1878 112.5h1M1878 117.5h1M1878 118.5h1M1879 81.5h1M1879 123.5h1M1880 68.5h1M1880 115.5h1M1880 121.5h1M1881 64.5h1M1881 67.5h1M1881 105.5h1M1881 121.5h1M1882 108.5h1M1883 93.5h1M1883 104.5h1M1883 106.5h1M1883 111.5h1M1883 116.5h1M1883 122.5h1M1883 123.5h1M1883 124.5h1M1884 72.5h1M1884 95.5h1M1884 111.5h1M1884 112.5h1M1884 119.5h1M1885 70.5h1M1885 106.5h1M1886 85.5h1M1887 104.5h1M1887 106.5h1M1887 108.5h1M1887 115.5h1M1888 82.5h1M1888 85.5h1M1888 93.5h1M1888 101.5h1M1889 73.5h1M1889 97.5h1M1889 113.5h1M1889 118.5h1M1890 62.5h1M1890 88.5h1M1890 90.5h1M1890 96.5h1M1890 111.5h1M1890 116.5h1M1891 87.5h1M1891 110.5h1M1891 117.5h1M1891 126.5h1M1892 60.5h1M1892 109.5h1M1893 77.5h1M1893 87.5h1M1893 99.5h1M1893 100.5h1M1893 109.5h1M1895 109.5h1M1895 120.5h1M1895 124.5h1M1896 86.5h1M1896 121.5h1M1897 65.5h1M1897 120.5h1M1898 84.5h1M1898 120.5h1M1899 83.5h1M1899 116.5h1M1900 83.5h1M1900 98.5h1M1900 110.5h1M1901 73.5h1M1901 98.5h1M1901 99.5h1M1902 87.5h1M1902 118.5h1M1903 123.5h1M1904 113.5h1M1904 114.5h1M1904 123.5h1M1905 60.5h1M1905 116.5h1M1905 118.5h1M1906 60.5h1M1906 101.5h1M1907 98.5h1M1907 118.5h1M1908 89.5h1M1909 90.5h1M1909 92.5h1M1909 120.5h1M1910 62.5h1M1910 70.5h1M1910 79.5h1M1910 93.5h1M1910 110.5h1M1910 114.5h1M1911 69.5h1M1911 78.5h1M1911 94.5h1M1911 103.5h1M1911 104.5h1M1911 111.5h1M1912 77.5h1M1912 84.5h1M1913 75.5h1M1913 78.5h1M1913 101.5h1M1914 107.5h1M1915 64.5h1M1915 106.5h1M1915 119.5h1M1916 82.5h1M1916 116.5h1M1917 112.5h1M1918 72.5h1M1918 91.5h1M1918 96.5h1M1918 102.5h1M1919 96.5h1M1919 104.5h1M1919 123.5h1M1920 97.5h1M1920 122.5h1M1921 97.5h1M1921 99.5h1M1921 121.5h1M1922 81.5h1M1922 112.5h1M1923 68.5h1M1923 69.5h1M1923 78.5h1M1923 111.5h1M1923 120.5h1M1924 70.5h1M1924 120.5h1M1925 62.5h1M1925 91.5h1M1925 103.5h1M1925 119.5h1M1926 89.5h1M1926 107.5h1M1927 65.5h1M1927 66.5h1M1927 107.5h1M1928 83.5h1M1928 90.5h1M1928 93.5h1M1928 108.5h1M1928 109.5h1M1928 126.5h1M1929 61.5h1M1929 63.5h1M1929 74.5h1M1929 88.5h1M1929 123.5h1M1929 125.5h1M1930 73.5h1M1931 80.5h1M1931 89.5h1M1931 101.5h1M1931 115.5h1M1932 63.5h1M1932 68.5h1M1932 108.5h1M1933 61.5h1M1933 110.5h1M1933 116.5h1M1934 60.5h1M1934 75.5h1M1934 80.5h1M1934 82.5h1M1934 91.5h1M1934 97.5h1M1934 110.5h1M1934 122.5h1M1935 79.5h1M1935 83.5h1M1935 101.5h1M1935 124.5h1M1936 71.5h1M1936 75.5h1M1936 78.5h1M1936 84.5h1M1937 75.5h1M1937 109.5h1M1939 72.5h1M1939 82.5h1M1941 65.5h1M1941 68.5h1M1941 103.5h1M1941 109.5h1M1942 67.5h1M1942 102.5h1M1942 110.5h1M1943 96.5h1M1943 115.5h1M1944 64.5h1M1944 65.5h1M1944 116.5h1M1945 82.5h1M1945 108.5h1M1945 117.5h1M1946 74.5h1M1946 83.5h1M1946 91.5h1M1946 92.5h1M1947 85.5h1M1948 84.5h1M1948 105.5h1M1949 83.5h1M1949 89.5h1M1949 95.5h1M1950 82.5h1M1950 93.5h1M1951 88.5h1M1952 81.5h1M1952 93.5h1M1954 80.5h1M1954 87.5h1M1954 110.5h1M1955 116.5h1M1956 63.5h1M1956 75.5h1M1956 99.5h1M1956 106.5h1M1956 125.5h1M1957 74.5h1M1957 106.5h1M1957 116.5h1M1958 100.5h1M1958 109.5h1M1958 117.5h1M1959 79.5h1M1959 120.5h1M1960 101.5h1M1960 103.5h1M1960 110.5h1M1960 112.5h1M1961 108.5h1M1961 125.5h1M1962 69.5h1M1962 124.5h1M1963 93.5h1M1963 97.5h1M1963 107.5h1M1963 108.5h1M1963 109.5h1M1964 61.5h1M1964 69.5h1M1964 78.5h1M1964 91.5h1M1964 93.5h1M1965 76.5h1M1965 119.5h1M1966 109.5h1M1966 121.5h1M1967 118.5h1M1968 60.5h1M1968 73.5h1M1968 120.5h1M1969 74.5h1M1969 79.5h1M1969 117.5h1M1969 120.5h1M1969 125.5h1M1970 69.5h1M1970 91.5h1M1971 96.5h1M1972 114.5h1M1972 115.5h1M1972 125.5h1M1973 103.5h1M1973 111.5h1M1974 80.5h1M1974 122.5h1M1975 71.5h1M1975 86.5h1M1975 99.5h1M1975 121.5h1M1976 81.5h1M1976 85.5h1M1976 92.5h1M1977 91.5h1M1977 100.5h1M1977 107.5h1M1977 122.5h1M1977 126.5h1M1978 94.5h1M1979 117.5h1M1980 100.5h1M1980 105.5h1M1980 116.5h1M1980 126.5h1M1981 103.5h1M1981 115.5h1M1982 70.5h1M1982 119.5h1M1982 125.5h1M1983 112.5h1M1984 68.5h1M1984 83.5h1M1984 112.5h1M1985 64.5h1M1985 68.5h1M1986 65.5h1M1986 69.5h1M1986 87.5h1M1986 119.5h1M1987 99.5h1M1987 114.5h1M1988 69.5h1M1988 71.5h1M1989 65.5h1M1989 115.5h1M1989 122.5h1M1990 115.5h1M1991 111.5h1M1991 121.5h1M1992 64.5h1M1992 71.5h1M1992 89.5h1M1992 106.5h1M1992 123.5h1M1993 72.5h1M1993 78.5h1M1993 108.5h1M1993 123.5h1M1994 74.5h1M1994 105.5h1M1994 118.5h1M1995 108.5h1M1995 110.5h1M1996 77.5h1M1996 97.5h1M1997 122.5h1M1998 122.5h1M1999 77.5h1M1999 84.5h1M2000 77.5h1M2000 87.5h1M2001 68.5h1M2001 79.5h1M2001 86.5h1M2001 97.5h1M2001 109.5h1M2001 123.5h1M2002 98.5h1M2002 104.5h1M2003 124.5h1M2005 61.5h1M2005 98.5h1M2005 99.5h1M2005 104.5h1M2006 60.5h1M2006 65.5h1M2006 91.5h1M2007 76.5h1M2007 109.5h1M2007 116.5h1M2007 117.5h1M2008 73.5h1M2008 78.5h1M2008 84.5h1M2008 85.5h1M2008 107.5h1M2009 109.5h1M2009 123.5h1M2010 110.5h1M2010 121.5h1M2011 82.5h1M2012 68.5h1M2012 120.5h1M2013 80.5h1M2013 98.5h1M2014 61.5h1M2014 94.5h1M2014 102.5h1M2015 75.5h1M2015 81.5h1M2016 74.5h1M2016 89.5h1M2016 96.5h1M2017 78.5h1M2017 86.5h1M2017 92.5h1M2017 118.5h1M2018 79.5h1M2018 92.5h1M2018 101.5h1M2018 108.5h1M2019 95.5h1M2020 78.5h1M2020 120.5h1M2020 124.5h1M2021 71.5h1M2021 78.5h1M2021 108.5h1M2021 122.5h1M2022 62.5h1M2022 71.5h1M2022 120.5h1M2022 121.5h1M2022 122.5h1M2022 125.5h1M2024 90.5h1M2024 94.5h1M2026 98.5h1M2026 101.5h1M2027 91.5h1M2028 78.5h1M2028 116.5h1M2029 80.5h1M2029 87.5h1M2029 109.5h1M2029 110.5h1M2030 109.5h1M2030 123.5h1M2031 73.5h1M2031 111.5h1M2031 120.5h1M2032 73.5h1M2032 84.5h1M2032 90.5h1M2033 123.5h1M2034 63.5h1M2034 75.5h1M2034 115.5h1M2035 88.5h1M2035 98.5h1M2036 100.5h1M2036 120.5h1M2037 97.5h1M2037 117.5h1M2037 122.5h1M2038 83.5h1M2038 118.5h1M2039 121.5h1M2040 100.5h1M2041 66.5h1M2041 100.5h1M2042 87.5h1M2042 89.5h1M2042 98.5h1M2042 104.5h1M2043 99.5h1M2044 100.5h1M2045 66.5h1M2045 116.5h1M2045 123.5h1M2047 101.5h1M2047 120.5h1M2048 81.5h1M2048 97.5h1M2048 98.5h1M2048 121.5h1M2049 68.5h1M2050 69.5h1M2050 70.5h1M2050 89.5h1M2050 116.5h1M2050 125.5h1M2051 70.5h1M2051 102.5h1M2051 106.5h1M2051 113.5h1M2051 126.5h1M2052 98.5h1M2052 112.5h1M2052 121.5h1M2053 112.5h1M2053 125.5h1M2054 107.5h1M2054 109.5h1M2054 115.5h1M2055 74.5h1M2055 85.5h1M2055 91.5h1M2056 122.5h1M2057 121.5h1M2057 124.5h1M2058 124.5h1M2059 103.5h1M2060 93.5h1M2060 113.5h1M2061 83.5h1M2061 100.5h1M2062 91.5h1M2063 92.5h1M2063 95.5h1M2063 113.5h1M2064 117.5h1M2066 91.5h1M2066 111.5h1M2066 120.5h1M2067 67.5h1M2067 93.5h1M2067 124.5h1M2068 66.5h1M2068 126.5h1M2069 88.5h1M2069 95.5h1M2070 105.5h1M2071 82.5h1M2071 98.5h1M2072 88.5h1M2072 97.5h1M2073 101.5h1M2074 63.5h1M2075 65.5h1M2075 97.5h1M2075 116.5h1M2077 78.5h1M2077 107.5h1M2078 109.5h1M2078 110.5h1M2080 123.5h1M2081 66.5h1M2082 78.5h1M2083 62.5h1M2083 68.5h1M2084 78.5h1M2084 94.5h1M2084 118.5h1M2085 104.5h1M2086 121.5h1M2087 121.5h1M2088 61.5h1M2088 98.5h1M2089 73.5h1M2091 71.5h1M2091 88.5h1M2091 94.5h1M2091 125.5h1M2093 64.5h1M2094 67.5h1M2094 69.5h1M2094 80.5h1M2094 121.5h1M2095 120.5h1M2096 62.5h1M2096 70.5h1M2096 87.5h1M2096 95.5h1M2097 66.5h1M2097 69.5h1M2098 65.5h1M2098 68.5h1M2098 75.5h1M2099 67.5h1M2099 75.5h1M2101 69.5h1M2101 79.5h1M2101 102.5h1M2102 80.5h1M2103 68.5h1M2103 81.5h1M2105 105.5h1M2106 62.5h1M2106 77.5h1M2110 67.5h1M2110 98.5h1M2113 69.5h1M2114 61.5h1M2114 92.5h1M2115 92.5h1M2115 122.5h1M2116 124.5h1M2117 86.5h1M2117 99.5h1M2119 104.5h1M2120 110.5h1M2121 111.5h1M2124 80.5h1M2124 84.5h1M2125 85.5h1M2125 118.5h1M2126 105.5h1M2126 115.5h1M2127 69.5h1M2127 114.5h1M2128 112.5h1M2129 87.5h1M2130 77.5h1M2131 109.5h1M2132 62.5h1M2132 106.5h1M2133 94.5h1M2133 106.5h1M2134 93.5h1M2135 103.5h1M2136 61.5h1M2136 62.5h1M2136 125.5h1M2137 84.5h1M2138 64.5h1M2142 100.5h1M2142 126.5h1M2145 105.5h1M2145 114.5h1M2145 125.5h1M2145 126.5h1M2146 120.5h1M2146 121.5h1M2147 111.5h1M2147 114.5h1M2149 62.5h1M2149 104.5h1M2149 116.5h1M2150 111.5h1M2150 116.5h1M2151 115.5h1M2151 119.5h1M2153 73.5h1M2153 77.5h1M2153 106.5h1M2154 77.5h1M2154 108.5h1M2155 94.5h1M2155 109.5h1M2156 77.5h1M2157 87.5h1M2157 92.5h1M2157 101.5h1M2157 105.5h1M2158 113.5h1M2158 114.5h1M2158 119.5h1M2158 124.5h1M2159 112.5h1M2159 121.5h1M2159 122.5h1M2160 106.5h1M2160 111.5h1M2160 118.5h1M2160 125.5h1M2161 99.5h1M2161 108.5h1M2161 117.5h1M2162 108.5h1M2162 118.5h1M2162 119.5h1M2163 80.5h1M2163 83.5h1M2163 96.5h1M2163 115.5h1M2164 90.5h1M2165 74.5h1M2165 90.5h1M2165 98.5h1M2165 108.5h1M2167 71.5h1M2167 85.5h1M2167 121.5h1"/>
<path stroke="#93c2e0" d="M1224 68.5h1M1226 96.5h1M1228 119.5h1M1230 66.5h1M1234 73.5h1M1235 112.5h1M1236 112.5h1M1237 98.5h1M1238 61.5h1M1238 103.5h1M1242 92.5h1M1246 115.5h1M1247 116.5h1M1249 105.5h1M1251 117.5h1M1252 86.5h1M1253 60.5h1M1253 119.5h1M1254 115.5h1M1254 119.5h1M1258 63.5h1M1258 85.5h1M1259 111.5h1M1260 61.5h1M1260 73.5h1M1260 98.5h1M1261 74.5h1M1261 122.5h1M1263 76.5h1M1263 83.5h1M1263 125.5h1M1264 68.5h1M1264 126.5h1M1265 107.5h1M1265 112.5h1M1266 111.5h1M1269 83.5h1M1273 74.5h1M1276 86.5h1M1276 113.5h1M1277 87.5h1M1277 109.5h1M1278 70.5h1M1278 85.5h1M1278 93.5h1M1279 66.5h1M1282 70.5h1M1283 61.5h1M1283 69.5h1M1283 74.5h1M1283 93.5h1M1284 68.5h1M1284 101.5h1M1285 82.5h1M1285 126.5h1M1286 81.5h1M1289 77.5h1M1292 105.5h1M1292 117.5h1M1293 106.5h1M1294 70.5h1M1294 83.5h1M1295 90.5h1M1296 104.5h1M1298 65.5h1M1299 66.5h1M1299 68.5h1M1299 69.5h1M1299 81.5h1M1300 69.5h1M1300 75.5h1M1301 69.5h1M1302 70.5h1M1308 82.5h1M1309 75.5h1M1309 89.5h1M1311 76.5h1M1312 60.5h1M1312 89.5h1M1313 61.5h1M1313 87.5h1M1313 88.5h1M1314 71.5h1M1314 87.5h1M1314 93.5h1M1314 112.5h1M1315 106.5h1M1315 111.5h1M1318 78.5h1M1319 76.5h1M1320 67.5h1M1320 78.5h1M1321 77.5h1M1321 79.5h1M1321 80.5h1M1322 69.5h1M1322 76.5h1M1322 79.5h1M1322 89.5h1M1322 94.5h1M1322 119.5h1M1322 122.5h1M1323 76.5h1M1323 78.5h1M1323 88.5h1M1323 125.5h1M1324 71.5h1M1324 77.5h1M1324 123.5h1M1324 124.5h1M1325 124.5h1M1326 81.5h1M1326 101.5h1M1326 104.5h1M1328 102.5h1M1329 90.5h1M1330 86.5h1M1330 87.5h1M1330 102.5h1M1331 83.5h1M1331 85.5h1M1332 98.5h1M1332 104.5h1M1332 109.5h1M1333 77.5h1M1333 110.5h1M1334 76.5h1M1335 62.5h1M1335 97.5h1M1335 98.5h1M1336 60.5h1M1336 82.5h1M1336 85.5h1M1336 87.5h1M1336 92.5h1M1336 100.5h1M1336 125.5h1M1337 67.5h1M1337 71.5h1M1337 83.5h1M1338 84.5h1M1338 123.5h1M1339 68.5h1M1339 84.5h1M1340 111.5h1M1340 122.5h1M1341 97.5h1M1341 117.5h1M1341 122.5h1M1342 66.5h1M1342 118.5h1M1342 124.5h1M1343 66.5h1M1343 81.5h1M1343 110.5h1M1343 118.5h1M1343 119.5h1M1344 77.5h1M1345 70.5h1M1345 112.5h1M1345 113.5h1M1345 114.5h1M1346 100.5h1M1346 108.5h1M1346 109.5h1M1346 114.5h1M1346 118.5h1M1346 119.5h1M1347 115.5h1M1347 116.5h1M1347 117.5h1M1348 67.5h1M1348 69.5h1M1348 95.5h1M1348 110.5h1M1348 113.5h1M1349 78.5h1M1349 90.5h1M1349 93.5h1M1349 96.5h1M1349 110.5h1M1350 79.5h1M1350 108.5h1M1351 83.5h1M1351 91.5h1M1351 100.5h1M1351 116.5h1M1351 119.5h1M1351 120.5h1M1352 63.5h1M1352 100.5h1M1353 85.5h1M1353 113.5h1M1354 60.5h1M1354 62.5h1M1354 74.5h1M1354 103.5h1M1355 66.5h1M1355 73.5h1M1355 80.5h1M1355 124.5h1M1356 63.5h1M1356 101.5h1M1356 113.5h1M1357 70.5h1M1357 82.5h1M1357 93.5h1M1357 96.5h1M1357 108.5h1M1358 87.5h1M1358 94.5h1M1358 97.5h1M1358 107.5h1M1358 109.5h1M1358 111.5h1M1358 114.5h1M1358 120.5h1M1359 95.5h1M1359 96.5h1M1359 105.5h1M1359 109.5h1M1359 110.5h1M1359 114.5h1M1360 78.5h1M1360 97.5h1M1361 81.5h1M1361 92.5h1M1361 95.5h1M1362 66.5h1M1362 82.5h1M1362 119.5h1M1363 66.5h1M1363 118.5h1M1364 64.5h1M1364 76.5h1M1364 111.5h1M1364 113.5h1M1364 126.5h1M1365 77.5h1M1366 64.5h1M1366 85.5h1M1366 114.5h1M1367 107.5h1M1368 93.5h1M1368 104.5h1M1368 106.5h1M1369 91.5h1M1369 111.5h1M1369 120.5h1M1369 122.5h1M1370 115.5h1M1370 122.5h1M1370 126.5h1M1371 88.5h1M1371 89.5h1M1371 98.5h1M1371 105.5h1M1371 120.5h1M1372 61.5h1M1372 90.5h1M1372 101.5h1M1372 105.5h1M1372 120.5h1M1372 124.5h1M1373 87.5h1M1373 100.5h1M1373 102.5h1M1373 115.5h1M1373 118.5h1M1374 90.5h1M1374 100.5h1M1375 76.5h1M1375 81.5h1M1375 89.5h1M1375 90.5h1M1375 106.5h1M1375 114.5h1M1375 126.5h1M1376 84.5h1M1376 86.5h1M1376 88.5h1M1376 90.5h1M1376 92.5h1M1376 106.5h1M1376 122.5h1M1377 79.5h1M1377 82.5h1M1377 97.5h1M1377 98.5h1M1377 120.5h1M1377 123.5h1M1378 84.5h1M1378 106.5h1M1378 122.5h1M1379 77.5h1M1379 90.5h1M1379 95.5h1M1379 97.5h1M1379 98.5h1M1379 100.5h1M1380 89.5h1M1380 92.5h1M1380 125.5h1M1381 63.5h1M1381 82.5h1M1381 85.5h1M1381 88.5h1M1381 101.5h1M1381 121.5h1M1382 72.5h1M1382 84.5h1M1382 93.5h1M1382 102.5h1M1383 71.5h1M1383 76.5h1M1383 84.5h1M1383 103.5h1M1383 115.5h1M1383 118.5h1M1384 67.5h1M1384 85.5h1M1385 93.5h1M1385 98.5h1M1385 103.5h1M1385 111.5h1M1385 113.5h1M1385 114.5h1M1385 120.5h1M1385 125.5h1M1386 72.5h1M1386 79.5h1M1386 94.5h1M1386 102.5h1M1386 107.5h1M1386 111.5h1M1386 112.5h1M1387 71.5h1M1387 80.5h1M1387 109.5h1M1387 114.5h1M1388 81.5h1M1388 92.5h1M1388 95.5h1M1388 100.5h1M1388 113.5h1M1389 98.5h1M1389 103.5h1M1390 108.5h1M1390 119.5h1M1391 80.5h1M1391 83.5h1M1391 90.5h1M1391 94.5h1M1391 108.5h1M1391 110.5h1M1391 115.5h1M1391 120.5h1M1391 124.5h1M1392 82.5h1M1392 89.5h1M1392 94.5h1M1393 90.5h1M1393 92.5h1M1393 118.5h1M1394 83.5h1M1394 101.5h1M1394 104.5h1M1394 109.5h1M1394 112.5h1M1394 117.5h1M1394 118.5h1M1394 120.5h1M1394 123.5h1M1395 105.5h1M1396 73.5h1M1396 82.5h1M1396 95.5h1M1396 100.5h1M1396 115.5h1M1396 122.5h1M1397 98.5h1M1397 124.5h1M1398 94.5h1M1398 100.5h1M1398 116.5h1M1399 66.5h1M1399 95.5h1M1399 100.5h1M1399 121.5h1M1399 122.5h1M1400 63.5h1M1400 105.5h1M1401 93.5h1M1402 62.5h1M1402 106.5h1M1402 110.5h1M1403 61.5h1M1403 64.5h1M1403 81.5h1M1403 91.5h1M1403 100.5h1M1403 118.5h1M1404 65.5h1M1404 73.5h1M1404 112.5h1M1404 123.5h1M1405 74.5h1M1405 81.5h1M1405 84.5h1M1405 106.5h1M1406 103.5h1M1406 116.5h1M1407 87.5h1M1407 109.5h1M1408 71.5h1M1408 78.5h1M1408 111.5h1M1408 118.5h1M1409 86.5h1M1409 116.5h1M1409 120.5h1M1410 71.5h1M1410 115.5h1M1410 116.5h1M1411 72.5h1M1411 83.5h1M1411 101.5h1M1411 116.5h1M1411 119.5h1M1411 121.5h1M1411 122.5h1M1412 67.5h1M1412 73.5h1M1412 120.5h1M1413 62.5h1M1413 68.5h1M1413 71.5h1M1413 81.5h1M1414 126.5h1M1415 73.5h1M1415 125.5h1M1416 72.5h1M1416 109.5h1M1417 69.5h1M1417 126.5h1M1418 68.5h1M1418 76.5h1M1418 95.5h1M1418 96.5h1M1419 67.5h1M1419 77.5h1M1419 98.5h1M1420 64.5h1M1420 74.5h1M1420 83.5h1M1421 66.5h1M1421 126.5h1M1422 85.5h1M1422 87.5h1M1422 103.5h1M1423 67.5h1M1423 89.5h1M1424 75.5h1M1424 91.5h1M1425 63.5h1M1425 88.5h1M1425 123.5h1M1426 62.5h1M1426 104.5h1M1427 69.5h1M1427 92.5h1M1427 116.5h1M1428 60.5h1M1428 70.5h1M1428 87.5h1M1429 65.5h1M1429 75.5h1M1429 92.5h1M1430 86.5h1M1431 71.5h1M1431 75.5h1M1431 95.5h1M1432 74.5h1M1432 76.5h1M1432 104.5h1M1432 108.5h1M1433 73.5h1M1433 99.5h1M1434 69.5h1M1434 120.5h1M1435 95.5h1M1435 103.5h1M1435 106.5h1M1435 110.5h1M1435 111.5h1M1436 65.5h1M1436 70.5h1M1437 93.5h1M1438 75.5h1M1438 121.5h1M1438 126.5h1M1439 92.5h1M1439 118.5h1M1439 120.5h1M1440 91.5h1M1440 107.5h1M1441 98.5h1M1443 93.5h1M1444 67.5h1M1444 92.5h1M1445 61.5h1M1445 88.5h1M1445 91.5h1M1447 62.5h1M1448 62.5h1M1448 82.5h1M1448 96.5h1M1449 63.5h1M1449 95.5h1M1449 121.5h1M1450 99.5h1M1451 72.5h1M1452 64.5h1M1452 86.5h1M1453 80.5h1M1454 68.5h1M1455 69.5h1M1455 74.5h1M1455 119.5h1M1456 67.5h1M1456 73.5h1M1456 94.5h1M1456 120.5h1M1457 112.5h1M1459 62.5h1M1459 75.5h1M1459 89.5h1M1459 103.5h1M1459 110.5h1M1460 74.5h1M1460 125.5h1M1461 61.5h1M1461 91.5h1M1461 101.5h1M1462 108.5h1M1462 114.5h1M1463 104.5h1M1465 91.5h1M1465 114.5h1M1466 92.5h1M1466 121.5h1M1468 61.5h1M1469 90.5h1M1469 107.5h1M1469 118.5h1M1470 125.5h1M1471 66.5h1M1471 126.5h1M1472 84.5h1M1474 71.5h1M1474 105.5h1M1475 92.5h1M1476 120.5h1M1477 87.5h1M1479 89.5h1M1479 94.5h1M1479 97.5h1M1479 107.5h1M1481 109.5h1M1483 68.5h1M1483 69.5h1M1483 99.5h1M1484 69.5h1M1484 70.5h1M1484 94.5h1M1485 70.5h1M1485 88.5h1M1485 99.5h1M1485 108.5h1M1485 112.5h1M1486 69.5h1M1486 98.5h1M1486 115.5h1M1488 90.5h1M1494 122.5h1M1495 123.5h1M1496 95.5h1M1499 68.5h1M1500 102.5h1M1503 102.5h1M1504 69.5h1M1504 92.5h1M1505 70.5h1M1506 71.5h1M1506 85.5h1M1507 95.5h1M1508 94.5h1M1509 65.5h1M1510 74.5h1M1512 79.5h1M1514 62.5h1M1515 70.5h1M1515 71.5h1M1517 66.5h1M1518 67.5h1M1520 116.5h1M1523 66.5h1M1525 116.5h1M1526 105.5h1M1527 106.5h1M1528 81.5h1M1530 84.5h1M1531 100.5h1M1532 87.5h1M1532 95.5h1M1532 99.5h1M1534 67.5h1M1535 95.5h1M1536 65.5h1M1537 97.5h1M1539 93.5h1M1539 99.5h1M1540 85.5h1M1540 91.5h1M1541 86.5h1M1542 120.5h1M1543 81.5h1M1546 81.5h1M1548 68.5h1M1552 98.5h1M1552 108.5h1M1554 65.5h1M1555 64.5h1M1556 63.5h1M1558 64.5h1M1558 95.5h1M1558 114.5h1M1559 101.5h1M1559 111.5h1M1559 115.5h1M1561 104.5h1M1562 64.5h1M1563 65.5h1M1565 84.5h1M1567 79.5h1M1569 109.5h1M1570 102.5h1M1570 108.5h1M1571 109.5h1M1572 111.5h1M1572 122.5h1M1573 121.5h1M1574 63.5h1M1574 92.5h1M1575 65.5h1M1575 92.5h1M1575 123.5h1M1577 65.5h1M1577 96.5h1M1577 99.5h1M1578 124.5h1M1580 108.5h1M1580 110.5h1M1582 106.5h1M1583 77.5h1M1584 105.5h1M1585 71.5h1M1585 106.5h1M1589 120.5h1M1591 76.5h1M1591 99.5h1M1592 67.5h1M1593 78.5h1M1593 85.5h1M1599 76.5h1M1599 122.5h1M1600 121.5h1M1601 120.5h1M1609 62.5h1M1611 114.5h1M1611 120.5h1M1613 74.5h1M1613 76.5h1M1615 83.5h1M1615 87.5h1M1616 93.5h1M1617 94.5h1M1618 79.5h1M1618 82.5h1M1619 65.5h1M1619 87.5h1M1620 77.5h1M1620 85.5h1M1620 95.5h1M1621 95.5h1M1622 88.5h1M1622 93.5h1M1624 92.5h1M1625 68.5h1M1625 105.5h1M1626 97.5h1M1628 69.5h1M1629 70.5h1M1629 98.5h1M1629 99.5h1M1630 89.5h1M1631 67.5h1M1632 71.5h1M1632 103.5h1M1632 104.5h1M1633 65.5h1M1633 69.5h1M1633 81.5h1M1634 70.5h1M1634 77.5h1M1634 91.5h1M1634 109.5h1M1635 64.5h1M1635 74.5h1M1635 75.5h1M1635 86.5h1M1636 99.5h1M1636 109.5h1M1637 104.5h1M1639 63.5h1M1639 89.5h1M1639 95.5h1M1639 105.5h1M1640 126.5h1M1641 73.5h1M1641 86.5h1M1642 75.5h1M1642 90.5h1M1642 125.5h1M1643 76.5h1M1644 77.5h1M1644 123.5h1M1645 91.5h1M1645 102.5h1M1647 94.5h1M1647 101.5h1M1648 94.5h1M1649 64.5h1M1649 124.5h1M1650 96.5h1M1651 68.5h1M1651 75.5h1M1651 82.5h1M1652 67.5h1M1652 109.5h1M1653 104.5h1M1653 112.5h1M1653 120.5h1M1654 97.5h1M1654 105.5h1M1655 81.5h1M1655 94.5h1M1655 96.5h1M1655 110.5h1M1655 126.5h1M1656 117.5h1M1660 60.5h1M1660 72.5h1M1660 117.5h1M1661 71.5h1M1662 99.5h1M1662 108.5h1M1662 114.5h1M1662 119.5h1M1663 91.5h1M1665 93.5h1M1665 119.5h1M1666 98.5h1M1667 101.5h1M1668 86.5h1M1668 97.5h1M1668 124.5h1M1669 75.5h1M1669 99.5h1M1669 101.5h1M1670 85.5h1M1670 98.5h1M1670 100.5h1M1671 97.5h1M1671 100.5h1M1671 101.5h1M1672 87.5h1M1672 93.5h1M1672 101.5h1M1672 115.5h1M1673 74.5h1M1673 81.5h1M1673 87.5h1M1673 91.5h1M1674 76.5h1M1674 81.5h1M1674 84.5h1M1674 86.5h1M1674 99.5h1M1674 102.5h1M1674 107.5h1M1675 96.5h1M1675 110.5h1M1676 79.5h1M1677 106.5h1M1677 114.5h1M1678 113.5h1M1679 76.5h1M1679 112.5h1M1679 115.5h1M1679 123.5h1M1680 113.5h1M1681 94.5h1M1681 109.5h1M1681 110.5h1M1681 116.5h1M1682 79.5h1M1682 95.5h1M1683 77.5h1M1683 110.5h1M1683 120.5h1M1683 122.5h1M1684 62.5h1M1684 113.5h1M1684 123.5h1M1684 125.5h1M1685 79.5h1M1685 82.5h1M1685 96.5h1M1686 93.5h1M1686 95.5h1M1686 112.5h1M1687 126.5h1M1688 99.5h1M1688 118.5h1M1688 126.5h1M1689 73.5h1M1689 84.5h1M1689 89.5h1M1689 101.5h1M1689 115.5h1M1690 60.5h1M1690 66.5h1M1690 75.5h1M1690 99.5h1M1691 61.5h1M1691 99.5h1M1691 109.5h1M1692 71.5h1M1692 75.5h1M1692 81.5h1M1692 110.5h1M1693 63.5h1M1693 65.5h1M1693 66.5h1M1693 109.5h1M1693 122.5h1M1693 126.5h1M1694 73.5h1M1694 90.5h1M1694 97.5h1M1694 122.5h1M1695 66.5h1M1695 84.5h1M1695 98.5h1M1695 117.5h1M1696 60.5h1M1696 88.5h1M1696 101.5h1M1696 113.5h1M1697 64.5h1M1697 67.5h1M1697 71.5h1M1697 103.5h1M1698 77.5h1M1698 106.5h1M1698 111.5h1M1698 116.5h1M1699 62.5h1M1700 75.5h1M1700 77.5h1M1700 97.5h1M1700 98.5h1M1700 121.5h1M1701 81.5h1M1701 98.5h1M1701 117.5h1M1702 66.5h1M1702 73.5h1M1703 62.5h1M1703 65.5h1M1703 80.5h1M1703 112.5h1M1704 66.5h1M1704 86.5h1M1704 124.5h1M1704 126.5h1M1705 95.5h1M1705 107.5h1M1705 112.5h1M1706 94.5h1M1706 96.5h1M1706 108.5h1M1706 112.5h1M1706 114.5h1M1706 116.5h1M1707 68.5h1M1707 72.5h1M1707 118.5h1M1708 64.5h1M1708 67.5h1M1708 75.5h1M1708 109.5h1M1708 122.5h1M1709 65.5h1M1709 91.5h1M1709 103.5h1M1709 114.5h1M1709 117.5h1M1709 121.5h1M1709 122.5h1M1709 126.5h1M1710 66.5h1M1710 95.5h1M1710 107.5h1M1710 113.5h1M1711 107.5h1M1711 114.5h1M1711 125.5h1M1712 79.5h1M1712 102.5h1M1712 106.5h1M1712 112.5h1M1712 115.5h1M1712 126.5h1M1713 99.5h1M1713 113.5h1M1713 126.5h1M1714 85.5h1M1714 126.5h1M1715 60.5h1M1715 74.5h1M1715 88.5h1M1715 89.5h1M1715 120.5h1M1715 121.5h1M1716 85.5h1M1716 123.5h1M1717 81.5h1M1717 114.5h1M1717 121.5h1M1718 64.5h1M1718 83.5h1M1718 88.5h1M1718 108.5h1M1718 113.5h1M1718 118.5h1M1718 122.5h1M1719 65.5h1M1719 78.5h1M1719 83.5h1M1719 109.5h1M1720 73.5h1M1720 80.5h1M1720 125.5h1M1721 114.5h1M1721 115.5h1M1722 80.5h1M1722 114.5h1M1723 79.5h1M1723 83.5h1M1723 96.5h1M1723 105.5h1M1723 112.5h1M1724 80.5h1M1724 107.5h1M1724 108.5h1M1725 93.5h1M1726 123.5h1M1726 126.5h1M1727 87.5h1M1727 110.5h1M1727 112.5h1M1727 119.5h1M1728 72.5h1M1728 106.5h1M1729 103.5h1M1729 105.5h1M1729 110.5h1M1730 79.5h1M1730 105.5h1M1730 115.5h1M1730 120.5h1M1731 82.5h1M1731 119.5h1M1731 121.5h1M1731 124.5h1M1732 64.5h1M1732 90.5h1M1732 108.5h1M1733 63.5h1M1733 104.5h1M1734 99.5h1M1734 115.5h1M1735 76.5h1M1735 94.5h1M1735 100.5h1M1736 70.5h1M1736 94.5h1M1736 102.5h1M1736 112.5h1M1736 115.5h1M1737 69.5h1M1737 87.5h1M1737 122.5h1M1737 124.5h1M1738 65.5h1M1738 78.5h1M1738 84.5h1M1738 88.5h1M1738 99.5h1M1738 106.5h1M1738 112.5h1M1738 116.5h1M1738 119.5h1M1739 67.5h1M1739 76.5h1M1739 78.5h1M1739 92.5h1M1739 94.5h1M1739 111.5h1M1739 114.5h1M1739 122.5h1M1740 75.5h1M1740 79.5h1M1740 87.5h1M1740 98.5h1M1741 74.5h1M1741 93.5h1M1741 115.5h1M1741 117.5h1M1742 61.5h1M1742 105.5h1M1742 114.5h1M1743 65.5h1M1743 78.5h1M1743 99.5h1M1743 108.5h1M1743 115.5h1M1744 81.5h1M1744 91.5h1M1744 101.5h1M1745 82.5h1M1745 88.5h1M1745 94.5h1M1745 98.5h1M1745 104.5h1M1745 105.5h1M1745 120.5h1M1746 78.5h1M1746 123.5h1M1746 126.5h1M1747 77.5h1M1747 86.5h1M1747 90.5h1M1747 102.5h1M1747 105.5h1M1747 106.5h1M1747 108.5h1M1747 126.5h1M1748 86.5h1M1748 103.5h1M1748 112.5h1M1748 117.5h1M1749 111.5h1M1749 124.5h1M1750 72.5h1M1750 75.5h1M1750 106.5h1M1751 75.5h1M1752 82.5h1M1752 97.5h1M1752 100.5h1M1752 106.5h1M1752 110.5h1M1752 123.5h1M1753 72.5h1M1753 92.5h1M1753 108.5h1M1753 111.5h1M1754 123.5h1M1755 62.5h1M1755 95.5h1M1755 99.5h1M1755 114.5h1M1756 98.5h1M1756 124.5h1M1757 101.5h1M1757 112.5h1M1758 76.5h1M1760 108.5h1M1761 68.5h1M1761 93.5h1M1761 105.5h1M1761 108.5h1M1762 93.5h1M1762 98.5h1M1762 106.5h1M1762 110.5h1M1763 66.5h1M1763 72.5h1M1763 86.5h1M1764 60.5h1M1764 65.5h1M1764 80.5h1M1764 88.5h1M1764 93.5h1M1764 112.5h1M1765 61.5h1M1765 84.5h1M1765 100.5h1M1765 103.5h1M1766 63.5h1M1766 64.5h1M1766 79.5h1M1766 124.5h1M1767 63.5h1M1767 114.5h1M1768 78.5h1M1768 104.5h1M1768 113.5h1M1768 114.5h1M1768 120.5h1M1769 97.5h1M1770 66.5h1M1770 69.5h1M1770 98.5h1M1770 106.5h1M1772 65.5h1M1772 117.5h1M1774 69.5h1M1774 104.5h1M1774 116.5h1M1774 119.5h1M1775 90.5h1M1775 111.5h1M1775 112.5h1M1776 82.5h1M1776 89.5h1M1776 90.5h1M1776 117.5h1M1776 125.5h1M1777 66.5h1M1777 67.5h1M1777 85.5h1M1777 95.5h1M1777 112.5h1M1778 66.5h1M1778 81.5h1M1778 89.5h1M1778 99.5h1M1778 102.5h1M1779 65.5h1M1779 110.5h1M1780 79.5h1M1780 85.5h1M1780 99.5h1M1780 102.5h1M1780 124.5h1M1781 118.5h1M1782 63.5h1M1782 97.5h1M1783 62.5h1M1783 99.5h1M1783 100.5h1M1784 124.5h1M1785 63.5h1M1785 64.5h1M1785 70.5h1M1785 75.5h1M1785 97.5h1M1786 65.5h1M1786 106.5h1M1786 112.5h1M1787 80.5h1M1787 99.5h1M1787 118.5h1M1788 76.5h1M1788 108.5h1M1789 73.5h1M1789 90.5h1M1789 108.5h1M1789 115.5h1M1789 126.5h1M1790 81.5h1M1791 75.5h1M1792 79.5h1M1792 86.5h1M1792 87.5h1M1792 103.5h1M1793 80.5h1M1793 87.5h1M1794 81.5h1M1794 89.5h1M1794 112.5h1M1795 83.5h1M1795 99.5h1M1795 111.5h1M1795 122.5h1M1796 84.5h1M1796 87.5h1M1796 111.5h1M1796 123.5h1M1797 96.5h1M1797 100.5h1M1798 91.5h1M1798 100.5h1M1798 113.5h1M1799 101.5h1M1800 71.5h1M1800 76.5h1M1800 92.5h1M1800 96.5h1M1800 102.5h1M1801 70.5h1M1803 72.5h1M1803 89.5h1M1803 90.5h1M1803 109.5h1M1803 112.5h1M1804 83.5h1M1804 97.5h1M1805 70.5h1M1805 98.5h1M1805 113.5h1M1806 97.5h1M1808 64.5h1M1808 80.5h1M1808 92.5h1M1808 124.5h1M1809 82.5h1M1809 92.5h1M1809 98.5h1M1809 120.5h1M1811 73.5h1M1811 84.5h1M1812 103.5h1M1813 82.5h1M1814 126.5h1M1817 63.5h1M1817 68.5h1M1817 72.5h1M1817 80.5h1M1817 93.5h1M1818 124.5h1M1819 61.5h1M1819 125.5h1M1820 119.5h1M1823 70.5h1M1823 123.5h1M1826 73.5h1M1826 117.5h1M1828 61.5h1M1828 62.5h1M1828 119.5h1M1829 101.5h1M1833 114.5h1M1835 99.5h1M1837 101.5h1M1843 79.5h1M1849 102.5h1M1851 117.5h1M1853 119.5h1M1855 92.5h1M1855 103.5h1M1856 67.5h1M1863 65.5h1M1869 90.5h1M1873 91.5h1M1879 96.5h1M1881 91.5h1M1885 123.5h1M1886 78.5h1M1886 124.5h1M1887 70.5h1M1887 77.5h1M1888 74.5h1M1888 76.5h1M1889 75.5h1M1889 80.5h1M1889 96.5h1M1890 94.5h1M1895 85.5h1M1895 86.5h1M1896 76.5h1M1897 97.5h1M1898 93.5h1M1898 107.5h1M1899 102.5h1M1900 91.5h1M1900 123.5h1M1901 119.5h1M1901 125.5h1M1902 126.5h1M1903 98.5h1M1903 99.5h1M1904 106.5h1M1905 65.5h1M1905 73.5h1M1908 83.5h1M1909 108.5h1M1910 109.5h1M1911 108.5h1M1912 107.5h1M1915 115.5h1M1916 90.5h1M1917 76.5h1M1917 120.5h1M1921 113.5h1M1921 125.5h1M1922 123.5h1M1923 66.5h1M1923 100.5h1M1926 110.5h1M1929 71.5h1M1929 107.5h1M1932 61.5h1M1933 60.5h1M1933 69.5h1M1937 84.5h1M1937 93.5h1M1938 85.5h1M1938 116.5h1M1939 110.5h1M1940 100.5h1M1941 123.5h1M1942 84.5h1M1943 71.5h1M1943 83.5h1M1946 86.5h1M1947 75.5h1M1948 124.5h1M1950 83.5h1M1950 97.5h1M1951 103.5h1M1952 114.5h1M1953 69.5h1M1954 100.5h1M1954 111.5h1M1955 71.5h1M1955 81.5h1M1955 101.5h1M1955 110.5h1M1956 70.5h1M1956 80.5h1M1956 113.5h1M1957 108.5h1M1958 106.5h1M1959 110.5h1M1960 63.5h1M1960 69.5h1M1960 99.5h1M1960 100.5h1M1960 109.5h1M1960 111.5h1M1961 68.5h1M1961 100.5h1M1961 110.5h1M1962 72.5h1M1962 90.5h1M1963 91.5h1M1964 105.5h1M1965 80.5h1M1965 86.5h1M1965 95.5h1M1966 85.5h1M1969 104.5h1M1969 112.5h1M1970 100.5h1M1970 103.5h1M1970 111.5h1M1971 69.5h1M1972 70.5h1M1972 118.5h1M1973 65.5h1M1973 71.5h1M1975 72.5h1M1976 100.5h1M1978 86.5h1M1979 110.5h1M1980 60.5h1M1981 99.5h1M1981 110.5h1M1982 95.5h1M1983 77.5h1M1984 95.5h1M1985 120.5h1M1986 109.5h1M1987 69.5h1M1988 90.5h1M1988 116.5h1M1992 108.5h1M1994 89.5h1M1997 116.5h1M2002 115.5h1M2005 125.5h1M2012 89.5h1M2017 74.5h1M2020 94.5h1M2024 76.5h1M2025 122.5h1M2028 65.5h1M2029 75.5h1M2030 85.5h1M2032 62.5h1M2033 62.5h1M2033 111.5h1M2034 61.5h1M2034 66.5h1M2035 66.5h1M2036 65.5h1M2037 66.5h1M2037 113.5h1M2038 68.5h1M2038 112.5h1M2039 111.5h1M2040 73.5h1M2043 79.5h1M2046 83.5h1M2048 86.5h1M2052 95.5h1M2053 93.5h1M2056 68.5h1M2056 98.5h1M2060 109.5h1M2064 109.5h1M2065 71.5h1M2067 68.5h1M2068 85.5h1M2069 61.5h1M2069 71.5h1M2069 117.5h1M2070 73.5h1M2071 73.5h1M2071 90.5h1M2072 84.5h1M2072 121.5h1M2073 77.5h1M2073 82.5h1M2073 122.5h1M2076 72.5h1M2076 78.5h1M2076 96.5h1M2077 126.5h1M2078 68.5h1M2078 100.5h1M2078 103.5h1M2078 123.5h1M2079 117.5h1M2080 101.5h1M2081 76.5h1M2081 119.5h1M2082 75.5h1M2085 76.5h1M2085 110.5h1M2086 100.5h1M2086 110.5h1M2087 102.5h1M2088 111.5h1M2089 92.5h1M2089 103.5h1M2090 79.5h1M2090 116.5h1M2092 120.5h1M2093 72.5h1M2093 74.5h1M2093 85.5h1M2093 102.5h1M2094 74.5h1M2094 81.5h1M2094 84.5h1M2095 77.5h1M2095 109.5h1M2095 124.5h1M2096 98.5h1M2096 123.5h1M2097 110.5h1M2097 123.5h1M2097 125.5h1M2099 81.5h1M2102 90.5h1M2103 115.5h1M2103 119.5h1M2104 105.5h1M2104 121.5h1M2107 82.5h1M2107 112.5h1M2108 95.5h1M2111 112.5h1M2112 124.5h1M2113 122.5h1M2114 103.5h1M2114 118.5h1M2114 123.5h1M2115 126.5h1M2116 120.5h1M2117 125.5h1M2118 110.5h1M2118 118.5h1M2119 82.5h1M2120 81.5h1M2121 62.5h1M2121 88.5h1M2124 104.5h1M2126 120.5h1M2127 108.5h1M2128 121.5h1M2132 88.5h1M2136 77.5h1M2136 103.5h1M2137 116.5h1M2138 80.5h1M2139 77.5h1M2139 107.5h1M2143 94.5h1M2144 106.5h1M2145 111.5h1M2146 112.5h1M2147 72.5h1M2147 104.5h1M2148 73.5h1M2148 80.5h1M2149 63.5h1M2149 101.5h1M2150 98.5h1M2151 96.5h1M2154 65.5h1M2154 75.5h1M2156 89.5h1M2158 68.5h1M2160 84.5h1"/>
<path stroke="#f4a183" d="M1225 83.5h1M1226 82.5h1M1226 85.5h1M1227 61.5h1M1227 63.5h1M1228 85.5h1M1228 121.5h1M1229 104.5h1M1229 122.5h1M1230 81.5h1M1230 103.5h1M1230 110.5h1M1231 102.5h1M1231 115.5h1M1232 60.5h1M1232 68.5h1M1232 109.5h1M1233 86.5h1M1233 94.5h1M1234 95.5h1M1234 101.5h1M1240 94.5h1M1241 78.5h1M1241 118.5h1M1242 100.5h1M1243 80.5h1M1245 93.5h1M1245 113.5h1M1246 126.5h1M1247 102.5h1M1247 105.5h1M1249 78.5h1M1250 117.5h1M1251 96.5h1M1252 85.5h1M1252 94.5h1M1252 95.5h1M1253 84.5h1M1253 94.5h1M1254 93.5h1M1254 94.5h1M1254 116.5h1M1254 120.5h1M1255 81.5h1M1255 97.5h1M1255 115.5h1M1256 82.5h1M1256 88.5h1M1256 96.5h1M1256 104.5h1M1256 110.5h1M1256 119.5h1M1257 70.5h1M1257 76.5h1M1257 83.5h1M1257 111.5h1M1258 80.5h1M1258 112.5h1M1259 79.5h1M1260 75.5h1M1261 80.5h1M1263 77.5h1M1264 78.5h1M1265 65.5h1M1266 64.5h1M1266 98.5h1M1267 99.5h1M1270 109.5h1M1271 75.5h1M1271 81.5h1M1271 102.5h1M1272 74.5h1M1272 82.5h1M1272 92.5h1M1272 98.5h1M1272 106.5h1M1272 119.5h1M1272 121.5h1M1273 97.5h1M1273 111.5h1M1275 65.5h1M1275 123.5h1M1276 106.5h1M1277 125.5h1M1279 93.5h1M1281 86.5h1M1282 123.5h1M1283 80.5h1M1283 112.5h1M1283 121.5h1M1284 113.5h1M1285 114.5h1M1286 107.5h1M1288 72.5h1M1289 69.5h1M1291 65.5h1M1292 106.5h1M1293 107.5h1M1293 109.5h1M1294 101.5h1M1295 104.5h1M1298 90.5h1M1304 75.5h1M1304 80.5h1M1305 72.5h1M1305 105.5h1M1308 81.5h1M1310 98.5h1M1311 72.5h1M1312 86.5h1M1314 68.5h1M1315 74.5h1M1316 97.5h1M1318 99.5h1M1319 105.5h1M1330 112.5h1M1333 62.5h1M1333 114.5h1M1334 110.5h1M1335 60.5h1M1335 85.5h1M1337 73.5h1M1340 63.5h1M1344 67.5h1M1345 83.5h1M1345 100.5h1M1346 99.5h1M1350 68.5h1M1352 96.5h1M1353 97.5h1M1354 79.5h1M1355 61.5h1M1356 62.5h1M1361 122.5h1M1364 61.5h1M1368 89.5h1M1372 64.5h1M1372 72.5h1M1373 63.5h1M1374 108.5h1M1377 69.5h1M1378 70.5h1M1379 61.5h1M1387 79.5h1M1388 68.5h1M1395 64.5h1M1396 123.5h1M1397 88.5h1M1398 85.5h1M1399 86.5h1M1402 71.5h1M1402 88.5h1M1410 100.5h1M1410 114.5h1M1411 114.5h1M1412 99.5h1M1412 113.5h1M1413 112.5h1M1416 98.5h1M1417 99.5h1M1418 100.5h1M1421 84.5h1M1424 106.5h1M1424 114.5h1M1425 113.5h1M1425 118.5h1M1426 101.5h1M1427 100.5h1M1430 69.5h1M1430 79.5h1M1430 110.5h1M1433 113.5h1M1434 112.5h1M1434 114.5h1M1434 124.5h1M1437 78.5h1M1437 122.5h1M1439 122.5h1M1440 125.5h1M1441 92.5h1M1446 76.5h1M1447 73.5h1M1447 75.5h1M1449 73.5h1M1449 79.5h1M1449 81.5h1M1450 74.5h1M1450 80.5h1M1452 91.5h1M1453 79.5h1M1455 85.5h1M1455 124.5h1M1457 68.5h1M1457 71.5h1M1458 61.5h1M1460 89.5h1M1461 99.5h1M1463 77.5h1M1463 96.5h1M1464 94.5h1M1465 92.5h1M1466 79.5h1M1466 80.5h1M1466 87.5h1M1467 81.5h1M1467 90.5h1M1467 106.5h1M1468 83.5h1M1468 85.5h1M1469 85.5h1M1469 100.5h1M1470 82.5h1M1470 87.5h1M1470 101.5h1M1471 88.5h1M1471 124.5h1M1473 86.5h1M1474 73.5h1M1474 117.5h1M1475 118.5h1M1476 117.5h1M1477 77.5h1M1478 79.5h1M1478 119.5h1M1479 75.5h1M1479 118.5h1M1479 119.5h1M1480 111.5h1M1481 102.5h1M1481 117.5h1M1481 121.5h1M1482 63.5h1M1482 103.5h1M1483 67.5h1M1483 92.5h1M1485 79.5h1M1485 101.5h1M1485 104.5h1M1485 123.5h1M1485 126.5h1M1486 117.5h1M1487 67.5h1M1487 78.5h1M1487 80.5h1M1487 81.5h1M1487 123.5h1M1488 67.5h1M1488 123.5h1M1489 66.5h1M1489 113.5h1M1489 120.5h1M1489 124.5h1M1489 125.5h1M1490 113.5h1M1491 110.5h1M1491 116.5h1M1491 121.5h1M1492 91.5h1M1493 93.5h1M1494 75.5h1M1494 111.5h1M1494 112.5h1M1495 110.5h1M1496 82.5h1M1496 99.5h1M1496 120.5h1M1497 83.5h1M1497 108.5h1M1498 67.5h1M1499 66.5h1M1499 94.5h1M1499 97.5h1M1499 117.5h1M1499 123.5h1M1499 126.5h1M1500 104.5h1M1501 84.5h1M1501 118.5h1M1502 85.5h1M1502 119.5h1M1503 95.5h1M1503 104.5h1M1503 105.5h1M1504 109.5h1M1505 90.5h1M1505 96.5h1M1505 116.5h1M1505 117.5h1M1505 124.5h1M1506 87.5h1M1506 89.5h1M1506 95.5h1M1506 114.5h1M1507 94.5h1M1507 101.5h1M1508 89.5h1M1508 92.5h1M1508 105.5h1M1509 91.5h1M1509 94.5h1M1509 99.5h1M1509 106.5h1M1509 110.5h1M1509 120.5h1M1509 125.5h1M1510 77.5h1M1510 91.5h1M1510 111.5h1M1510 126.5h1M1511 97.5h1M1513 73.5h1M1513 74.5h1M1514 99.5h1M1514 117.5h1M1516 68.5h1M1516 112.5h1M1516 125.5h1M1516 126.5h1M1517 68.5h1M1517 91.5h1M1517 93.5h1M1517 101.5h1M1517 111.5h1M1517 117.5h1M1518 110.5h1M1518 118.5h1M1518 124.5h1M1519 97.5h1M1519 98.5h1M1519 99.5h1M1520 63.5h1M1520 109.5h1M1520 119.5h1M1520 126.5h1M1521 67.5h1M1521 102.5h1M1521 112.5h1M1521 113.5h1M1521 118.5h1M1523 63.5h1M1523 108.5h1M1525 97.5h1M1525 121.5h1M1526 71.5h1M1526 89.5h1M1527 63.5h1M1527 119.5h1M1527 126.5h1M1528 74.5h1M1528 101.5h1M1528 106.5h1M1528 112.5h1M1528 118.5h1M1529 64.5h1M1529 68.5h1M1529 75.5h1M1529 85.5h1M1529 99.5h1M1529 107.5h1M1530 69.5h1M1530 75.5h1M1530 108.5h1M1531 97.5h1M1532 77.5h1M1532 103.5h1M1533 110.5h1M1533 125.5h1M1533 126.5h1M1534 113.5h1M1534 122.5h1M1535 65.5h1M1535 99.5h1M1535 110.5h1M1535 112.5h1M1536 85.5h1M1537 72.5h1M1537 89.5h1M1538 119.5h1M1538 122.5h1M1539 60.5h1M1539 119.5h1M1540 68.5h1M1540 122.5h1M1541 99.5h1M1541 100.5h1M1541 114.5h1M1542 113.5h1M1543 71.5h1M1543 84.5h1M1544 121.5h1M1544 123.5h1M1545 76.5h1M1545 116.5h1M1546 110.5h1M1548 79.5h1M1548 92.5h1M1548 104.5h1M1549 102.5h1M1550 109.5h1M1550 113.5h1M1551 68.5h1M1553 86.5h1M1554 85.5h1M1556 102.5h1M1557 78.5h1M1558 62.5h1M1558 78.5h1M1558 84.5h1M1559 79.5h1M1560 83.5h1M1563 76.5h1M1565 82.5h1M1566 63.5h1M1566 86.5h1M1566 109.5h1M1567 87.5h1M1567 98.5h1M1568 63.5h1M1568 80.5h1M1568 88.5h1M1569 68.5h1M1570 71.5h1M1570 82.5h1M1570 95.5h1M1571 67.5h1M1572 69.5h1M1572 77.5h1M1572 83.5h1M1573 78.5h1M1573 98.5h1M1574 75.5h1M1576 65.5h1M1577 64.5h1M1578 61.5h1M1579 99.5h1M1580 67.5h1M1582 64.5h1M1583 65.5h1M1583 82.5h1M1583 95.5h1M1583 109.5h1M1585 87.5h1M1585 95.5h1M1586 107.5h1M1587 107.5h1M1587 115.5h1M1588 60.5h1M1588 102.5h1M1588 115.5h1M1589 101.5h1M1589 108.5h1M1590 102.5h1M1591 64.5h1M1592 68.5h1M1592 123.5h1M1593 117.5h1M1594 102.5h1M1594 103.5h1M1594 125.5h1M1597 118.5h1M1598 117.5h1M1600 82.5h1M1601 81.5h1M1601 119.5h1M1602 91.5h1M1603 122.5h1M1604 121.5h1M1606 71.5h1M1607 100.5h1M1608 109.5h1M1608 118.5h1M1611 117.5h1M1611 118.5h1M1612 112.5h1M1613 100.5h1M1613 123.5h1M1615 95.5h1M1616 120.5h1M1617 119.5h1M1618 75.5h1M1618 118.5h1M1618 126.5h1M1621 104.5h1M1622 94.5h1M1623 123.5h1M1626 108.5h1M1632 88.5h1M1633 61.5h1M1636 112.5h1M1636 120.5h1M1640 89.5h1M1640 111.5h1M1641 82.5h1M1642 93.5h1M1643 80.5h1M1643 85.5h1M1644 120.5h1M1645 87.5h1M1648 96.5h1M1650 89.5h1M1652 60.5h1M1653 72.5h1M1653 87.5h1M1653 108.5h1M1655 74.5h1M1659 86.5h1M1660 85.5h1M1663 120.5h1M1665 118.5h1M1667 86.5h1M1668 80.5h1M1668 87.5h1M1672 121.5h1M1673 120.5h1M1679 116.5h1M1687 82.5h1M1693 87.5h1M1694 88.5h1M1701 119.5h1M1708 87.5h1M1711 94.5h1M1715 92.5h1M1717 70.5h1M1717 90.5h1M1719 66.5h1M1719 95.5h1M1723 111.5h1M1725 77.5h1M1730 66.5h1M1735 64.5h1M1743 88.5h1M1745 86.5h1M1747 75.5h1M1754 68.5h1M1754 70.5h1M1755 63.5h1M1757 107.5h1M1758 67.5h1M1758 103.5h1M1760 68.5h1M1762 66.5h1M1763 88.5h1M1769 81.5h1M1774 112.5h1M1775 78.5h1M1777 101.5h1M1780 82.5h1M1782 64.5h1M1783 70.5h1M1785 93.5h1M1788 66.5h1M1788 90.5h1M1789 65.5h1M1789 104.5h1M1790 61.5h1M1793 119.5h1M1794 78.5h1M1794 118.5h1M1795 77.5h1M1795 120.5h1M1796 96.5h1M1796 98.5h1M1796 121.5h1M1797 84.5h1M1798 62.5h1M1799 63.5h1M1799 109.5h1M1801 82.5h1M1803 97.5h1M1804 115.5h1M1805 61.5h1M1805 76.5h1M1809 62.5h1M1809 87.5h1M1810 126.5h1M1812 77.5h1M1813 74.5h1M1814 73.5h1M1814 96.5h1M1815 97.5h1M1816 62.5h1M1816 68.5h1M1816 87.5h1M1816 112.5h1M1817 81.5h1M1817 113.5h1M1818 97.5h1M1818 98.5h1M1818 99.5h1M1819 75.5h1M1820 64.5h1M1820 87.5h1M1820 102.5h1M1821 97.5h1M1821 119.5h1M1822 76.5h1M1822 97.5h1M1825 74.5h1M1826 96.5h1M1826 105.5h1M1827 84.5h1M1827 96.5h1M1828 85.5h1M1828 88.5h1M1828 90.5h1M1830 109.5h1M1831 63.5h1M1831 75.5h1M1831 113.5h1M1832 76.5h1M1832 81.5h1M1832 82.5h1M1832 112.5h1M1833 75.5h1M1833 95.5h1M1833 121.5h1M1834 61.5h1M1834 107.5h1M1834 113.5h1M1834 121.5h1M1835 90.5h1M1835 95.5h1M1835 107.5h1M1835 126.5h1M1836 67.5h1M1836 74.5h1M1836 125.5h1M1837 70.5h1M1837 77.5h1M1837 111.5h1M1837 117.5h1M1837 118.5h1M1838 78.5h1M1838 101.5h1M1838 111.5h1M1838 117.5h1M1839 79.5h1M1839 84.5h1M1839 115.5h1M1839 126.5h1M1840 75.5h1M1840 79.5h1M1840 115.5h1M1841 68.5h1M1841 100.5h1M1842 81.5h1M1842 115.5h1M1842 116.5h1M1842 117.5h1M1843 120.5h1M1843 122.5h1M1845 69.5h1M1845 100.5h1M1846 63.5h1M1846 75.5h1M1846 95.5h1M1846 107.5h1M1846 113.5h1M1847 65.5h1M1847 74.5h1M1847 79.5h1M1847 103.5h1M1847 110.5h1M1848 64.5h1M1848 73.5h1M1848 80.5h1M1848 86.5h1M1848 104.5h1M1848 105.5h1M1848 109.5h1M1848 111.5h1M1848 126.5h1M1849 106.5h1M1849 121.5h1M1850 86.5h1M1850 88.5h1M1850 92.5h1M1850 95.5h1M1850 102.5h1M1850 106.5h1M1850 122.5h1M1851 95.5h1M1851 103.5h1M1851 123.5h1M1852 65.5h1M1852 94.5h1M1852 100.5h1M1853 103.5h1M1853 112.5h1M1853 118.5h1M1854 64.5h1M1854 96.5h1M1854 117.5h1M1855 99.5h1M1856 98.5h1M1856 115.5h1M1857 77.5h1M1857 104.5h1M1857 115.5h1M1858 85.5h1M1858 103.5h1M1859 64.5h1M1859 73.5h1M1859 84.5h1M1859 87.5h1M1859 121.5h1M1860 84.5h1M1860 98.5h1M1860 99.5h1M1861 102.5h1M1862 109.5h1M1862 112.5h1M1863 71.5h1M1863 76.5h1M1863 81.5h1M1863 96.5h1M1863 126.5h1M1865 69.5h1M1865 94.5h1M1865 118.5h1M1866 121.5h1M1867 75.5h1M1867 105.5h1M1868 75.5h1M1868 104.5h1M1868 113.5h1M1869 86.5h1M1869 103.5h1M1869 120.5h1M1870 69.5h1M1871 107.5h1M1871 116.5h1M1872 93.5h1M1872 115.5h1M1873 65.5h1M1873 87.5h1M1873 95.5h1M1873 98.5h1M1873 120.5h1M1873 124.5h1M1874 63.5h1M1874 66.5h1M1874 113.5h1M1874 117.5h1M1874 118.5h1M1874 121.5h1M1875 69.5h1M1875 100.5h1M1875 112.5h1M1875 126.5h1M1876 74.5h1M1876 77.5h1M1876 85.5h1M1876 97.5h1M1876 100.5h1M1877 65.5h1M1877 71.5h1M1877 75.5h1M1877 95.5h1M1877 97.5h1M1877 100.5h1M1877 101.5h1M1877 119.5h1M1877 121.5h1M1877 123.5h1M1878 70.5h1M1878 81.5h1M1878 94.5h1M1878 102.5h1M1878 122.5h1M1879 68.5h1M1879 69.5h1M1879 75.5h1M1879 119.5h1M1879 121.5h1M1880 76.5h1M1880 113.5h1M1881 84.5h1M1881 95.5h1M1881 99.5h1M1881 114.5h1M1881 116.5h1M1882 63.5h1M1882 81.5h1M1882 84.5h1M1882 86.5h1M1882 88.5h1M1882 92.5h1M1882 93.5h1M1882 94.5h1M1882 97.5h1M1882 101.5h1M1882 115.5h1M1882 116.5h1M1882 117.5h1M1883 87.5h1M1884 81.5h1M1884 99.5h1M1884 102.5h1M1884 125.5h1M1885 121.5h1M1885 122.5h1M1886 103.5h1M1886 107.5h1M1887 75.5h1M1887 92.5h1M1887 93.5h1M1888 66.5h1M1888 91.5h1M1888 98.5h1M1888 108.5h1M1888 115.5h1M1889 84.5h1M1889 88.5h1M1889 115.5h1M1890 64.5h1M1890 66.5h1M1890 83.5h1M1890 98.5h1M1890 119.5h1M1890 120.5h1M1890 125.5h1M1891 63.5h1M1891 97.5h1M1891 108.5h1M1891 113.5h1M1891 120.5h1M1892 78.5h1M1892 92.5h1M1892 95.5h1M1892 100.5h1M1892 119.5h1M1893 71.5h1M1893 73.5h1M1893 94.5h1M1893 118.5h1M1894 109.5h1M1894 116.5h1M1894 119.5h1M1895 105.5h1M1895 114.5h1M1896 64.5h1M1896 74.5h1M1896 77.5h1M1896 108.5h1M1896 113.5h1M1897 73.5h1M1897 107.5h1M1897 124.5h1M1898 66.5h1M1898 117.5h1M1899 118.5h1M1899 123.5h1M1900 89.5h1M1900 102.5h1M1900 111.5h1M1900 115.5h1M1901 71.5h1M1901 89.5h1M1901 90.5h1M1901 114.5h1M1901 117.5h1M1901 118.5h1M1902 70.5h1M1902 84.5h1M1902 112.5h1M1902 116.5h1M1903 87.5h1M1903 116.5h1M1903 119.5h1M1903 125.5h1M1906 117.5h1M1906 118.5h1M1906 121.5h1M1907 83.5h1M1908 108.5h1M1908 113.5h1M1908 124.5h1M1909 86.5h1M1909 114.5h1M1909 123.5h1M1910 74.5h1M1910 82.5h1M1912 74.5h1M1912 79.5h1M1912 89.5h1M1912 96.5h1M1912 103.5h1M1912 105.5h1M1912 122.5h1M1913 109.5h1M1913 121.5h1M1914 63.5h1M1914 115.5h1M1914 119.5h1M1914 121.5h1M1915 71.5h1M1915 121.5h1M1916 70.5h1M1916 72.5h1M1916 91.5h1M1917 82.5h1M1917 95.5h1M1918 73.5h1M1918 124.5h1M1919 73.5h1M1919 76.5h1M1919 92.5h1M1919 99.5h1M1920 93.5h1M1920 99.5h1M1920 103.5h1M1920 110.5h1M1920 120.5h1M1920 124.5h1M1921 81.5h1M1922 105.5h1M1923 64.5h1M1923 79.5h1M1923 106.5h1M1924 90.5h1M1924 110.5h1M1924 113.5h1M1925 92.5h1M1926 100.5h1M1927 92.5h1M1927 108.5h1M1928 75.5h1M1929 64.5h1M1929 86.5h1M1929 109.5h1M1930 70.5h1M1930 84.5h1M1930 85.5h1M1930 90.5h1M1930 113.5h1M1931 69.5h1M1931 76.5h1M1931 83.5h1M1931 84.5h1M1931 96.5h1M1932 65.5h1M1933 103.5h1M1933 112.5h1M1934 113.5h1M1935 72.5h1M1936 77.5h1M1937 74.5h1M1937 90.5h1M1937 121.5h1M1938 79.5h1M1938 97.5h1M1941 94.5h1M1942 68.5h1M1943 88.5h1M1944 67.5h1M1944 89.5h1M1944 94.5h1M1945 63.5h1M1945 98.5h1M1946 99.5h1M1946 101.5h1M1947 68.5h1M1947 84.5h1M1947 100.5h1M1947 104.5h1M1948 82.5h1M1948 99.5h1M1949 71.5h1M1949 110.5h1M1950 87.5h1M1950 98.5h1M1951 75.5h1M1951 86.5h1M1951 93.5h1M1951 112.5h1M1952 85.5h1M1952 92.5h1M1952 112.5h1M1952 116.5h1M1953 87.5h1M1953 95.5h1M1953 102.5h1M1953 115.5h1M1953 118.5h1M1954 71.5h1M1954 95.5h1M1954 104.5h1M1955 105.5h1M1956 60.5h1M1956 98.5h1M1956 116.5h1M1956 117.5h1M1956 120.5h1M1957 112.5h1M1957 122.5h1M1958 96.5h1M1958 112.5h1M1959 101.5h1M1959 103.5h1M1960 78.5h1M1960 102.5h1M1960 104.5h1M1961 61.5h1M1961 70.5h1M1961 106.5h1M1961 114.5h1M1962 107.5h1M1962 114.5h1M1962 122.5h1M1963 68.5h1M1964 92.5h1M1964 100.5h1M1964 110.5h1M1965 99.5h1M1965 123.5h1M1965 124.5h1M1966 118.5h1M1966 120.5h1M1967 61.5h1M1967 81.5h1M1967 114.5h1M1967 115.5h1M1968 72.5h1M1970 113.5h1M1970 120.5h1M1970 125.5h1M1971 105.5h1M1971 118.5h1M1974 110.5h1M1974 125.5h1M1975 62.5h1M1975 79.5h1M1975 105.5h1M1975 113.5h1M1976 112.5h1M1976 114.5h1M1976 125.5h1M1977 60.5h1M1978 99.5h1M1978 119.5h1M1979 95.5h1M1981 114.5h1M1982 91.5h1M1982 98.5h1M1982 114.5h1M1983 91.5h1M1983 93.5h1M1983 118.5h1M1984 93.5h1M1985 95.5h1M1985 122.5h1M1986 123.5h1M1987 66.5h1M1987 70.5h1M1987 85.5h1M1987 124.5h1M1988 99.5h1M1990 85.5h1M1990 91.5h1M1990 101.5h1M1990 125.5h1M1992 83.5h1M1993 85.5h1M1993 97.5h1M1993 104.5h1M1994 69.5h1M1994 72.5h1M1994 87.5h1M1994 126.5h1M1995 60.5h1M1995 70.5h1M1995 72.5h1M1995 75.5h1M1995 90.5h1M1996 74.5h1M1996 76.5h1M1996 116.5h1M1997 92.5h1M1997 99.5h1M1997 103.5h1M1998 79.5h1M1998 93.5h1M1998 100.5h1M1998 105.5h1M1999 86.5h1M1999 87.5h1M1999 113.5h1M2000 88.5h1M2000 96.5h1M2001 96.5h1M2002 80.5h1M2002 97.5h1M2003 100.5h1M2004 78.5h1M2004 94.5h1M2006 76.5h1M2006 88.5h1M2006 108.5h1M2007 77.5h1M2007 118.5h1M2008 66.5h1M2008 82.5h1M2009 70.5h1M2009 74.5h1M2010 73.5h1M2011 65.5h1M2011 68.5h1M2011 69.5h1M2011 78.5h1M2011 107.5h1M2011 111.5h1M2011 122.5h1M2012 108.5h1M2012 112.5h1M2012 119.5h1M2013 79.5h1M2013 86.5h1M2013 119.5h1M2013 121.5h1M2013 122.5h1M2013 125.5h1M2014 85.5h1M2014 87.5h1M2014 89.5h1M2014 96.5h1M2014 97.5h1M2014 125.5h1M2015 86.5h1M2015 117.5h1M2016 87.5h1M2016 111.5h1M2018 85.5h1M2019 102.5h1M2019 109.5h1M2020 77.5h1M2020 107.5h1M2020 109.5h1M2021 77.5h1M2021 97.5h1M2021 126.5h1M2022 73.5h1M2022 82.5h1M2022 88.5h1M2023 73.5h1M2023 83.5h1M2023 94.5h1M2023 101.5h1M2023 108.5h1M2023 110.5h1M2024 75.5h1M2024 86.5h1M2024 101.5h1M2024 103.5h1M2024 104.5h1M2024 109.5h1M2025 102.5h1M2025 124.5h1M2026 66.5h1M2026 67.5h1M2026 102.5h1M2026 105.5h1M2027 61.5h1M2027 70.5h1M2028 69.5h1M2028 83.5h1M2028 110.5h1M2028 111.5h1M2029 69.5h1M2029 76.5h1M2029 111.5h1M2030 70.5h1M2030 77.5h1M2030 88.5h1M2030 110.5h1M2031 74.5h1M2031 89.5h1M2031 109.5h1M2031 112.5h1M2032 119.5h1M2032 121.5h1M2033 77.5h1M2033 116.5h1M2034 98.5h1M2034 106.5h1M2035 64.5h1M2035 76.5h1M2036 94.5h1M2036 111.5h1M2037 80.5h1M2037 81.5h1M2037 95.5h1M2037 101.5h1M2037 121.5h1M2038 84.5h1M2039 95.5h1M2039 98.5h1M2039 108.5h1M2040 108.5h1M2040 126.5h1M2041 104.5h1M2042 123.5h1M2043 68.5h1M2043 125.5h1M2044 61.5h1M2045 117.5h1M2046 64.5h1M2046 65.5h1M2046 115.5h1M2047 98.5h1M2049 80.5h1M2049 95.5h1M2050 68.5h1M2050 91.5h1M2050 92.5h1M2050 102.5h1M2051 63.5h1M2051 91.5h1M2051 114.5h1M2052 64.5h1M2052 72.5h1M2052 126.5h1M2053 105.5h1M2053 114.5h1M2054 75.5h1M2054 106.5h1M2054 110.5h1M2054 121.5h1M2055 119.5h1M2056 85.5h1M2057 105.5h1M2058 81.5h1M2058 120.5h1M2059 125.5h1M2060 119.5h1M2061 117.5h1M2062 78.5h1M2062 98.5h1M2063 114.5h1M2064 89.5h1M2064 125.5h1M2065 91.5h1M2065 111.5h1M2065 113.5h1M2065 122.5h1M2066 93.5h1M2066 110.5h1M2066 122.5h1M2066 124.5h1M2068 65.5h1M2068 93.5h1M2068 95.5h1M2069 70.5h1M2069 84.5h1M2069 90.5h1M2069 107.5h1M2070 83.5h1M2070 86.5h1M2070 98.5h1M2070 108.5h1M2070 123.5h1M2071 85.5h1M2071 100.5h1M2071 109.5h1M2072 101.5h1M2073 111.5h1M2074 62.5h1M2074 69.5h1M2075 71.5h1M2075 105.5h1M2076 116.5h1M2077 94.5h1M2078 76.5h1M2078 94.5h1M2078 125.5h1M2079 74.5h1M2079 102.5h1M2079 109.5h1M2079 111.5h1M2079 124.5h1M2081 74.5h1M2081 77.5h1M2081 86.5h1M2081 99.5h1M2081 113.5h1M2081 114.5h1M2082 98.5h1M2084 85.5h1M2084 103.5h1M2084 104.5h1M2085 66.5h1M2085 78.5h1M2085 85.5h1M2086 81.5h1M2087 90.5h1M2088 69.5h1M2089 61.5h1M2089 68.5h1M2089 87.5h1M2089 98.5h1M2090 67.5h1M2090 72.5h1M2091 80.5h1M2091 93.5h1M2091 119.5h1M2092 73.5h1M2092 90.5h1M2092 118.5h1M2092 125.5h1M2093 82.5h1M2093 117.5h1M2094 89.5h1M2097 109.5h1M2099 62.5h1M2099 74.5h1M2099 83.5h1M2099 111.5h1M2099 113.5h1M2100 60.5h1M2100 78.5h1M2101 76.5h1M2102 62.5h1M2102 109.5h1M2103 79.5h1M2103 108.5h1M2105 65.5h1M2106 64.5h1M2106 74.5h1M2108 112.5h1M2109 84.5h1M2110 90.5h1M2111 65.5h1M2111 71.5h1M2111 86.5h1M2111 116.5h1M2112 63.5h1M2112 64.5h1M2112 65.5h1M2115 60.5h1M2116 71.5h1M2116 87.5h1M2116 123.5h1M2117 106.5h1M2118 69.5h1M2118 105.5h1M2119 75.5h1M2119 89.5h1M2119 125.5h1M2120 69.5h1M2120 84.5h1M2120 123.5h1M2121 87.5h1M2121 123.5h1M2123 80.5h1M2125 65.5h1M2125 77.5h1M2125 92.5h1M2126 70.5h1M2126 86.5h1M2126 117.5h1M2126 119.5h1M2127 73.5h1M2127 113.5h1M2128 72.5h1M2128 102.5h1M2129 71.5h1M2129 84.5h1M2129 117.5h1M2130 109.5h1M2130 110.5h1M2130 111.5h1M2130 113.5h1M2130 125.5h1M2131 110.5h1M2131 114.5h1M2133 93.5h1M2134 92.5h1M2134 103.5h1M2135 63.5h1M2135 96.5h1M2137 83.5h1M2137 100.5h1M2137 126.5h1M2138 98.5h1M2138 100.5h1M2139 96.5h1M2139 118.5h1M2139 123.5h1M2141 76.5h1M2141 87.5h1M2141 103.5h1M2141 117.5h1M2142 90.5h1M2142 102.5h1M2143 92.5h1M2143 112.5h1M2143 123.5h1M2144 94.5h1M2144 104.5h1M2144 123.5h1M2145 110.5h1M2146 64.5h1M2146 96.5h1M2146 126.5h1M2147 82.5h1M2147 95.5h1M2147 121.5h1M2148 126.5h1M2149 89.5h1M2149 117.5h1M2149 118.5h1M2150 117.5h1M2150 120.5h1M2152 74.5h1M2153 97.5h1M2153 107.5h1M2154 79.5h1M2154 98.5h1M2154 99.5h1M2154 109.5h1M2154 121.5h1M2154 123.5h1M2154 124.5h1M2155 114.5h1M2156 112.5h1M2156 126.5h1M2157 113.5h1M2157 118.5h1M2157 122.5h1M2158 86.5h1M2158 94.5h1M2158 100.5h1M2158 103.5h1M2158 121.5h1M2158 123.5h1M2159 113.5h1M2159 124.5h1M2161 110.5h1M2161 118.5h1M2161 126.5h1M2163 72.5h1M2163 76.5h1M2163 84.5h1M2163 98.5h1M2163 120.5h1M2164 61.5h1M2164 75.5h1M2164 83.5h1M2164 89.5h1M2164 95.5h1M2164 96.5h1M2164 111.5h1M2165 60.5h1M2165 61.5h1M2165 82.5h1M2165 83.5h1M2165 91.5h1M2165 92.5h1M2165 94.5h1M2165 102.5h1M2165 111.5h1M2165 123.5h1M2166 84.5h1M2166 103.5h1M2166 115.5h1M2166 125.5h1"/>
<path stroke="#bfd8ec" d="M1224 123.5h1M1225 67.5h1M1226 66.5h1M1226 121.5h1M1226 123.5h1M1227 112.5h1M1234 85.5h1M1234 117.5h1M1236 86.5h1M1236 109.5h1M1240 87.5h1M1241 71.5h1M1241 115.5h1M1241 119.5h1M1242 93.5h1M1242 115.5h1M1245 61.5h1M1247 70.5h1M1247 74.5h1M1248 117.5h1M1255 60.5h1M1255 120.5h1M1259 62.5h1M1259 86.5h1M1260 87.5h1M1261 115.5h1M1262 64.5h1M1262 75.5h1M1262 114.5h1M1263 111.5h1M1264 82.5h1M1264 113.5h1M1265 114.5h1M1272 60.5h1M1272 86.5h1M1275 85.5h1M1278 67.5h1M1280 65.5h1M1282 75.5h1M1282 99.5h1M1284 74.5h1M1284 83.5h1M1284 92.5h1M1285 103.5h1M1290 80.5h1M1292 78.5h1M1293 118.5h1M1294 118.5h1M1298 67.5h1M1298 119.5h1M1299 120.5h1M1300 85.5h1M1303 123.5h1M1306 107.5h1M1306 118.5h1M1309 74.5h1M1310 74.5h1M1311 82.5h1M1312 63.5h1M1313 92.5h1M1314 84.5h1M1318 79.5h1M1319 66.5h1M1319 77.5h1M1320 77.5h1M1323 70.5h1M1323 87.5h1M1324 81.5h1M1324 82.5h1M1324 83.5h1M1325 78.5h1M1328 92.5h1M1331 88.5h1M1331 93.5h1M1331 119.5h1M1332 67.5h1M1334 75.5h1M1334 86.5h1M1334 97.5h1M1334 105.5h1M1334 116.5h1M1335 78.5h1M1335 96.5h1M1336 63.5h1M1336 90.5h1M1336 107.5h1M1337 101.5h1M1337 106.5h1M1337 124.5h1M1338 119.5h1M1339 88.5h1M1339 93.5h1M1340 105.5h1M1340 106.5h1M1341 70.5h1M1342 86.5h1M1343 125.5h1M1344 91.5h1M1345 122.5h1M1346 111.5h1M1346 112.5h1M1349 95.5h1M1349 99.5h1M1349 118.5h1M1349 122.5h1M1350 61.5h1M1350 98.5h1M1350 125.5h1M1351 117.5h1M1352 117.5h1M1353 100.5h1M1354 102.5h1M1355 62.5h1M1355 63.5h1M1355 118.5h1M1356 69.5h1M1356 116.5h1M1356 124.5h1M1357 64.5h1M1357 77.5h1M1357 83.5h1M1357 98.5h1M1357 107.5h1M1357 113.5h1M1358 122.5h1M1359 113.5h1M1359 121.5h1M1360 63.5h1M1360 94.5h1M1360 106.5h1M1361 109.5h1M1361 125.5h1M1362 64.5h1M1362 86.5h1M1362 101.5h1M1362 102.5h1M1362 118.5h1M1363 100.5h1M1363 119.5h1M1363 120.5h1M1364 69.5h1M1364 100.5h1M1364 105.5h1M1364 120.5h1M1365 97.5h1M1365 115.5h1M1366 71.5h1M1366 78.5h1M1366 84.5h1M1366 94.5h1M1366 102.5h1M1367 72.5h1M1367 101.5h1M1368 72.5h1M1368 119.5h1M1369 76.5h1M1369 121.5h1M1369 126.5h1M1370 62.5h1M1370 73.5h1M1370 98.5h1M1371 116.5h1M1372 87.5h1M1372 104.5h1M1373 114.5h1M1374 65.5h1M1374 73.5h1M1374 81.5h1M1374 83.5h1M1374 92.5h1M1374 102.5h1M1374 103.5h1M1374 116.5h1M1375 73.5h1M1375 84.5h1M1375 85.5h1M1375 101.5h1M1376 67.5h1M1376 103.5h1M1377 72.5h1M1377 86.5h1M1377 102.5h1M1377 121.5h1M1378 79.5h1M1378 92.5h1M1379 92.5h1M1379 93.5h1M1380 119.5h1M1380 123.5h1M1381 65.5h1M1381 107.5h1M1382 65.5h1M1382 100.5h1M1383 83.5h1M1383 105.5h1M1384 60.5h1M1384 75.5h1M1384 79.5h1M1384 99.5h1M1384 104.5h1M1384 116.5h1M1384 118.5h1M1384 124.5h1M1385 106.5h1M1386 62.5h1M1388 83.5h1M1388 103.5h1M1388 111.5h1M1388 123.5h1M1389 71.5h1M1389 82.5h1M1389 105.5h1M1389 107.5h1M1389 123.5h1M1390 94.5h1M1390 101.5h1M1390 104.5h1M1391 93.5h1M1391 100.5h1M1391 101.5h1M1392 93.5h1M1392 109.5h1M1392 115.5h1M1392 116.5h1M1393 71.5h1M1393 93.5h1M1393 102.5h1M1393 117.5h1M1394 116.5h1M1395 88.5h1M1395 102.5h1M1395 119.5h1M1395 121.5h1M1396 118.5h1M1397 101.5h1M1397 117.5h1M1398 97.5h1M1398 120.5h1M1398 121.5h1M1400 69.5h1M1400 107.5h1M1402 63.5h1M1402 87.5h1M1402 101.5h1M1402 117.5h1M1402 118.5h1M1403 111.5h1M1403 113.5h1M1404 80.5h1M1404 125.5h1M1405 122.5h1M1405 124.5h1M1405 125.5h1M1406 88.5h1M1407 64.5h1M1407 76.5h1M1407 90.5h1M1407 102.5h1M1407 110.5h1M1409 112.5h1M1409 115.5h1M1410 70.5h1M1410 88.5h1M1410 121.5h1M1411 71.5h1M1411 77.5h1M1412 82.5h1M1412 116.5h1M1412 117.5h1M1413 76.5h1M1417 76.5h1M1417 117.5h1M1418 75.5h1M1418 107.5h1M1420 66.5h1M1420 97.5h1M1420 122.5h1M1421 75.5h1M1421 86.5h1M1422 88.5h1M1423 82.5h1M1424 104.5h1M1425 74.5h1M1425 83.5h1M1426 82.5h1M1426 95.5h1M1427 83.5h1M1427 88.5h1M1427 97.5h1M1427 103.5h1M1428 84.5h1M1428 91.5h1M1430 63.5h1M1430 94.5h1M1431 74.5h1M1431 78.5h1M1431 80.5h1M1431 107.5h1M1432 77.5h1M1432 95.5h1M1432 98.5h1M1433 96.5h1M1433 109.5h1M1434 91.5h1M1434 97.5h1M1434 106.5h1M1435 107.5h1M1436 104.5h1M1436 105.5h1M1437 83.5h1M1437 114.5h1M1438 70.5h1M1438 119.5h1M1439 108.5h1M1440 61.5h1M1441 76.5h1M1441 88.5h1M1442 93.5h1M1442 99.5h1M1443 100.5h1M1444 61.5h1M1444 94.5h1M1444 122.5h1M1444 125.5h1M1445 103.5h1M1445 121.5h1M1446 92.5h1M1447 61.5h1M1450 126.5h1M1451 91.5h1M1452 104.5h1M1452 123.5h1M1453 65.5h1M1454 69.5h1M1454 75.5h1M1454 80.5h1M1454 115.5h1M1455 116.5h1M1457 121.5h1M1458 111.5h1M1459 124.5h1M1462 106.5h1M1462 118.5h1M1463 117.5h1M1464 113.5h1M1465 122.5h1M1468 119.5h1M1469 124.5h1M1470 90.5h1M1470 106.5h1M1472 109.5h1M1478 91.5h1M1478 108.5h1M1478 114.5h1M1479 90.5h1M1479 91.5h1M1479 111.5h1M1479 113.5h1M1480 102.5h1M1480 110.5h1M1481 69.5h1M1481 84.5h1M1482 67.5h1M1484 87.5h1M1485 71.5h1M1487 110.5h1M1489 88.5h1M1489 93.5h1M1489 94.5h1M1489 95.5h1M1490 87.5h1M1491 105.5h1M1492 70.5h1M1493 69.5h1M1493 121.5h1M1494 70.5h1M1495 69.5h1M1495 94.5h1M1502 113.5h1M1503 114.5h1M1504 87.5h1M1504 101.5h1M1505 102.5h1M1506 96.5h1M1507 78.5h1M1508 66.5h1M1508 79.5h1M1509 75.5h1M1511 66.5h1M1512 77.5h1M1512 83.5h1M1513 68.5h1M1515 75.5h1M1520 112.5h1M1522 121.5h1M1524 74.5h1M1530 101.5h1M1535 66.5h1M1535 85.5h1M1536 96.5h1M1538 100.5h1M1538 123.5h1M1541 90.5h1M1544 80.5h1M1547 71.5h1M1549 67.5h1M1551 71.5h1M1551 93.5h1M1551 107.5h1M1553 107.5h1M1557 68.5h1M1564 80.5h1M1571 123.5h1M1572 65.5h1M1572 100.5h1M1572 119.5h1M1574 125.5h1M1575 94.5h1M1576 95.5h1M1576 125.5h1M1577 126.5h1M1579 90.5h1M1579 125.5h1M1582 87.5h1M1583 116.5h1M1584 78.5h1M1587 111.5h1M1590 75.5h1M1601 69.5h1M1602 73.5h1M1612 65.5h1M1613 118.5h1M1615 92.5h1M1616 74.5h1M1617 81.5h1M1619 78.5h1M1619 83.5h1M1621 86.5h1M1622 89.5h1M1622 98.5h1M1624 67.5h1M1626 74.5h1M1626 106.5h1M1629 80.5h1M1631 60.5h1M1631 70.5h1M1631 71.5h1M1631 106.5h1M1632 66.5h1M1632 68.5h1M1633 64.5h1M1633 100.5h1M1634 101.5h1M1635 79.5h1M1636 74.5h1M1636 87.5h1M1637 120.5h1M1638 81.5h1M1639 106.5h1M1640 84.5h1M1641 85.5h1M1641 124.5h1M1641 125.5h1M1643 71.5h1M1643 123.5h1M1644 84.5h1M1645 100.5h1M1645 120.5h1M1646 77.5h1M1648 62.5h1M1648 81.5h1M1648 100.5h1M1648 116.5h1M1648 125.5h1M1649 61.5h1M1649 82.5h1M1650 65.5h1M1650 74.5h1M1651 95.5h1M1651 126.5h1M1654 108.5h1M1656 123.5h1M1657 70.5h1M1657 109.5h1M1657 125.5h1M1658 66.5h1M1658 69.5h1M1658 126.5h1M1659 99.5h1M1659 101.5h1M1659 102.5h1M1661 100.5h1M1661 107.5h1M1662 96.5h1M1662 107.5h1M1663 69.5h1M1663 106.5h1M1663 124.5h1M1664 68.5h1M1664 91.5h1M1664 93.5h1M1664 98.5h1M1664 110.5h1M1666 100.5h1M1667 73.5h1M1667 121.5h1M1668 72.5h1M1668 76.5h1M1668 98.5h1M1669 96.5h1M1670 84.5h1M1670 95.5h1M1670 96.5h1M1670 118.5h1M1670 126.5h1M1671 94.5h1M1671 116.5h1M1671 117.5h1M1672 62.5h1M1672 102.5h1M1673 100.5h1M1673 113.5h1M1674 106.5h1M1674 114.5h1M1676 95.5h1M1676 110.5h1M1677 113.5h1M1677 126.5h1M1678 77.5h1M1678 114.5h1M1678 115.5h1M1679 75.5h1M1679 77.5h1M1679 114.5h1M1680 84.5h1M1680 94.5h1M1680 109.5h1M1680 110.5h1M1682 74.5h1M1682 78.5h1M1682 88.5h1M1682 96.5h1M1683 78.5h1M1683 95.5h1M1684 76.5h1M1684 77.5h1M1684 121.5h1M1687 123.5h1M1690 97.5h1M1690 100.5h1M1690 101.5h1M1690 114.5h1M1690 116.5h1M1690 124.5h1M1691 64.5h1M1691 67.5h1M1691 100.5h1M1691 102.5h1M1691 111.5h1M1691 113.5h1M1692 105.5h1M1693 70.5h1M1693 74.5h1M1693 80.5h1M1693 100.5h1M1694 98.5h1M1694 123.5h1M1695 68.5h1M1695 101.5h1M1696 99.5h1M1696 103.5h1M1697 89.5h1M1697 93.5h1M1698 87.5h1M1699 66.5h1M1699 72.5h1M1699 88.5h1M1700 101.5h1M1701 74.5h1M1701 106.5h1M1702 70.5h1M1702 125.5h1M1703 67.5h1M1703 100.5h1M1704 62.5h1M1704 94.5h1M1705 67.5h1M1705 78.5h1M1705 87.5h1M1705 125.5h1M1706 72.5h1M1706 73.5h1M1706 83.5h1M1707 61.5h1M1707 89.5h1M1707 111.5h1M1708 90.5h1M1708 92.5h1M1708 115.5h1M1708 117.5h1M1709 71.5h1M1709 79.5h1M1710 123.5h1M1711 97.5h1M1711 113.5h1M1711 120.5h1M1712 114.5h1M1713 72.5h1M1713 80.5h1M1714 88.5h1M1715 82.5h1M1715 100.5h1M1715 122.5h1M1716 64.5h1M1716 69.5h1M1716 82.5h1M1716 102.5h1M1718 66.5h1M1718 73.5h1M1719 89.5h1M1720 78.5h1M1722 124.5h1M1723 95.5h1M1723 120.5h1M1723 121.5h1M1724 97.5h1M1724 110.5h1M1725 62.5h1M1725 112.5h1M1725 115.5h1M1726 63.5h1M1726 85.5h1M1726 108.5h1M1726 117.5h1M1727 101.5h1M1727 106.5h1M1728 69.5h1M1728 113.5h1M1729 66.5h1M1729 69.5h1M1729 85.5h1M1729 113.5h1M1730 95.5h1M1730 102.5h1M1730 122.5h1M1731 109.5h1M1731 116.5h1M1732 72.5h1M1732 79.5h1M1732 117.5h1M1732 124.5h1M1733 97.5h1M1733 98.5h1M1733 102.5h1M1733 117.5h1M1733 120.5h1M1734 85.5h1M1734 103.5h1M1735 101.5h1M1736 93.5h1M1736 109.5h1M1736 122.5h1M1737 78.5h1M1737 102.5h1M1738 86.5h1M1739 77.5h1M1739 107.5h1M1739 115.5h1M1739 119.5h1M1740 66.5h1M1740 108.5h1M1740 113.5h1M1741 63.5h1M1741 78.5h1M1741 80.5h1M1741 94.5h1M1741 101.5h1M1741 106.5h1M1741 112.5h1M1742 113.5h1M1743 121.5h1M1743 125.5h1M1744 92.5h1M1744 98.5h1M1744 106.5h1M1745 80.5h1M1745 99.5h1M1746 79.5h1M1746 99.5h1M1746 105.5h1M1746 108.5h1M1747 113.5h1M1747 116.5h1M1748 89.5h1M1748 106.5h1M1749 63.5h1M1749 76.5h1M1749 92.5h1M1750 108.5h1M1751 100.5h1M1751 121.5h1M1753 90.5h1M1753 118.5h1M1753 120.5h1M1754 89.5h1M1754 96.5h1M1755 93.5h1M1756 94.5h1M1756 99.5h1M1756 112.5h1M1757 75.5h1M1757 113.5h1M1758 100.5h1M1758 102.5h1M1758 105.5h1M1758 110.5h1M1758 113.5h1M1759 66.5h1M1759 76.5h1M1760 69.5h1M1760 70.5h1M1761 84.5h1M1761 100.5h1M1761 116.5h1M1762 91.5h1M1762 116.5h1M1763 103.5h1M1764 61.5h1M1764 104.5h1M1764 111.5h1M1766 99.5h1M1766 106.5h1M1766 112.5h1M1766 116.5h1M1766 125.5h1M1767 119.5h1M1769 67.5h1M1769 95.5h1M1769 112.5h1M1770 76.5h1M1770 84.5h1M1770 105.5h1M1770 109.5h1M1771 75.5h1M1771 104.5h1M1771 108.5h1M1771 112.5h1M1773 77.5h1M1773 101.5h1M1774 103.5h1M1774 114.5h1M1775 79.5h1M1775 115.5h1M1775 119.5h1M1777 90.5h1M1777 124.5h1M1778 65.5h1M1778 109.5h1M1778 117.5h1M1779 88.5h1M1779 118.5h1M1780 70.5h1M1780 89.5h1M1780 90.5h1M1780 104.5h1M1781 123.5h1M1782 102.5h1M1783 101.5h1M1783 112.5h1M1784 71.5h1M1784 104.5h1M1784 126.5h1M1785 99.5h1M1786 120.5h1M1787 92.5h1M1788 65.5h1M1788 83.5h1M1788 89.5h1M1789 80.5h1M1791 80.5h1M1791 116.5h1M1793 122.5h1M1794 84.5h1M1794 86.5h1M1794 90.5h1M1795 79.5h1M1796 93.5h1M1796 97.5h1M1797 92.5h1M1797 112.5h1M1798 126.5h1M1799 72.5h1M1799 77.5h1M1799 79.5h1M1799 90.5h1M1799 122.5h1M1801 74.5h1M1801 108.5h1M1803 103.5h1M1804 111.5h1M1805 109.5h1M1806 93.5h1M1806 108.5h1M1807 91.5h1M1807 94.5h1M1808 98.5h1M1809 60.5h1M1811 62.5h1M1813 68.5h1M1814 83.5h1M1816 73.5h1M1818 71.5h1M1818 79.5h1M1819 78.5h1M1822 121.5h1M1823 112.5h1M1823 119.5h1M1824 78.5h1M1824 122.5h1M1825 72.5h1M1825 97.5h1M1826 69.5h1M1826 115.5h1M1828 76.5h1M1828 102.5h1M1829 75.5h1M1834 93.5h1M1835 72.5h1M1836 61.5h1M1836 100.5h1M1838 66.5h1M1839 98.5h1M1839 121.5h1M1840 120.5h1M1847 104.5h1M1849 101.5h1M1850 120.5h1M1852 118.5h1M1853 101.5h1M1854 65.5h1M1857 83.5h1M1858 75.5h1M1865 109.5h1M1865 117.5h1M1867 104.5h1M1877 78.5h1M1883 81.5h1M1884 82.5h1M1887 73.5h1M1888 95.5h1M1889 93.5h1M1890 74.5h1M1892 121.5h1M1894 72.5h1M1894 87.5h1M1894 93.5h1M1896 83.5h1M1897 84.5h1M1897 108.5h1M1898 85.5h1M1899 106.5h1M1901 107.5h1M1903 105.5h1M1906 114.5h1M1907 100.5h1M1909 82.5h1M1909 126.5h1M1910 81.5h1M1915 78.5h1M1916 63.5h1M1917 117.5h1M1921 85.5h1M1921 124.5h1M1922 99.5h1M1924 92.5h1M1924 99.5h1M1925 111.5h1M1929 68.5h1M1931 70.5h1M1932 83.5h1M1932 110.5h1M1933 121.5h1M1934 119.5h1M1935 64.5h1M1936 114.5h1M1940 124.5h1M1941 83.5h1M1941 97.5h1M1941 112.5h1M1942 101.5h1M1943 93.5h1M1943 97.5h1M1943 99.5h1M1944 88.5h1M1945 77.5h1M1945 85.5h1M1945 89.5h1M1946 60.5h1M1946 75.5h1M1946 104.5h1M1948 77.5h1M1950 76.5h1M1950 107.5h1M1951 90.5h1M1951 115.5h1M1952 95.5h1M1952 101.5h1M1953 88.5h1M1955 68.5h1M1956 69.5h1M1958 74.5h1M1958 102.5h1M1958 107.5h1M1959 114.5h1M1960 108.5h1M1960 113.5h1M1961 86.5h1M1962 126.5h1M1963 106.5h1M1966 94.5h1M1967 93.5h1M1969 118.5h1M1971 102.5h1M1973 119.5h1M1975 67.5h1M1979 89.5h1M1981 65.5h1M1981 107.5h1M1983 117.5h1M1986 70.5h1M1987 118.5h1M1988 68.5h1M1988 95.5h1M1991 69.5h1M1992 112.5h1M1993 107.5h1M1993 112.5h1M1996 96.5h1M1998 117.5h1M1999 118.5h1M2000 114.5h1M2001 114.5h1M2001 115.5h1M2003 104.5h1M2004 105.5h1M2005 94.5h1M2007 85.5h1M2008 86.5h1M2013 103.5h1M2016 95.5h1M2018 75.5h1M2018 89.5h1M2028 87.5h1M2036 69.5h1M2039 73.5h1M2040 75.5h1M2046 84.5h1M2047 92.5h1M2048 87.5h1M2049 87.5h1M2049 88.5h1M2052 118.5h1M2053 94.5h1M2053 115.5h1M2054 93.5h1M2055 60.5h1M2055 64.5h1M2059 104.5h1M2060 124.5h1M2062 66.5h1M2062 126.5h1M2064 110.5h1M2066 81.5h1M2066 82.5h1M2070 117.5h1M2071 119.5h1M2072 90.5h1M2075 125.5h1M2076 79.5h1M2076 97.5h1M2077 79.5h1M2080 92.5h1M2080 118.5h1M2080 121.5h1M2081 87.5h1M2081 92.5h1M2081 104.5h1M2083 60.5h1M2083 91.5h1M2085 108.5h1M2086 63.5h1M2088 103.5h1M2090 91.5h1M2090 107.5h1M2094 102.5h1M2098 118.5h1M2100 121.5h1M2102 119.5h1M2104 92.5h1M2104 120.5h1M2105 121.5h1M2106 111.5h1M2111 61.5h1M2112 121.5h1M2114 72.5h1M2115 124.5h1M2116 70.5h1M2116 109.5h1M2116 114.5h1M2118 67.5h1M2119 111.5h1M2120 65.5h1M2120 116.5h1M2122 61.5h1M2123 104.5h1M2123 112.5h1M2123 116.5h1M2124 116.5h1M2126 95.5h1M2130 102.5h1M2132 95.5h1M2136 85.5h1M2139 113.5h1M2140 79.5h1M2141 111.5h1M2142 110.5h1M2144 69.5h1M2144 107.5h1M2145 106.5h1M2148 63.5h1M2148 101.5h1M2152 95.5h1M2153 64.5h1M2160 100.5h1"/>
<path stroke="#f8c6b0" d="M1224 83.5h1M1224 84.5h1M1224 122.5h1M1227 102.5h1M1227 120.5h1M1229 72.5h1M1229 88.5h1M1229 93.5h1M1230 87.5h1M1231 60.5h1M1231 85.5h1M1232 74.5h1M1232 79.5h1M1232 114.5h1M1236 68.5h1M1238 108.5h1M1239 93.5h1M1240 63.5h1M1240 77.5h1M1241 98.5h1M1243 91.5h1M1244 104.5h1M1246 106.5h1M1248 124.5h1M1250 64.5h1M1250 92.5h1M1250 123.5h1M1251 93.5h1M1253 81.5h1M1256 125.5h1M1257 74.5h1M1257 77.5h1M1257 105.5h1M1257 118.5h1M1258 74.5h1M1258 75.5h1M1258 88.5h1M1258 106.5h1M1260 78.5h1M1260 79.5h1M1265 74.5h1M1266 93.5h1M1266 119.5h1M1267 72.5h1M1267 86.5h1M1267 118.5h1M1268 67.5h1M1269 98.5h1M1269 108.5h1M1269 123.5h1M1271 91.5h1M1273 63.5h1M1274 64.5h1M1278 91.5h1M1278 94.5h1M1279 82.5h1M1279 86.5h1M1280 87.5h1M1281 74.5h1M1281 81.5h1M1281 84.5h1M1283 75.5h1M1283 124.5h1M1284 88.5h1M1284 106.5h1M1284 111.5h1M1285 65.5h1M1285 115.5h1M1286 65.5h1M1287 64.5h1M1289 117.5h1M1291 71.5h1M1292 115.5h1M1294 90.5h1M1295 100.5h1M1300 97.5h1M1300 98.5h1M1301 78.5h1M1305 109.5h1M1314 76.5h1M1317 98.5h1M1317 107.5h1M1323 111.5h1M1323 124.5h1M1326 74.5h1M1327 75.5h1M1328 116.5h1M1334 73.5h1M1347 98.5h1M1351 93.5h1M1352 97.5h1M1355 102.5h1M1355 121.5h1M1356 122.5h1M1358 95.5h1M1358 106.5h1M1360 123.5h1M1367 88.5h1M1371 65.5h1M1371 71.5h1M1372 75.5h1M1375 109.5h1M1377 85.5h1M1398 125.5h1M1400 87.5h1M1400 90.5h1M1403 74.5h1M1403 110.5h1M1408 82.5h1M1410 62.5h1M1411 104.5h1M1413 98.5h1M1414 65.5h1M1422 83.5h1M1423 107.5h1M1425 105.5h1M1427 71.5h1M1430 72.5h1M1431 124.5h1M1439 68.5h1M1441 126.5h1M1445 99.5h1M1446 72.5h1M1447 83.5h1M1447 100.5h1M1449 80.5h1M1450 66.5h1M1451 93.5h1M1456 84.5h1M1457 98.5h1M1463 70.5h1M1463 97.5h1M1464 76.5h1M1464 85.5h1M1465 81.5h1M1465 108.5h1M1465 109.5h1M1467 115.5h1M1468 75.5h1M1468 84.5h1M1470 104.5h1M1471 60.5h1M1471 96.5h1M1471 106.5h1M1471 113.5h1M1471 117.5h1M1473 91.5h1M1475 102.5h1M1476 126.5h1M1478 123.5h1M1479 99.5h1M1479 112.5h1M1479 124.5h1M1480 68.5h1M1480 99.5h1M1482 102.5h1M1482 108.5h1M1483 84.5h1M1483 102.5h1M1483 116.5h1M1483 126.5h1M1484 101.5h1M1484 103.5h1M1485 76.5h1M1486 68.5h1M1486 75.5h1M1487 122.5h1M1488 68.5h1M1490 65.5h1M1490 83.5h1M1490 115.5h1M1491 85.5h1M1491 122.5h1M1492 86.5h1M1492 111.5h1M1492 118.5h1M1493 88.5h1M1493 113.5h1M1493 126.5h1M1494 101.5h1M1495 107.5h1M1496 77.5h1M1497 124.5h1M1498 95.5h1M1498 105.5h1M1499 82.5h1M1501 103.5h1M1501 123.5h1M1502 126.5h1M1503 82.5h1M1504 97.5h1M1505 79.5h1M1505 88.5h1M1506 91.5h1M1507 86.5h1M1507 88.5h1M1507 90.5h1M1507 91.5h1M1507 118.5h1M1508 100.5h1M1508 113.5h1M1509 113.5h1M1510 97.5h1M1511 121.5h1M1511 125.5h1M1512 74.5h1M1512 93.5h1M1512 107.5h1M1513 116.5h1M1515 115.5h1M1517 113.5h1M1518 86.5h1M1518 90.5h1M1518 115.5h1M1519 85.5h1M1519 94.5h1M1519 116.5h1M1521 75.5h1M1521 90.5h1M1521 92.5h1M1521 111.5h1M1523 85.5h1M1523 109.5h1M1524 69.5h1M1524 77.5h1M1524 90.5h1M1524 91.5h1M1524 106.5h1M1524 111.5h1M1525 62.5h1M1525 76.5h1M1525 89.5h1M1525 124.5h1M1526 75.5h1M1526 98.5h1M1526 123.5h1M1526 125.5h1M1527 78.5h1M1529 69.5h1M1530 70.5h1M1530 82.5h1M1530 120.5h1M1531 78.5h1M1533 78.5h1M1533 101.5h1M1534 100.5h1M1536 98.5h1M1536 116.5h1M1537 91.5h1M1537 120.5h1M1538 96.5h1M1539 85.5h1M1540 62.5h1M1540 124.5h1M1541 68.5h1M1541 83.5h1M1541 91.5h1M1542 106.5h1M1543 98.5h1M1544 86.5h1M1544 88.5h1M1545 86.5h1M1546 83.5h1M1547 113.5h1M1548 73.5h1M1549 92.5h1M1550 102.5h1M1552 67.5h1M1553 66.5h1M1555 84.5h1M1555 102.5h1M1556 84.5h1M1556 85.5h1M1557 80.5h1M1557 103.5h1M1558 81.5h1M1559 62.5h1M1562 71.5h1M1565 100.5h1M1565 107.5h1M1566 70.5h1M1566 108.5h1M1569 81.5h1M1570 75.5h1M1571 84.5h1M1572 99.5h1M1573 64.5h1M1573 76.5h1M1573 82.5h1M1575 62.5h1M1579 72.5h1M1579 82.5h1M1579 109.5h1M1580 98.5h1M1581 63.5h1M1581 111.5h1M1587 104.5h1M1588 106.5h1M1590 91.5h1M1593 69.5h1M1593 123.5h1M1596 84.5h1M1597 104.5h1M1599 106.5h1M1599 116.5h1M1600 72.5h1M1602 80.5h1M1605 70.5h1M1605 120.5h1M1607 97.5h1M1607 98.5h1M1613 88.5h1M1617 74.5h1M1617 85.5h1M1619 95.5h1M1622 81.5h1M1623 101.5h1M1623 116.5h1M1624 64.5h1M1624 117.5h1M1625 109.5h1M1630 66.5h1M1630 115.5h1M1634 110.5h1M1635 111.5h1M1636 118.5h1M1638 78.5h1M1642 86.5h1M1642 109.5h1M1642 113.5h1M1643 89.5h1M1643 121.5h1M1644 88.5h1M1644 118.5h1M1644 119.5h1M1645 119.5h1M1646 118.5h1M1647 90.5h1M1650 76.5h1M1653 100.5h1M1654 73.5h1M1654 99.5h1M1656 79.5h1M1657 86.5h1M1657 106.5h1M1660 75.5h1M1664 62.5h1M1666 85.5h1M1666 96.5h1M1671 91.5h1M1680 118.5h1M1682 113.5h1M1684 112.5h1M1691 110.5h1M1692 86.5h1M1697 121.5h1M1700 76.5h1M1702 74.5h1M1711 78.5h1M1712 78.5h1M1719 126.5h1M1729 67.5h1M1734 63.5h1M1754 62.5h1M1756 108.5h1M1758 122.5h1M1759 68.5h1M1762 65.5h1M1763 98.5h1M1765 79.5h1M1767 83.5h1M1774 93.5h1M1775 113.5h1M1779 103.5h1M1784 103.5h1M1787 95.5h1M1788 63.5h1M1788 103.5h1M1789 62.5h1M1790 77.5h1M1791 76.5h1M1793 79.5h1M1796 119.5h1M1799 118.5h1M1800 82.5h1M1801 83.5h1M1804 79.5h1M1808 100.5h1M1808 118.5h1M1810 65.5h1M1813 101.5h1M1814 64.5h1M1814 77.5h1M1816 70.5h1M1816 82.5h1M1816 92.5h1M1817 99.5h1M1819 68.5h1M1819 98.5h1M1821 86.5h1M1821 101.5h1M1824 91.5h1M1826 83.5h1M1826 84.5h1M1826 107.5h1M1827 91.5h1M1827 106.5h1M1828 113.5h1M1829 110.5h1M1830 69.5h1M1830 71.5h1M1831 68.5h1M1833 117.5h1M1834 95.5h1M1835 62.5h1M1837 66.5h1M1837 114.5h1M1839 107.5h1M1840 67.5h1M1840 72.5h1M1840 85.5h1M1840 125.5h1M1841 80.5h1M1841 118.5h1M1843 72.5h1M1843 102.5h1M1843 109.5h1M1843 115.5h1M1843 116.5h1M1844 99.5h1M1844 108.5h1M1845 99.5h1M1846 70.5h1M1846 102.5h1M1846 117.5h1M1847 80.5h1M1847 96.5h1M1847 112.5h1M1847 115.5h1M1848 88.5h1M1848 107.5h1M1849 82.5h1M1849 94.5h1M1849 100.5h1M1849 112.5h1M1850 76.5h1M1850 89.5h1M1850 113.5h1M1851 89.5h1M1851 119.5h1M1852 110.5h1M1852 111.5h1M1852 120.5h1M1853 63.5h1M1853 120.5h1M1854 97.5h1M1854 100.5h1M1855 65.5h1M1856 105.5h1M1857 61.5h1M1857 84.5h1M1858 76.5h1M1858 88.5h1M1858 100.5h1M1860 65.5h1M1860 85.5h1M1860 107.5h1M1861 62.5h1M1861 95.5h1M1861 113.5h1M1862 97.5h1M1864 88.5h1M1864 93.5h1M1864 98.5h1M1865 87.5h1M1865 89.5h1M1866 89.5h1M1866 126.5h1M1868 85.5h1M1869 70.5h1M1869 80.5h1M1870 79.5h1M1870 104.5h1M1870 108.5h1M1871 68.5h1M1871 92.5h1M1871 105.5h1M1873 64.5h1M1873 93.5h1M1873 94.5h1M1873 119.5h1M1873 122.5h1M1874 96.5h1M1874 116.5h1M1875 67.5h1M1875 87.5h1M1875 88.5h1M1875 97.5h1M1876 98.5h1M1876 119.5h1M1878 121.5h1M1880 82.5h1M1881 76.5h1M1881 101.5h1M1882 123.5h1M1883 62.5h1M1883 80.5h1M1883 94.5h1M1883 100.5h1M1885 75.5h1M1886 114.5h1M1886 118.5h1M1887 99.5h1M1887 102.5h1M1887 110.5h1M1887 114.5h1M1888 79.5h1M1888 97.5h1M1888 106.5h1M1888 116.5h1M1889 76.5h1M1890 114.5h1M1891 104.5h1M1892 98.5h1M1892 122.5h1M1893 60.5h1M1896 103.5h1M1897 80.5h1M1899 100.5h1M1900 72.5h1M1901 85.5h1M1901 101.5h1M1902 72.5h1M1902 78.5h1M1902 100.5h1M1902 125.5h1M1903 79.5h1M1903 83.5h1M1903 100.5h1M1904 61.5h1M1904 83.5h1M1904 84.5h1M1904 101.5h1M1904 120.5h1M1905 61.5h1M1905 70.5h1M1905 102.5h1M1905 114.5h1M1905 122.5h1M1906 67.5h1M1906 83.5h1M1906 110.5h1M1906 123.5h1M1908 105.5h1M1908 116.5h1M1909 71.5h1M1909 76.5h1M1909 116.5h1M1909 122.5h1M1910 119.5h1M1911 60.5h1M1912 80.5h1M1912 112.5h1M1913 120.5h1M1914 82.5h1M1914 99.5h1M1915 73.5h1M1915 85.5h1M1915 90.5h1M1915 107.5h1M1916 65.5h1M1916 83.5h1M1917 92.5h1M1917 97.5h1M1919 100.5h1M1919 112.5h1M1921 70.5h1M1921 86.5h1M1922 68.5h1M1922 69.5h1M1922 107.5h1M1923 89.5h1M1923 97.5h1M1924 63.5h1M1925 114.5h1M1926 63.5h1M1926 91.5h1M1927 64.5h1M1927 67.5h1M1927 84.5h1M1927 114.5h1M1928 88.5h1M1930 110.5h1M1931 64.5h1M1932 62.5h1M1932 79.5h1M1932 88.5h1M1933 102.5h1M1935 74.5h1M1935 76.5h1M1935 81.5h1M1935 108.5h1M1936 68.5h1M1936 82.5h1M1936 91.5h1M1936 120.5h1M1937 79.5h1M1938 75.5h1M1938 80.5h1M1938 89.5h1M1938 105.5h1M1939 100.5h1M1941 85.5h1M1941 95.5h1M1942 96.5h1M1943 66.5h1M1943 68.5h1M1944 60.5h1M1945 83.5h1M1945 113.5h1M1946 65.5h1M1946 103.5h1M1947 80.5h1M1948 95.5h1M1950 94.5h1M1950 111.5h1M1950 114.5h1M1951 84.5h1M1951 99.5h1M1952 87.5h1M1952 97.5h1M1952 99.5h1M1953 70.5h1M1953 81.5h1M1953 94.5h1M1953 111.5h1M1954 94.5h1M1954 117.5h1M1957 97.5h1M1957 124.5h1M1958 80.5h1M1958 113.5h1M1958 119.5h1M1959 97.5h1M1959 111.5h1M1960 98.5h1M1960 105.5h1M1960 120.5h1M1961 79.5h1M1962 62.5h1M1962 67.5h1M1962 93.5h1M1962 108.5h1M1963 66.5h1M1963 92.5h1M1963 94.5h1M1964 97.5h1M1965 62.5h1M1965 91.5h1M1965 96.5h1M1966 63.5h1M1967 121.5h1M1969 91.5h1M1970 97.5h1M1970 117.5h1M1970 118.5h1M1971 112.5h1M1971 117.5h1M1972 95.5h1M1973 81.5h1M1973 109.5h1M1973 126.5h1M1974 87.5h1M1975 122.5h1M1976 72.5h1M1979 105.5h1M1981 120.5h1M1982 83.5h1M1982 112.5h1M1984 113.5h1M1985 84.5h1M1985 100.5h1M1986 64.5h1M1986 85.5h1M1986 98.5h1M1986 107.5h1M1986 114.5h1M1987 63.5h1M1987 87.5h1M1987 115.5h1M1988 117.5h1M1989 68.5h1M1989 113.5h1M1989 117.5h1M1989 126.5h1M1990 112.5h1M1991 74.5h1M1991 80.5h1M1991 90.5h1M1991 124.5h1M1994 97.5h1M1995 73.5h1M1995 87.5h1M1995 106.5h1M1995 117.5h1M1996 73.5h1M1996 89.5h1M1996 107.5h1M1997 90.5h1M1998 67.5h1M1998 89.5h1M1998 92.5h1M1998 99.5h1M1999 89.5h1M1999 106.5h1M1999 111.5h1M1999 116.5h1M2000 75.5h1M2000 111.5h1M2001 87.5h1M2001 111.5h1M2002 86.5h1M2003 68.5h1M2005 80.5h1M2005 88.5h1M2005 95.5h1M2006 86.5h1M2006 87.5h1M2006 98.5h1M2006 103.5h1M2006 104.5h1M2006 116.5h1M2007 66.5h1M2007 105.5h1M2008 87.5h1M2008 110.5h1M2008 122.5h1M2009 83.5h1M2009 100.5h1M2009 108.5h1M2009 120.5h1M2010 82.5h1M2011 120.5h1M2012 67.5h1M2012 79.5h1M2012 100.5h1M2013 88.5h1M2013 107.5h1M2014 72.5h1M2014 76.5h1M2016 77.5h1M2016 118.5h1M2017 88.5h1M2017 95.5h1M2017 107.5h1M2018 67.5h1M2019 66.5h1M2021 95.5h1M2021 96.5h1M2021 106.5h1M2021 109.5h1M2022 74.5h1M2022 79.5h1M2022 117.5h1M2022 126.5h1M2024 100.5h1M2025 99.5h1M2025 108.5h1M2026 82.5h1M2027 79.5h1M2027 97.5h1M2028 71.5h1M2028 103.5h1M2029 115.5h1M2029 116.5h1M2030 108.5h1M2031 123.5h1M2032 74.5h1M2032 112.5h1M2033 74.5h1M2035 80.5h1M2035 99.5h1M2036 80.5h1M2037 125.5h1M2038 121.5h1M2038 122.5h1M2039 115.5h1M2039 126.5h1M2040 116.5h1M2040 125.5h1M2041 94.5h1M2042 93.5h1M2044 67.5h1M2044 108.5h1M2044 117.5h1M2045 100.5h1M2045 107.5h1M2046 80.5h1M2046 97.5h1M2046 123.5h1M2047 62.5h1M2048 102.5h1M2049 96.5h1M2049 118.5h1M2049 119.5h1M2049 126.5h1M2050 62.5h1M2050 96.5h1M2051 115.5h1M2052 113.5h1M2054 92.5h1M2056 121.5h1M2058 121.5h1M2059 94.5h1M2060 82.5h1M2060 83.5h1M2061 79.5h1M2061 81.5h1M2061 112.5h1M2061 119.5h1M2062 80.5h1M2062 117.5h1M2062 118.5h1M2063 72.5h1M2063 125.5h1M2064 113.5h1M2067 90.5h1M2067 91.5h1M2067 94.5h1M2068 90.5h1M2068 108.5h1M2069 99.5h1M2069 106.5h1M2070 106.5h1M2071 97.5h1M2071 105.5h1M2073 62.5h1M2074 109.5h1M2074 118.5h1M2076 117.5h1M2077 68.5h1M2077 95.5h1M2079 92.5h1M2080 74.5h1M2080 111.5h1M2082 69.5h1M2082 85.5h1M2082 97.5h1M2086 64.5h1M2087 62.5h1M2090 86.5h1M2092 88.5h1M2092 124.5h1M2096 86.5h1M2096 120.5h1M2097 86.5h1M2097 97.5h1M2098 83.5h1M2099 99.5h1M2100 75.5h1M2100 82.5h1M2100 112.5h1M2101 61.5h1M2104 66.5h1M2104 68.5h1M2105 66.5h1M2105 69.5h1M2105 74.5h1M2109 72.5h1M2112 62.5h1M2112 68.5h1M2116 98.5h1M2118 85.5h1M2118 126.5h1M2120 124.5h1M2122 112.5h1M2123 85.5h1M2124 78.5h1M2124 117.5h1M2125 116.5h1M2125 117.5h1M2129 104.5h1M2129 111.5h1M2130 104.5h1M2131 61.5h1M2131 68.5h1M2132 94.5h1M2132 105.5h1M2132 115.5h1M2134 107.5h1M2135 62.5h1M2135 102.5h1M2136 96.5h1M2136 97.5h1M2137 61.5h1M2137 63.5h1M2138 114.5h1M2139 85.5h1M2140 75.5h1M2140 103.5h1M2140 119.5h1M2141 85.5h1M2141 94.5h1M2141 105.5h1M2141 119.5h1M2143 103.5h1M2144 125.5h1M2145 65.5h1M2147 99.5h1M2148 113.5h1M2148 114.5h1M2149 82.5h1M2152 101.5h1M2153 100.5h1M2153 116.5h1M2154 106.5h1M2155 100.5h1M2155 104.5h1M2156 91.5h1M2156 117.5h1M2159 102.5h1M2160 107.5h1M2160 117.5h1M2162 114.5h1M2163 62.5h1M2163 119.5h1M2164 81.5h1M2164 94.5h1M2164 122.5h1M2166 109.5h1M2167 79.5h1"/>
</g>
<line x1="1330.2" y1="60.0" x2="1330.2" y2="127.0" stroke="#eeeeee" stroke-width="1" opacity="0.5"/>
<line x1="1434.8" y1="60.0" x2="1434.8" y2="127.0" stroke="#eeeeee" stroke-width="1" opacity="0.5"/>
<line x1="1539.4" y1="60.0" x2="1539.4" y2="127.0" stroke="#eeeeee" stroke-width="1" opacity="0.5"/>
<line x1="1644.0" y1="60.0" x2="1644.0" y2="127.0" stroke="#eeeeee" stroke-width="1" opacity="0.5"/>
<line x1="1748.6" y1="60.0" x2="1748.6" y2="127.0" stroke="#eeeeee" stroke-width="1" opacity="0.5"/>
<line x1="1853.2" y1="60.0" x2="1853.2" y2="127.0" stroke="#eeeeee" stroke-width="1" opacity="0.5"/>
<line x1="1957.8" y1="60.0" x2="1957.8" y2="127.0" stroke="#eeeeee" stroke-width="1" opacity="0.5"/>
<line x1="2062.4" y1="60.0" x2="2062.4" y2="127.0" stroke="#eeeeee" stroke-width="1" opacity="0.5"/>
<line x1="2167.0" y1="60.0" x2="2167.0" y2="127.0" stroke="#eeeeee" stroke-width="1" opacity="0.5"/>
<rect x="1223.2" y="59.6" width="945.5" height="67.8" fill="none" stroke="#333" stroke-width="1.5"/>
<line x1="1225.6" y1="127.4" x2="1225.6" y2="132.4" stroke="#333" stroke-width="1.5"/>
<line x1="1434.8" y1="127.4" x2="1434.8" y2="132.4" stroke="#333" stroke-width="1.5"/>
<line x1="1644.0" y1="127.4" x2="1644.0" y2="132.4" stroke="#333" stroke-width="1.5"/>
<line x1="1853.2" y1="127.4" x2="1853.2" y2="132.4" stroke="#333" stroke-width="1.5"/>
<line x1="2062.4" y1="127.4" x2="2062.4" y2="132.4" stroke="#333" stroke-width="1.5"/>
<polyline points="1474.8,59.6 1522.4,126.8 1566.9,59.6" fill="none" stroke="#111" stroke-width="4.2"/>
<polyline points="1474.8,59.6 1522.4,126.8 1566.9,59.6" fill="none" stroke="#fff" stroke-width="1.6"/>
<text x="1939.0" y="149.3" font-size="28" textLength="64.0" lengthAdjust="spacingAndGlyphs">Delta</text>
<rect x="2013.0" y="134.7" width="7.9" height="11.3" fill="#2166ac"/>
<rect x="2020.6" y="134.7" width="7.9" height="11.3" fill="#3a7dba"/>
<rect x="2028.2" y="134.7" width="7.9" height="11.3" fill="#4a8cc2"/>
<rect x="2035.7" y="134.7" width="7.9" height="11.3" fill="#65a1ce"/>
<rect x="2043.3" y="134.7" width="7.9" height="11.3" fill="#84b6d9"/>
<rect x="2050.9" y="134.7" width="7.9" height="11.3" fill="#a3cae3"/>
<rect x="2058.5" y="134.7" width="7.9" height="11.3" fill="#bcd8ea"/>
<rect x="2066.1" y="134.7" width="7.9" height="11.3" fill="#d6e6f1"/>
<rect x="2073.6" y="134.7" width="7.9" height="11.3" fill="#e8eff5"/>
<rect x="2081.2" y="134.7" width="7.9" height="11.3" fill="#f5f1ee"/>
<rect x="2088.8" y="134.7" width="7.9" height="11.3" fill="#f9e6dc"/>
<rect x="2096.4" y="134.7" width="7.9" height="11.3" fill="#fad4c0"/>
<rect x="2103.9" y="134.7" width="7.9" height="11.3" fill="#f8bfa3"/>
<rect x="2111.5" y="134.7" width="7.9" height="11.3" fill="#f4a582"/>
<rect x="2119.1" y="134.7" width="7.9" height="11.3" fill="#eb8a6a"/>
<rect x="2126.7" y="134.7" width="7.9" height="11.3" fill="#e07055"/>
<rect x="2134.3" y="134.7" width="7.9" height="11.3" fill="#d2554a"/>
<rect x="2141.8" y="134.7" width="7.9" height="11.3" fill="#c33a3c"/>
<rect x="2149.4" y="134.7" width="7.9" height="11.3" fill="#b2182b"/>
<rect x="2016.0" y="134.7" width="2.0" height="2.2" fill="#333"/>
<rect x="2016.0" y="143.8" width="2.0" height="2.2" fill="#333"/>
<rect x="2049.7" y="134.7" width="2.0" height="2.2" fill="#333"/>
<rect x="2049.7" y="143.8" width="2.0" height="2.2" fill="#333"/>
<rect x="2083.7" y="134.7" width="2.0" height="2.2" fill="#333"/>
<rect x="2083.7" y="143.8" width="2.0" height="2.2" fill="#333"/>
<rect x="2118.0" y="134.7" width="2.0" height="2.2" fill="#333"/>
<rect x="2118.0" y="143.8" width="2.0" height="2.2" fill="#333"/>
<rect x="2151.7" y="134.7" width="2.0" height="2.2" fill="#333"/>
<rect x="2151.7" y="143.8" width="2.0" height="2.2" fill="#333"/>
<text x="2012.6" y="173.4" font-size="26.3" text-anchor="middle">−4</text>
<text x="2084.2" y="173.4" font-size="26.3" text-anchor="middle">0</text>
<text x="2153.5" y="173.4" font-size="26.3" text-anchor="middle">4</text>
<line x1="1225.6" y1="201.7" x2="1225.6" y2="307.4" stroke="#ebebeb" stroke-width="1"/>
<line x1="1330.2" y1="201.7" x2="1330.2" y2="307.4" stroke="#ebebeb" stroke-width="1"/>
<line x1="1434.8" y1="201.7" x2="1434.8" y2="307.4" stroke="#ebebeb" stroke-width="1"/>
<line x1="1539.4" y1="201.7" x2="1539.4" y2="307.4" stroke="#ebebeb" stroke-width="1"/>
<line x1="1644.0" y1="201.7" x2="1644.0" y2="307.4" stroke="#ebebeb" stroke-width="1"/>
<line x1="1748.6" y1="201.7" x2="1748.6" y2="307.4" stroke="#ebebeb" stroke-width="1"/>
<line x1="1853.2" y1="201.7" x2="1853.2" y2="307.4" stroke="#ebebeb" stroke-width="1"/>
<line x1="1957.8" y1="201.7" x2="1957.8" y2="307.4" stroke="#ebebeb" stroke-width="1"/>
<line x1="2062.4" y1="201.7" x2="2062.4" y2="307.4" stroke="#ebebeb" stroke-width="1"/>
<line x1="2167.0" y1="201.7" x2="2167.0" y2="307.4" stroke="#ebebeb" stroke-width="1"/>
<line x1="1224.0" y1="302.2" x2="2168.5" y2="302.2" stroke="#f0f0f0" stroke-width="1"/>
<line x1="1224.0" y1="283.0" x2="2168.5" y2="283.0" stroke="#f0f0f0" stroke-width="1"/>
<line x1="1224.0" y1="263.8" x2="2168.5" y2="263.8" stroke="#f0f0f0" stroke-width="1"/>
<line x1="1224.0" y1="244.6" x2="2168.5" y2="244.6" stroke="#f0f0f0" stroke-width="1"/>
<line x1="1224.0" y1="225.4" x2="2168.5" y2="225.4" stroke="#f0f0f0" stroke-width="1"/>
<line x1="1224.0" y1="206.2" x2="2168.5" y2="206.2" stroke="#f0f0f0" stroke-width="1"/>
<text x="1229.5" y="184.4" font-size="28.5" textLength="441.5" lengthAdjust="spacingAndGlyphs">GAM-specific contacts per window</text>
<text x="2160.0" y="227.8" font-size="28.5" text-anchor="end">GAM preferred</text>
<line x1="1224" y1="267.1" x2="2168.5" y2="267.1" stroke="#555" stroke-width="2" stroke-dasharray="12 8"/>
<line x1="1216.4" y1="302.2" x2="1223.7" y2="302.2" stroke="#333" stroke-width="1.3"/>
<line x1="1216.4" y1="283.0" x2="1223.7" y2="283.0" stroke="#333" stroke-width="1.3"/>
<line x1="1216.4" y1="263.8" x2="1223.7" y2="263.8" stroke="#333" stroke-width="1.3"/>
<line x1="1216.4" y1="244.6" x2="1223.7" y2="244.6" stroke="#333" stroke-width="1.3"/>
<line x1="1216.4" y1="225.4" x2="1223.7" y2="225.4" stroke="#333" stroke-width="1.3"/>
<line x1="1216.4" y1="206.2" x2="1223.7" y2="206.2" stroke="#333" stroke-width="1.3"/>
<text x="1208.0" y="214.7" font-size="26.3" text-anchor="end">50</text>
<text x="1208.0" y="310.7" font-size="26.3" text-anchor="end">0</text>
<text x="1170.5" y="254.5" font-size="28.5" text-anchor="middle" transform="rotate(-90 1170.5 254.5)">Count</text>
<path d="M1225.6 268.5 1226.3 266.7 1227.1 261.0 1227.8 268.3 1228.5 267.5 1229.3 298.6 1230.0 298.6 1230.7 298.5 1231.5 297.3 1232.2 293.7 1232.9 285.8 1233.7 281.4 1234.4 295.7 1235.1 298.9 1235.9 293.4 1236.6 296.5 1237.3 287.3 1238.0 288.5 1238.8 291.8 1239.5 296.6 1240.2 288.1 1241.0 299.1 1241.7 293.4 1242.4 280.0 1243.2 299.1 1243.9 287.6 1244.6 287.7 1245.4 299.2 1246.1 290.7 1246.8 291.1 1247.6 294.6 1248.3 294.9 1249.0 279.4 1249.8 275.0 1250.5 284.7 1251.2 299.3 1252.0 285.6 1252.7 298.2 1253.4 293.0 1254.2 292.5 1254.9 287.6 1255.6 298.7 1256.4 286.8 1257.1 297.2 1257.8 290.8 1258.5 293.4 1259.3 298.0 1260.0 286.5 1260.7 291.6 1261.5 291.8 1262.2 298.1 1262.9 286.3 1263.7 299.0 1264.4 297.3 1265.1 299.1 1265.9 291.6 1266.6 296.1 1267.3 295.2 1268.1 299.3 1268.8 295.3 1269.5 275.7 1270.3 276.0 1271.0 282.9 1271.7 280.5 1272.5 285.0 1273.2 280.9 1273.9 294.9 1274.7 294.7 1275.4 295.8 1276.1 296.3 1276.9 296.7 1277.6 295.4 1278.3 290.6 1279.1 279.3 1279.8 279.4 1280.5 288.9 1281.2 292.1 1282.0 274.5 1282.7 292.1 1283.4 290.1 1284.2 292.4 1284.9 291.5 1285.6 289.9 1286.4 270.7 1287.1 281.8 1287.8 288.3 1288.6 271.5 1289.3 267.7 1290.0 264.5 1290.8 268.3 1291.5 271.2 1292.2 271.7 1293.0 275.8 1293.7 282.5 1294.4 272.4 1295.2 273.1 1295.9 274.0 1296.6 272.6 1297.4 268.9 1298.1 271.2 1298.8 289.6 1299.6 281.0 1300.3 292.0 1301.0 288.8 1301.7 294.5 1302.5 286.0 1303.2 294.2 1303.9 287.1 1304.7 292.3 1305.4 285.5 1306.1 272.6 1306.9 294.2 1307.6 292.2 1308.3 288.9 1309.1 293.7 1309.8 299.4 1310.5 300.0 1311.3 297.0 1312.0 295.8 1312.7 298.8 1313.5 298.5 1314.2 300.2 1314.9 299.6 1315.7 297.0 1316.4 300.2 1317.1 296.8 1317.9 300.0 1318.6 299.1M1320.8 296.9 1321.5 297.1 1322.3 296.6 1323.0 296.5 1323.7 296.6 1324.4 297.4 1325.2 278.7 1325.9 283.2 1326.6 283.1 1327.4 282.2 1328.1 277.7 1328.8 278.0 1329.6 283.8 1330.3 297.5 1331.0 297.5 1331.8 297.5 1332.5 297.4 1333.2 297.5 1334.0 297.9 1334.7 297.1 1335.4 298.7 1336.2 300.3 1336.9 299.4 1337.6 299.5 1338.4 299.9 1339.1 298.1 1339.8 298.0 1340.6 299.2 1341.3 299.6 1342.0 299.8 1342.8 299.6 1343.5 300.1 1344.2 298.4 1344.9 297.0 1345.7 297.8 1346.4 289.1 1347.1 292.2 1347.9 295.6 1348.6 299.2 1349.3 300.1 1350.1 298.4 1350.8 295.3 1351.5 292.8 1352.3 293.6 1353.0 294.7 1353.7 289.2 1354.5 298.7 1355.2 298.3 1355.9 299.0 1356.7 297.2 1357.4 293.4 1358.1 298.1 1358.9 290.1 1359.6 300.3 1360.3 299.6 1361.1 299.5 1361.8 292.0 1362.5 294.0 1363.3 294.2 1364.0 299.6 1364.7 298.1 1365.5 297.6 1366.2 300.3 1366.9 296.8 1367.6 291.4 1368.4 292.1 1369.1 293.7 1369.8 296.4 1370.6 300.2 1371.3 291.7 1372.0 299.1 1372.8 299.4 1373.5 297.5 1374.2 299.1 1375.0 300.3 1375.7 292.7 1376.4 300.2 1377.2 295.5 1377.9 299.1 1378.6 297.9 1379.4 299.8 1380.1 297.5 1380.8 300.0 1381.6 299.9 1382.3 294.4 1383.0 294.5 1383.8 290.3 1384.5 294.9 1385.2 299.4 1386.0 291.2 1386.7 290.2 1387.4 298.4 1388.1 298.1 1388.9 289.0 1389.6 287.4 1390.3 285.3 1391.1 285.2 1391.8 285.2 1392.5 289.0 1393.3 287.1 1394.0 276.1 1394.7 270.3 1395.5 271.5 1396.2 280.5 1396.9 270.0 1397.7 268.4 1398.4 270.4 1399.1 266.3 1399.9 299.8 1400.6 294.1 1401.3 298.4 1402.1 294.7 1402.8 299.7 1403.5 300.1 1404.3 300.3 1405.0 300.2 1405.7 299.9 1406.5 291.2 1407.2 300.2 1407.9 292.8 1408.6 293.5 1409.4 298.7 1410.1 295.4 1410.8 296.6 1411.6 291.0 1412.3 295.9 1413.0 300.3 1413.8 298.7 1414.5 281.4 1415.2 283.3 1416.0 286.6 1416.7 284.6 1417.4 279.2 1418.2 296.1 1418.9 297.3 1419.6 295.5 1420.4 295.8 1421.1 298.3 1421.8 297.1 1422.6 290.5 1423.3 293.3 1424.0 295.4 1424.8 282.4 1425.5 298.0 1426.2 298.3 1427.0 298.3 1427.7 295.3 1428.4 292.6 1429.2 286.6 1429.9 291.1 1430.6 298.3 1431.3 280.9 1432.1 297.0 1432.8 281.4 1433.5 278.3 1434.3 276.7 1435.0 277.8 1435.7 277.0 1436.5 277.6 1437.2 267.8 1437.9 266.1 1438.7 274.8 1439.4 274.6 1440.1 267.1 1440.9 275.1 1441.6 297.5 1442.3 296.4 1443.1 295.8 1443.8 298.1 1444.5 296.2 1445.3 291.0 1446.0 297.7 1446.7 295.6 1447.5 298.1 1448.2 298.3 1448.9 281.2 1449.7 298.3 1450.4 295.9 1451.1 294.8 1451.8 287.3 1452.6 294.3 1453.3 294.3 1454.0 296.2 1454.8 298.2 1455.5 286.7 1456.2 298.3 1457.0 279.6 1457.7 296.0 1458.4 295.1 1459.2 287.1 1459.9 285.4 1460.6 291.8 1461.4 287.3 1462.1 289.7 1462.8 288.5 1463.6 288.6 1464.3 278.5 1465.0 277.1 1465.8 281.7 1466.5 278.7 1467.2 281.9 1468.0 282.8 1468.7 263.0 1469.4 271.1 1470.2 275.5 1470.9 293.3 1471.6 293.3 1472.4 298.4 1473.1 281.3 1473.8 291.0 1474.5 297.0 1475.3 286.6 1476.0 286.2 1476.7 295.3 1477.5 298.3 1478.2 283.2 1478.9 291.2 1479.7 277.3 1480.4 297.2 1481.1 296.6 1481.9 296.8 1482.6 297.5 1483.3 287.7 1484.1 296.5 1484.8 292.1 1485.5 297.8 1486.3 298.0 1487.0 284.5 1487.7 289.3 1488.5 290.3 1489.2 285.0 1489.9 291.8 1490.7 286.9 1491.4 292.5 1492.1 287.7 1492.9 297.8 1493.6 285.7 1494.3 295.1 1495.0 235.3 1495.8 235.3 1496.5 235.1 1497.2 242.6 1498.0 219.4 1498.7 222.4 1499.4 221.5 1500.2 216.8 1500.9 279.7 1501.6 276.5 1502.4 276.9 1503.1 275.3 1503.8 278.2 1504.6 273.5 1505.3 278.3 1506.0 293.6 1506.8 292.7 1507.5 279.8 1508.2 274.1 1509.0 296.7 1509.7 271.0 1510.4 280.2 1511.2 289.4 1511.9 278.0 1512.6 285.6 1513.4 295.4 1514.1 278.4 1514.8 296.9 1515.6 281.2 1516.3 292.0 1517.0 291.0 1517.7 294.3 1518.5 295.4 1519.2 276.7 1519.9 280.4 1520.7 293.9 1521.4 297.0 1522.1 255.0 1522.9 245.4 1523.6 255.6 1524.3 275.0 1525.1 295.9 1525.8 255.1 1526.5 293.1 1527.3 299.6 1528.0 270.4 1528.7 299.9 1529.5 297.4 1530.2 255.9 1530.9 271.9 1531.7 279.0 1532.4 280.7 1533.1 292.2 1533.9 271.2 1534.6 298.2 1535.3 272.3 1536.1 299.9 1536.8 282.8 1537.5 299.4 1538.2 273.0 1539.0 263.6 1539.7 285.6 1540.4 293.7 1541.2 286.0 1541.9 280.2 1542.6 281.5 1543.4 272.6 1544.1 273.6 1544.8 295.3 1545.6 293.0 1546.3 296.2 1547.0 295.0 1547.8 280.3 1548.5 281.0 1549.2 287.8 1550.0 293.4 1550.7 296.1 1551.4 296.4 1552.2 292.2 1552.9 293.3 1553.6 294.3 1554.4 289.2 1555.1 294.4 1555.8 295.6 1556.6 275.1 1557.3 294.9 1558.0 280.1 1558.8 296.4 1559.5 296.3 1560.2 292.3 1560.9 280.2 1561.7 295.9 1562.4 290.5 1563.1 276.4 1563.9 286.2 1564.6 283.1 1565.3 296.4 1566.1 292.9 1566.8 281.4 1567.5 286.6 1568.3 289.2 1569.0 259.8 1569.7 249.7 1570.5 261.9 1571.2 277.9 1571.9 296.1 1572.7 296.9 1573.4 273.6 1574.1 292.4 1574.9 279.5 1575.6 295.7 1576.3 287.4 1577.1 289.1 1577.8 280.8 1578.5 295.9 1579.3 274.6 1580.0 296.7 1580.7 294.8 1581.4 281.8 1582.2 298.3 1582.9 286.3 1583.6 279.9 1584.4 291.5 1585.1 294.3 1585.8 300.3 1586.6 298.6 1587.3 300.2 1588.0 298.2 1588.8 300.1 1589.5 299.5 1590.2 297.7 1591.0 296.7 1591.7 299.2 1592.4 299.9 1593.2 281.7 1593.9 274.0 1594.6 292.6 1595.4 291.4 1596.1 292.1 1596.8 292.5 1597.6 291.6 1598.3 292.2 1599.0 292.5 1599.8 292.3 1600.5 291.9 1601.2 290.1 1602.0 291.9 1602.7 291.3 1603.4 291.4 1604.1 292.4 1604.9 292.4 1605.6 292.3M1610.7 268.0 1611.5 271.3 1612.2 283.7 1612.9 275.9 1613.7 262.0 1614.4 291.7 1615.1 288.0 1615.9 262.9 1616.6 268.4 1617.3 264.3 1618.1 288.8 1618.8 290.8 1619.5 263.6 1620.3 285.5 1621.0 290.9 1621.7 286.5 1622.5 264.8 1623.2 289.3 1623.9 281.1 1624.6 289.1 1625.4 291.7 1626.1 290.6 1626.8 286.1 1627.6 296.2 1628.3 296.4 1629.0 279.7 1629.8 285.7 1630.5 296.4 1631.2 275.2 1632.0 272.9 1632.7 290.6 1633.4 294.2 1634.2 296.3 1634.9 286.1 1635.6 278.9 1636.4 287.0 1637.1 289.8 1637.8 296.2 1638.6 281.4 1639.3 280.7 1640.0 276.3 1640.8 295.5 1641.5 296.1 1642.2 287.5 1643.0 284.8 1643.7 296.3 1644.4 300.0 1645.2 285.5 1645.9 286.7 1646.6 297.8 1647.3 289.2 1648.1 293.9 1648.8 292.9 1649.5 298.7 1650.3 300.3 1651.0 293.1 1651.7 285.3 1652.5 297.1 1653.2 282.7 1653.9 297.8 1654.7 283.5 1655.4 298.9 1656.1 284.0 1656.9 291.1 1657.6 291.4 1658.3 300.3 1659.1 287.3 1659.8 298.1 1660.5 286.9 1661.3 282.9 1662.0 299.3 1662.7 294.1 1663.5 300.3 1664.2 282.3 1664.9 284.8 1665.7 299.9 1666.4 282.4 1667.1 292.1 1667.8 296.8 1668.6 299.9 1669.3 291.1 1670.0 298.8 1670.8 298.4 1671.5 291.0 1672.2 296.7 1673.0 294.8 1673.7 290.7 1674.4 293.0 1675.2 298.8 1675.9 295.6 1676.6 292.1 1677.4 294.6 1678.1 293.0 1678.8 300.3 1679.6 297.1 1680.3 299.9 1681.0 297.3 1681.8 295.0 1682.5 284.9 1683.2 296.8 1684.0 292.3 1684.7 300.2 1685.4 291.3 1686.2 285.5 1686.9 292.1 1687.6 290.8 1688.4 295.6 1689.1 283.1 1689.8 293.9 1690.5 293.6 1691.3 295.9 1692.0 300.2 1692.7 298.7 1693.5 299.9 1694.2 295.5 1694.9 285.0 1695.7 293.0 1696.4 295.0 1697.1 289.6 1697.9 298.2 1698.6 285.8 1699.3 299.8 1700.1 297.3 1700.8 298.8 1701.5 296.6 1702.3 296.7 1703.0 300.2 1703.7 300.2 1704.5 298.4 1705.2 300.3 1705.9 299.6 1706.7 287.2 1707.4 299.9 1708.1 299.9 1708.9 290.6 1709.6 291.8 1710.3 300.1 1711.0 299.7 1711.8 299.5 1712.5 299.5 1713.2 296.6 1714.0 291.6 1714.7 291.0 1715.4 299.8 1716.2 300.3 1716.9 288.2 1717.6 291.3 1718.4 298.0 1719.1 287.0 1719.8 287.1 1720.6 288.2 1721.3 294.0 1722.0 294.5 1722.8 298.8 1723.5 298.0 1724.2 293.9 1725.0 292.5 1725.7 286.1 1726.4 297.6 1727.2 291.2 1727.9 296.8 1728.6 298.4 1729.4 284.5 1730.1 295.2 1730.8 258.5 1731.6 250.2 1732.3 294.1 1733.0 296.4 1733.7 284.3 1734.5 286.2 1735.2 300.2 1735.9 298.3 1736.7 300.0 1737.4 287.7 1738.1 284.6 1738.9 298.0 1739.6 299.5 1740.3 294.7 1741.1 291.1 1741.8 297.7 1742.5 298.9 1743.3 299.9 1744.0 294.8 1744.7 300.3 1745.5 297.6 1746.2 297.9 1746.9 296.8 1747.7 299.3 1748.4 299.9 1749.1 290.8 1749.9 296.7 1750.6 300.2 1751.3 287.2 1752.1 296.6 1752.8 299.2 1753.5 286.6 1754.2 289.5 1755.0 290.4 1755.7 300.0 1756.4 300.3 1757.2 294.8 1757.9 299.4 1758.6 286.5 1759.4 300.0 1760.1 290.9 1760.8 294.0 1761.6 293.3 1762.3 284.8 1763.0 292.4 1763.8 288.5 1764.5 290.5 1765.2 295.0 1766.0 293.8 1766.7 296.0 1767.4 297.0 1768.2 292.8 1768.9 293.5 1769.6 285.6 1770.4 297.3 1771.1 285.3 1771.8 297.6 1772.6 290.1 1773.3 296.1 1774.0 299.8 1774.8 291.3 1775.5 300.2 1776.2 298.5 1776.9 298.1 1777.7 286.6 1778.4 293.3 1779.1 290.1 1779.9 287.6 1780.6 299.9 1781.3 300.2 1782.1 292.1 1782.8 286.4 1783.5 292.2 1784.3 299.3 1785.0 296.9 1785.7 299.5 1786.5 288.5 1787.2 298.6 1787.9 294.9 1788.7 298.4 1789.4 296.8 1790.1 300.3 1790.9 296.6 1791.6 297.6 1792.3 293.2 1793.1 295.2 1793.8 300.1 1794.5 288.9 1795.3 290.5 1796.0 291.5 1796.7 272.2 1797.4 285.6 1798.2 286.4 1798.9 288.7 1799.6 287.4 1800.4 270.6 1801.1 279.8 1801.8 281.6 1802.6 288.0 1803.3 273.3 1804.0 264.8 1804.8 296.9 1805.5 294.6 1806.2 297.1 1807.0 283.3 1807.7 281.3 1808.4 290.6 1809.2 291.4 1809.9 273.1 1810.6 284.0 1811.4 290.5 1812.1 285.2 1812.8 296.7 1813.6 293.3 1814.3 296.2 1815.0 271.4 1815.8 291.7 1816.5 266.9 1817.2 279.8 1817.9 243.9 1818.7 247.8 1819.4 219.4 1820.1 219.3 1820.9 217.7 1821.6 230.2 1822.3 224.7 1823.1 287.3 1823.8 291.8 1824.5 289.1 1825.3 292.6 1826.0 292.2 1826.7 280.2 1827.5 275.4 1828.2 286.0 1828.9 292.2 1829.7 275.9 1830.4 280.8 1831.1 290.6 1831.9 269.6 1832.6 263.7 1833.3 288.5 1834.1 286.8 1834.8 265.4 1835.5 218.2 1836.3 222.2 1837.0 262.4 1837.7 248.1 1838.5 271.1 1839.2 263.6 1839.9 258.9 1840.6 298.3 1841.4 298.0 1842.1 264.5 1842.8 255.6 1843.6 277.2 1844.3 269.1 1845.0 296.3 1845.8 269.3 1846.5 255.2 1847.2 298.3 1848.0 276.9 1848.7 289.6 1849.4 286.6 1850.2 293.5 1850.9 297.2 1851.6 266.2 1852.4 292.6 1853.1 261.8 1853.8 279.1 1854.6 287.9 1855.3 279.2 1856.0 253.0 1856.8 269.1 1857.5 291.8 1858.2 260.6 1859.0 291.4 1859.7 263.8 1860.4 291.3 1861.1 273.4 1861.9 228.1 1862.6 248.5 1863.3 248.8 1864.1 269.3 1864.8 296.3 1865.5 293.8 1866.3 254.4 1867.0 289.9 1867.7 277.7 1868.5 279.0 1869.2 279.1 1869.9 277.0 1870.7 259.5 1871.4 247.1 1872.1 237.1 1872.9 238.9 1873.6 259.3 1874.3 250.1 1875.1 239.3 1875.8 244.8 1876.5 214.9 1877.3 221.4 1878.0 255.7 1878.7 241.0 1879.5 235.5 1880.2 256.4 1880.9 242.6 1881.7 242.6 1882.4 242.7 1883.1 274.4 1883.8 285.9 1884.6 285.0 1885.3 282.8 1886.0 253.2 1886.8 285.8 1887.5 278.0 1888.2 284.3 1889.0 286.6 1889.7 285.7 1890.4 286.5 1891.2 274.9 1891.9 235.9 1892.6 255.7 1893.4 237.1 1894.1 253.3 1894.8 239.3 1895.6 268.4 1896.3 274.1 1897.0 288.0 1897.8 272.7 1898.5 272.3 1899.2 263.9 1900.0 253.7 1900.7 244.7 1901.4 292.6 1902.2 284.3 1902.9 277.4 1903.6 289.0 1904.3 260.7 1905.1 292.5 1905.8 275.7 1906.5 255.4 1907.3 269.6 1908.0 292.0 1908.7 235.5 1909.5 229.8 1910.2 273.4 1910.9 296.1 1911.7 274.3 1912.4 268.8 1913.1 296.4 1913.9 296.1 1914.6 290.6 1915.3 295.7 1916.1 266.1 1916.8 263.3 1917.5 281.2 1918.3 289.4 1919.0 272.5 1919.7 285.4 1920.5 292.1 1921.2 293.2 1921.9 296.1 1922.7 232.5 1923.4 247.0 1924.1 243.8 1924.9 280.2 1925.6 290.4 1926.3 276.3 1927.0 278.9 1927.8 281.1 1928.5 284.8 1929.2 290.8 1930.0 275.5 1930.7 291.6 1931.4 291.7 1932.2 292.2 1932.9 272.3 1933.6 289.3 1934.4 291.8 1935.1 270.6 1935.8 287.4 1936.6 289.6 1937.3 292.1 1938.0 290.4 1938.8 273.1 1939.5 274.4 1940.2 292.6 1941.0 287.5 1941.7 287.4 1942.4 285.4 1943.2 288.8 1943.9 289.7 1944.6 289.0 1945.4 288.8 1946.1 276.1 1946.8 270.0 1947.5 264.1 1948.3 263.3 1949.0 271.8 1949.7 290.3 1950.5 288.8 1951.2 276.0 1951.9 288.1 1952.7 276.9 1953.4 276.8 1954.1 296.4 1954.9 280.4 1955.6 279.3 1956.3 292.3 1957.1 279.2 1957.8 297.2 1958.5 291.2 1959.3 283.9 1960.0 273.2 1960.7 297.0 1961.5 274.3 1962.2 294.6 1962.9 294.1 1963.7 282.9 1964.4 292.8 1965.1 273.7 1965.9 298.2 1966.6 294.3 1967.3 294.0 1968.1 275.3 1968.8 294.4 1969.5 294.1 1970.2 273.3 1971.0 298.2 1971.7 281.2 1972.4 298.2 1973.2 285.5 1973.9 292.0 1974.6 290.8 1975.4 273.4 1976.1 290.2 1976.8 272.2 1977.6 297.4 1978.3 290.6 1979.0 289.4 1979.8 282.6 1980.5 287.5 1981.2 281.1 1982.0 289.8 1982.7 286.1 1983.4 277.1 1984.2 281.1 1984.9 272.4 1985.6 293.8 1986.4 285.9 1987.1 278.2 1987.8 292.1 1988.6 298.4 1989.3 281.0 1990.0 273.7 1990.7 288.4 1991.5 292.9 1992.2 297.3 1992.9 296.4 1993.7 296.5 1994.4 278.5 1995.1 291.0 1995.9 297.5 1996.6 292.8 1997.3 294.0 1998.1 297.5 1998.8 288.0 1999.5 275.8 2000.3 268.3 2001.0 261.1 2001.7 277.4 2002.5 274.8 2003.2 268.7 2003.9 274.4 2004.7 269.8 2005.4 273.3 2006.1 275.9 2006.9 270.9 2007.6 245.1 2008.3 250.8 2009.1 238.9 2009.8 280.1 2010.5 292.5 2011.3 291.4 2012.0 266.5 2012.7 286.5 2013.4 291.0 2014.2 257.9 2014.9 260.6 2015.6 278.5 2016.4 281.0 2017.1 284.7 2017.8 238.5 2018.6 213.9 2019.3 227.7 2020.0 207.3 2020.8 251.4 2021.5 237.0 2022.2 243.2 2023.0 257.2 2023.7 247.9 2024.4 247.0 2025.2 294.1 2025.9 283.4 2026.6 291.6 2027.4 295.8 2028.1 283.4 2028.8 270.5 2029.6 293.4 2030.3 277.5 2031.0 277.3 2031.8 292.2 2032.5 290.0 2033.2 294.7 2033.9 293.7 2034.7 281.8 2035.4 291.1 2036.1 270.9 2036.9 292.0 2037.6 274.0 2038.3 292.0 2039.1 287.8 2039.8 279.3 2040.5 294.8 2041.3 293.4 2042.0 288.4 2042.7 295.8 2043.5 284.6 2044.2 296.4 2044.9 296.4 2045.7 290.8 2046.4 296.4 2047.1 279.5 2047.9 278.7 2048.6 283.7 2049.3 293.9 2050.1 268.7 2050.8 293.7 2051.5 296.3 2052.3 292.0 2053.0 295.7 2053.7 285.5 2054.5 296.2 2055.2 283.7 2055.9 296.3 2056.6 295.1 2057.4 295.8 2058.1 288.8 2058.8 276.3 2059.6 265.6 2060.3 277.9 2061.0 287.8 2061.8 296.3 2062.5 252.1 2063.2 256.9 2064.0 255.2 2064.7 292.7 2065.4 271.3 2066.2 285.7 2066.9 271.6 2067.6 290.4 2068.4 296.3 2069.1 285.0 2069.8 293.0 2070.6 267.3 2071.3 271.8 2072.0 269.7 2072.8 274.2 2073.5 295.0 2074.2 280.7 2075.0 277.3 2075.7 264.3 2076.4 279.7 2077.1 294.9 2077.9 295.6 2078.6 296.2 2079.3 290.2 2080.1 292.3 2080.8 286.9 2081.5 288.4 2082.3 273.3 2083.0 293.2 2083.7 296.1 2084.5 272.1 2085.2 294.7 2085.9 295.6 2086.7 289.6 2087.4 285.8 2088.1 284.5 2088.9 284.7 2089.6 294.8 2090.3 296.4 2091.1 296.4 2091.8 280.5 2092.5 293.4 2093.3 291.3 2094.0 295.0 2094.7 291.3 2095.5 265.8 2096.2 296.1M2108.6 274.5 2109.4 273.8 2110.1 270.9 2110.8 273.2 2111.6 282.6 2112.3 275.2 2113.0 279.7M2126.2 266.6 2126.9 262.1 2127.7 269.8M2129.9 294.4 2130.6 273.7 2131.3 269.8 2132.1 285.3 2132.8 295.7 2133.5 284.9 2134.3 297.3 2135.0 292.7 2135.7 289.6 2136.5 295.7 2137.2 281.4 2137.9 276.9 2138.7 271.1 2139.4 267.9 2140.1 293.4 2140.8 297.5 2141.6 297.2 2142.3 294.1 2143.0 297.2 2143.8 283.7 2144.5 296.7 2145.2 297.9 2146.0 287.6 2146.7 296.4 2147.4 295.2 2148.2 288.7 2148.9 284.5 2149.6 269.3 2150.4 277.3 2151.1 294.9 2151.8 293.1 2152.6 293.9 2153.3 298.3 2154.0 296.1 2154.8 295.3 2155.5 285.6 2156.2 296.7 2157.0 292.8 2157.7 296.5 2158.4 292.4 2159.2 289.9 2159.9 273.0 2160.6 274.9 2161.4 283.1 2162.1 295.0 2162.8 295.6 2163.5 297.7 2164.3 298.0 2165.0 284.9 2165.7 280.3 2166.5 276.5" fill="none" stroke="#d6585a" stroke-width="2.8" stroke-linejoin="round"/>
<rect x="1223.7" y="201.7" width="944.8" height="105.7" fill="none" stroke="#222" stroke-width="1.5"/>
<line x1="1225.6" y1="307.4" x2="1225.6" y2="313.4" stroke="#333" stroke-width="1.5"/>
<line x1="1434.8" y1="307.4" x2="1434.8" y2="313.4" stroke="#333" stroke-width="1.5"/>
<line x1="1644.0" y1="307.4" x2="1644.0" y2="313.4" stroke="#333" stroke-width="1.5"/>
<line x1="1853.2" y1="307.4" x2="1853.2" y2="313.4" stroke="#333" stroke-width="1.5"/>
<line x1="2062.4" y1="307.4" x2="2062.4" y2="313.4" stroke="#333" stroke-width="1.5"/>
<line x1="1225.6" y1="371.0" x2="1225.6" y2="476.4" stroke="#ebebeb" stroke-width="1"/>
<line x1="1330.2" y1="371.0" x2="1330.2" y2="476.4" stroke="#ebebeb" stroke-width="1"/>
<line x1="1434.8" y1="371.0" x2="1434.8" y2="476.4" stroke="#ebebeb" stroke-width="1"/>
<line x1="1539.4" y1="371.0" x2="1539.4" y2="476.4" stroke="#ebebeb" stroke-width="1"/>
<line x1="1644.0" y1="371.0" x2="1644.0" y2="476.4" stroke="#ebebeb" stroke-width="1"/>
<line x1="1748.6" y1="371.0" x2="1748.6" y2="476.4" stroke="#ebebeb" stroke-width="1"/>
<line x1="1853.2" y1="371.0" x2="1853.2" y2="476.4" stroke="#ebebeb" stroke-width="1"/>
<line x1="1957.8" y1="371.0" x2="1957.8" y2="476.4" stroke="#ebebeb" stroke-width="1"/>
<line x1="2062.4" y1="371.0" x2="2062.4" y2="476.4" stroke="#ebebeb" stroke-width="1"/>
<line x1="2167.0" y1="371.0" x2="2167.0" y2="476.4" stroke="#ebebeb" stroke-width="1"/>
<line x1="1224.0" y1="471.1" x2="2168.5" y2="471.1" stroke="#f0f0f0" stroke-width="1"/>
<line x1="1224.0" y1="452.0" x2="2168.5" y2="452.0" stroke="#f0f0f0" stroke-width="1"/>
<line x1="1224.0" y1="432.8" x2="2168.5" y2="432.8" stroke="#f0f0f0" stroke-width="1"/>
<line x1="1224.0" y1="413.7" x2="2168.5" y2="413.7" stroke="#f0f0f0" stroke-width="1"/>
<line x1="1224.0" y1="394.5" x2="2168.5" y2="394.5" stroke="#f0f0f0" stroke-width="1"/>
<line x1="1224.0" y1="375.4" x2="2168.5" y2="375.4" stroke="#f0f0f0" stroke-width="1"/>
<text x="1233.6" y="360.0" font-size="28.5" textLength="436.0" lengthAdjust="spacingAndGlyphs">Hi-C-specific contacts per window</text>
<text x="2160.0" y="397.0" font-size="28.5" text-anchor="end">Hi-C preferred</text>
<line x1="1224" y1="439.0" x2="2168.5" y2="439.0" stroke="#555" stroke-width="2" stroke-dasharray="12 8"/>
<line x1="1216.4" y1="471.1" x2="1223.7" y2="471.1" stroke="#333" stroke-width="1.3"/>
<line x1="1216.4" y1="452.0" x2="1223.7" y2="452.0" stroke="#333" stroke-width="1.3"/>
<line x1="1216.4" y1="432.8" x2="1223.7" y2="432.8" stroke="#333" stroke-width="1.3"/>
<line x1="1216.4" y1="413.7" x2="1223.7" y2="413.7" stroke="#333" stroke-width="1.3"/>
<line x1="1216.4" y1="394.5" x2="1223.7" y2="394.5" stroke="#333" stroke-width="1.3"/>
<line x1="1216.4" y1="375.4" x2="1223.7" y2="375.4" stroke="#333" stroke-width="1.3"/>
<text x="1208.0" y="383.9" font-size="26.3" text-anchor="end">50</text>
<text x="1208.0" y="479.6" font-size="26.3" text-anchor="end">0</text>
<text x="1170.5" y="423.7" font-size="28.5" text-anchor="middle" transform="rotate(-90 1170.5 423.7)">Count</text>
<path d="M1225.6 466.4 1226.3 465.5 1227.1 441.6 1227.8 461.4 1228.5 467.0 1229.3 456.7 1230.0 438.6 1230.7 447.2 1231.5 452.6 1232.2 465.3 1232.9 445.2 1233.7 461.8 1234.4 466.6 1235.1 466.0 1235.9 455.4 1236.6 462.5 1237.3 456.5 1238.0 442.9 1238.8 436.3 1239.5 466.2 1240.2 463.2 1241.0 443.4 1241.7 461.9 1242.4 460.2 1243.2 453.4 1243.9 466.7 1244.6 452.6 1245.4 467.3 1246.1 450.4 1246.8 441.5 1247.6 456.8 1248.3 462.1 1249.0 445.9 1249.8 458.9 1250.5 440.2 1251.2 447.9 1252.0 465.9 1252.7 461.9 1253.4 457.6 1254.2 458.5 1254.9 463.7 1255.6 453.8 1256.4 466.9 1257.1 435.9 1257.8 419.8 1258.5 420.9 1259.3 435.5 1260.0 441.1 1260.7 465.6 1261.5 444.6 1262.2 447.9 1262.9 460.7 1263.7 463.3 1264.4 466.6 1265.1 467.2 1265.9 454.0 1266.6 464.7 1267.3 455.0 1268.1 462.8 1268.8 446.3 1269.5 463.2 1270.3 442.1 1271.0 463.7 1271.7 455.6 1272.5 465.5 1273.2 464.2 1273.9 437.5 1274.7 438.5 1275.4 443.5 1276.1 453.6 1276.9 448.3 1277.6 454.5 1278.3 454.3 1279.1 452.2 1279.8 451.8 1280.5 469.2 1281.2 468.9 1282.0 469.1 1282.7 453.3 1283.4 457.9 1284.2 460.7 1284.9 468.2 1285.6 468.3 1286.4 469.2 1287.1 464.4 1287.8 466.0 1288.6 456.4 1289.3 468.4 1290.0 469.0 1290.8 466.6 1291.5 466.7 1292.2 460.0 1293.0 457.1 1293.7 468.9 1294.4 468.4 1295.2 464.0 1295.9 469.2 1296.6 460.7 1297.4 468.8 1298.1 464.7 1298.8 463.4 1299.6 469.2 1300.3 468.9 1301.0 468.3 1301.7 457.1 1302.5 458.6 1303.2 458.6 1303.9 457.2 1304.7 453.7 1305.4 467.5 1306.1 468.7 1306.9 466.1 1307.6 468.9 1308.3 381.8 1309.1 408.2 1309.8 411.5 1310.5 408.2 1311.3 408.2 1312.0 410.0 1312.7 449.8 1313.5 439.5 1314.2 451.5 1314.9 431.4 1315.7 449.5 1316.4 454.2 1317.1 427.9 1317.9 442.4 1318.6 407.0 1319.3 446.1 1320.1 419.3 1320.8 454.6 1321.5 442.7 1322.3 411.1 1323.0 448.1 1323.7 433.2 1324.4 446.9 1325.2 454.8 1325.9 446.3 1326.6 442.8 1327.4 469.2 1328.1 469.1 1328.8 430.2 1329.6 458.7 1330.3 444.0 1331.0 441.7 1331.8 409.8 1332.5 441.3 1333.2 430.2 1334.0 468.7 1334.7 442.7 1335.4 455.1 1336.2 451.7 1336.9 427.2 1337.6 428.3 1338.4 450.8 1339.1 442.2 1339.8 463.4 1340.6 453.3 1341.3 447.3 1342.0 415.9 1342.8 408.9 1343.5 450.1 1344.2 418.0 1344.9 404.3 1345.7 453.7 1346.4 428.7 1347.1 435.7 1347.9 438.9 1348.6 448.9 1349.3 426.4 1350.1 443.5 1350.8 416.3 1351.5 452.8 1352.3 449.5 1353.0 459.5 1353.7 414.2 1354.5 459.5 1355.2 413.1 1355.9 451.2 1356.7 411.8 1357.4 459.2 1358.1 452.7 1358.9 429.0 1359.6 454.0 1360.3 429.2 1361.1 439.7 1361.8 429.6 1362.5 425.0 1363.3 447.3 1364.0 448.8 1364.7 442.5 1365.5 445.0 1366.2 458.7 1366.9 450.2 1367.6 459.5 1368.4 436.6 1369.1 414.8 1369.8 439.1 1370.6 446.9 1371.3 459.4 1372.0 401.6 1372.8 412.7 1373.5 442.4 1374.2 423.2 1375.0 451.0 1375.7 437.9 1376.4 412.9 1377.2 449.0 1377.9 453.9 1378.6 396.9 1379.4 439.8 1380.1 455.8 1380.8 442.4 1381.6 447.5 1382.3 410.0 1383.0 429.7 1383.8 413.0 1384.5 410.1 1385.2 425.3 1386.0 416.9 1386.7 384.3 1387.4 393.0 1388.1 450.9 1388.9 420.8 1389.6 441.3 1390.3 399.1 1391.1 454.0 1391.8 438.5 1392.5 414.3 1393.3 450.6 1394.0 432.0 1394.7 455.1 1395.5 385.1 1396.2 377.2 1396.9 434.5 1397.7 449.5 1398.4 447.7 1399.1 446.4 1399.9 426.4 1400.6 416.9 1401.3 446.1 1402.1 431.3 1402.8 415.2 1403.5 451.4 1404.3 402.5 1405.0 413.2 1405.7 418.5 1406.5 451.1 1407.2 448.8 1407.9 438.2 1408.6 425.7 1409.4 449.1 1410.1 427.6 1410.8 401.8 1411.6 412.9 1412.3 441.4 1413.0 440.8 1413.8 441.9 1414.5 446.5 1415.2 445.0 1416.0 432.1 1416.7 428.6 1417.4 430.8 1418.2 441.0 1418.9 426.7 1419.6 428.4 1420.4 459.3 1421.1 455.8 1421.8 423.1 1422.6 454.2 1423.3 461.1 1424.0 449.9 1424.8 469.2 1425.5 455.3 1426.2 468.5 1427.0 460.9 1427.7 467.6 1428.4 468.8 1429.2 468.2 1429.9 461.4 1430.6 466.4 1431.3 469.2 1432.1 463.3 1432.8 465.2 1433.5 460.1 1434.3 468.2 1435.0 457.0 1435.7 460.3 1436.5 465.6 1437.2 461.5 1437.9 455.7 1438.7 467.6 1439.4 452.0 1440.1 468.1 1440.9 463.6 1441.6 454.8 1442.3 463.1 1443.1 463.3 1443.8 467.2 1444.5 443.3 1445.3 459.4 1446.0 448.1 1446.7 438.3 1447.5 438.0 1448.2 441.1 1448.9 435.0 1449.7 461.5 1450.4 446.0 1451.1 416.3 1451.8 461.2 1452.6 448.0 1453.3 453.5 1454.0 445.9 1454.8 454.6 1455.5 454.2 1456.2 443.5 1457.0 457.6 1457.7 456.4 1458.4 452.4 1459.2 451.9 1459.9 404.2 1460.6 417.1 1461.4 422.2 1462.1 439.3 1462.8 453.6 1463.6 440.6 1464.3 465.3 1465.0 433.0 1465.8 447.6 1466.5 461.0 1467.2 449.4 1468.0 457.7 1468.7 428.9 1469.4 440.9 1470.2 441.3 1470.9 433.5 1471.6 438.4 1472.4 465.3 1473.1 429.9 1473.8 433.5 1474.5 438.7 1475.3 462.4 1476.0 437.9 1476.7 438.2 1477.5 445.7 1478.2 456.6 1478.9 444.9 1479.7 461.5 1480.4 456.6 1481.1 457.0 1481.9 457.4 1482.6 440.7 1483.3 462.3 1484.1 449.6 1484.8 442.2 1485.5 466.9 1486.3 456.5 1487.0 448.5 1487.7 464.8 1488.5 444.9 1489.2 467.0 1489.9 459.5 1490.7 457.3 1491.4 458.1 1492.1 455.6 1492.9 467.3 1493.6 459.2 1494.3 447.6M1495.8 467.9 1496.5 467.4 1497.2 468.3 1498.0 467.9 1498.7 467.5 1499.4 468.1 1500.2 467.6 1500.9 438.5 1501.6 443.3 1502.4 440.2 1503.1 441.9 1503.8 460.1 1504.6 465.9 1505.3 468.6 1506.0 462.2 1506.8 462.5 1507.5 456.1 1508.2 460.2 1509.0 468.8 1509.7 464.7 1510.4 465.8 1511.2 462.7 1511.9 468.9 1512.6 466.9 1513.4 464.5 1514.1 460.8 1514.8 462.5 1515.6 469.2 1516.3 465.7 1517.0 459.5 1517.7 457.1 1518.5 469.1 1519.2 467.6 1519.9 467.9 1520.7 456.7 1521.4 466.4 1522.1 465.7 1522.9 461.5 1523.6 463.1 1524.3 459.6 1525.1 469.0 1525.8 466.3 1526.5 461.7 1527.3 459.6 1528.0 453.9 1528.7 456.3 1529.5 468.6 1530.2 461.2 1530.9 466.1 1531.7 458.6 1532.4 460.1 1533.1 450.5 1533.9 456.5 1534.6 460.2 1535.3 462.0 1536.1 468.7 1536.8 461.5 1537.5 464.2 1538.2 452.4 1539.0 465.9 1539.7 467.7 1540.4 462.8 1541.2 466.1 1541.9 457.7 1542.6 469.0 1543.4 456.9 1544.1 465.3 1544.8 469.0 1545.6 461.0 1546.3 466.8 1547.0 465.3 1547.8 454.0 1548.5 468.1 1549.2 468.7 1550.0 467.3 1550.7 467.5 1551.4 458.0 1552.2 464.6 1552.9 468.7 1553.6 450.2 1554.4 467.8 1555.1 455.9 1555.8 459.3 1556.6 465.9 1557.3 469.1 1558.0 468.9 1558.8 468.0 1559.5 467.3 1560.2 469.1 1560.9 465.8 1561.7 464.9 1562.4 462.8 1563.1 463.2 1563.9 462.0 1564.6 465.5 1565.3 462.8 1566.1 457.2 1566.8 468.7 1567.5 461.3 1568.3 429.5 1569.0 441.7 1569.7 448.6 1570.5 467.5 1571.2 459.9 1571.9 460.6 1572.7 458.9 1573.4 443.3 1574.1 469.2 1574.9 468.2 1575.6 469.1 1576.3 466.0 1577.1 467.4 1577.8 468.4 1578.5 445.7 1579.3 468.8 1580.0 442.9 1580.7 461.1 1581.4 467.6 1582.2 463.8 1582.9 447.8 1583.6 469.1 1584.4 448.4 1585.1 463.6 1585.8 462.4 1586.6 447.5 1587.3 465.9 1588.0 449.8 1588.8 466.2 1589.5 445.1 1590.2 468.7 1591.0 466.2 1591.7 453.1 1592.4 458.2 1593.2 466.8 1593.9 466.6 1594.6 463.2 1595.4 460.2 1596.1 467.7 1596.8 456.1 1597.6 454.1 1598.3 447.7 1599.0 440.6 1599.8 444.4 1600.5 431.0 1601.2 454.8 1602.0 468.9 1602.7 458.0 1603.4 444.8 1604.1 458.4 1604.9 444.7 1605.6 453.0 1606.3 452.5 1607.1 461.1 1607.8 460.9 1608.5 451.0 1609.3 466.3 1610.0 454.2 1610.7 460.1 1611.5 440.7 1612.2 463.4 1612.9 449.7 1613.7 467.2 1614.4 442.8 1615.1 455.2 1615.9 447.8 1616.6 465.8 1617.3 462.4 1618.1 452.2 1618.8 449.2 1619.5 447.8 1620.3 438.6 1621.0 459.3 1621.7 466.8 1622.5 466.2 1623.2 460.7 1623.9 460.2 1624.6 462.5 1625.4 442.5 1626.1 463.1 1626.8 458.3 1627.6 466.4 1628.3 445.6 1629.0 442.0 1629.8 411.3 1630.5 461.4 1631.2 418.0 1632.0 421.2 1632.7 428.3 1633.4 432.5 1634.2 456.1 1634.9 456.1 1635.6 413.0 1636.4 454.5 1637.1 426.3 1637.8 426.3 1638.6 415.2 1639.3 456.6 1640.0 439.7 1640.8 461.0 1641.5 433.8 1642.2 432.3 1643.0 445.6 1643.7 450.3 1644.4 458.4 1645.2 453.7 1645.9 438.8 1646.6 429.1 1647.3 453.2 1648.1 458.7 1648.8 459.8 1649.5 461.1 1650.3 461.3 1651.0 448.7 1651.7 421.3 1652.5 434.1 1653.2 458.1 1653.9 432.1 1654.7 428.7 1655.4 442.8 1656.1 461.5 1656.9 421.1 1657.6 460.6 1658.3 459.4 1659.1 436.7 1659.8 420.4 1660.5 447.3 1661.3 455.8 1662.0 431.1 1662.7 461.1 1663.5 461.5 1664.2 442.5 1664.9 411.9 1665.7 419.4 1666.4 418.9 1667.1 405.4 1667.8 415.8 1668.6 426.8 1669.3 450.8 1670.0 464.3 1670.8 422.7 1671.5 412.4 1672.2 465.0 1673.0 435.9 1673.7 443.2 1674.4 431.0 1675.2 450.3 1675.9 455.0 1676.6 434.0 1677.4 445.0 1678.1 442.5 1678.8 424.8 1679.6 409.4 1680.3 393.5 1681.0 399.8 1681.8 454.7 1682.5 426.4 1683.2 428.1 1684.0 442.9 1684.7 456.1 1685.4 409.0 1686.2 410.3 1686.9 427.4 1687.6 463.6 1688.4 421.1 1689.1 447.1 1689.8 429.7 1690.5 436.6 1691.3 465.2 1692.0 430.8 1692.7 457.7 1693.5 411.9 1694.2 460.9 1694.9 441.4 1695.7 426.0 1696.4 442.4 1697.1 464.2 1697.9 443.9 1698.6 441.2 1699.3 418.5 1700.1 439.9 1700.8 430.1 1701.5 432.2 1702.3 424.7 1703.0 435.9 1703.7 458.0 1704.5 463.1 1705.2 428.6 1705.9 443.2 1706.7 461.7 1707.4 460.5 1708.1 460.5 1708.9 461.6 1709.6 427.5 1710.3 420.3 1711.0 442.3 1711.8 437.7 1712.5 415.5 1713.2 413.4 1714.0 417.4 1714.7 419.7 1715.4 463.4 1716.2 439.1 1716.9 461.7 1717.6 425.0 1718.4 463.4 1719.1 459.8 1719.8 457.7 1720.6 420.2 1721.3 448.8 1722.0 410.0 1722.8 401.7 1723.5 447.8 1724.2 434.1 1725.0 459.0 1725.7 459.7 1726.4 420.6 1727.2 426.4 1727.9 412.2 1728.6 431.0 1729.4 463.5 1730.1 408.1 1730.8 432.8 1731.6 443.0 1732.3 416.4 1733.0 439.2 1733.7 447.3 1734.5 408.7 1735.2 416.5 1735.9 465.2 1736.7 436.9 1737.4 442.6 1738.1 436.1 1738.9 457.9 1739.6 462.8 1740.3 445.6 1741.1 459.3 1741.8 422.0 1742.5 440.1 1743.3 462.9 1744.0 462.8 1744.7 446.4 1745.5 462.3 1746.2 463.4 1746.9 463.4 1747.7 448.1 1748.4 463.4 1749.1 437.7 1749.9 443.1 1750.6 435.2 1751.3 461.7 1752.1 451.0 1752.8 460.7 1753.5 458.9 1754.2 414.4 1755.0 421.8 1755.7 433.5 1756.4 460.0 1757.2 458.2 1757.9 462.4 1758.6 458.9 1759.4 449.9 1760.1 452.6 1760.8 462.5 1761.6 459.4 1762.3 439.9 1763.0 445.1 1763.8 402.4 1764.5 417.9 1765.2 411.6 1766.0 454.7 1766.7 446.8 1767.4 452.8 1768.2 430.5 1768.9 409.6 1769.6 451.6 1770.4 410.0 1771.1 463.3 1771.8 452.8 1772.6 463.3 1773.3 463.6 1774.0 462.4 1774.8 457.2 1775.5 440.7 1776.2 465.3 1776.9 465.2 1777.7 462.7 1778.4 425.7 1779.1 442.8 1779.9 462.7 1780.6 434.6 1781.3 465.2 1782.1 411.4 1782.8 457.3 1783.5 465.3 1784.3 442.4 1785.0 414.4 1785.7 440.0 1786.5 465.2 1787.2 419.6 1787.9 457.2 1788.7 463.5 1789.4 464.1 1790.1 464.2 1790.9 444.9 1791.6 432.0 1792.3 435.3 1793.1 450.5 1793.8 447.0 1794.5 440.6 1795.3 461.1 1796.0 424.3 1796.7 416.5 1797.4 447.4 1798.2 409.7 1798.9 447.3 1799.6 434.9 1800.4 454.5 1801.1 445.9 1801.8 460.0 1802.6 455.0 1803.3 432.9 1804.0 443.2 1804.8 443.9 1805.5 449.4 1806.2 437.2 1807.0 425.2 1807.7 463.7 1808.4 441.5 1809.2 458.5 1809.9 453.5 1810.6 441.2 1811.4 453.5 1812.1 468.3 1812.8 466.2 1813.6 468.7 1814.3 468.2 1815.0 463.5 1815.8 467.1 1816.5 465.6 1817.2 468.6 1817.9 467.9 1818.7 468.2 1819.4 468.6 1820.1 465.9 1820.9 462.5 1821.6 464.2 1822.3 468.6 1823.1 463.8 1823.8 468.2 1824.5 465.5 1825.3 463.8 1826.0 469.1 1826.7 468.9 1827.5 465.7 1828.2 464.4 1828.9 463.4 1829.7 466.8 1830.4 465.5 1831.1 466.7 1831.9 468.0 1832.6 469.1 1833.3 466.0 1834.1 469.1 1834.8 467.9 1835.5 468.7 1836.3 469.0 1837.0 467.7 1837.7 464.8 1838.5 460.1 1839.2 464.3 1839.9 461.0 1840.6 462.1 1841.4 463.4 1842.1 450.7 1842.8 455.7 1843.6 454.5 1844.3 452.5 1845.0 454.8 1845.8 467.1 1846.5 453.7 1847.2 456.9 1848.0 457.5 1848.7 461.0 1849.4 441.2 1850.2 441.4 1850.9 444.1 1851.6 469.1 1852.4 457.3 1853.1 459.2 1853.8 469.0 1854.6 466.4 1855.3 469.0 1856.0 467.5 1856.8 465.5 1857.5 457.5 1858.2 467.7 1859.0 454.9 1859.7 454.5 1860.4 467.6 1861.1 460.3M1864.1 467.5 1864.8 467.5 1865.5 467.7 1866.3 467.8 1867.0 468.0 1867.7 467.4M1869.9 469.1 1870.7 468.7 1871.4 468.9 1872.1 469.0 1872.9 468.9 1873.6 468.9 1874.3 468.6 1875.1 469.1 1875.8 468.8 1876.5 467.6 1877.3 461.1 1878.0 458.6 1878.7 454.7 1879.5 464.7 1880.2 449.2 1880.9 464.4 1881.7 465.4 1882.4 459.8 1883.1 451.6 1883.8 465.6 1884.6 465.6 1885.3 466.2 1886.0 467.2M1889.0 465.7 1889.7 466.5 1890.4 467.1 1891.2 466.5 1891.9 466.0 1892.6 467.1 1893.4 458.3 1894.1 454.8 1894.8 456.8 1895.6 456.5 1896.3 469.2 1897.0 467.9 1897.8 467.9 1898.5 469.1 1899.2 463.7 1900.0 464.0 1900.7 468.8 1901.4 462.2 1902.2 462.2 1902.9 468.8 1903.6 462.6 1904.3 469.1 1905.1 468.5 1905.8 469.1 1906.5 466.7 1907.3 466.0 1908.0 467.2 1908.7 467.2 1909.5 468.2 1910.2 468.9 1910.9 465.4 1911.7 469.1 1912.4 468.6 1913.1 466.0 1913.9 462.8 1914.6 467.3 1915.3 466.0 1916.1 462.8 1916.8 468.6 1917.5 457.4 1918.3 462.0 1919.0 463.9 1919.7 465.3 1920.5 464.0 1921.2 463.5 1921.9 469.1 1922.7 465.6 1923.4 468.2 1924.1 468.9 1924.9 468.0 1925.6 469.1 1926.3 458.5 1927.0 464.2 1927.8 461.0 1928.5 457.4 1929.2 469.2 1930.0 461.1 1930.7 467.3 1931.4 463.8 1932.2 459.4 1932.9 464.3 1933.6 468.8 1934.4 466.8 1935.1 459.5 1935.8 464.3 1936.6 468.5 1937.3 462.8 1938.0 465.0 1938.8 462.2 1939.5 468.6 1940.2 461.8 1941.0 465.2 1941.7 468.6 1942.4 459.9 1943.2 457.7 1943.9 466.4 1944.6 466.6 1945.4 460.6 1946.1 465.8 1946.8 465.5 1947.5 464.0 1948.3 460.7 1949.0 467.8 1949.7 465.1 1950.5 450.9 1951.2 465.2 1951.9 457.0 1952.7 452.5 1953.4 460.8 1954.1 444.9 1954.9 456.7 1955.6 451.3 1956.3 463.2 1957.1 448.6 1957.8 460.1 1958.5 446.5 1959.3 465.2 1960.0 445.4 1960.7 451.0 1961.5 457.7 1962.2 451.9 1962.9 449.7 1963.7 462.7 1964.4 449.1 1965.1 459.5 1965.9 448.2 1966.6 457.3 1967.3 459.6 1968.1 464.3 1968.8 463.0 1969.5 461.5 1970.2 462.6 1971.0 459.3 1971.7 464.9 1972.4 452.4 1973.2 464.0 1973.9 449.7 1974.6 462.7 1975.4 463.8 1976.1 468.7 1976.8 447.8 1977.6 466.6 1978.3 467.0 1979.0 455.6 1979.8 457.0 1980.5 451.5 1981.2 468.8 1982.0 465.5 1982.7 456.8 1983.4 450.0 1984.2 465.3 1984.9 443.0 1985.6 458.6 1986.4 451.4 1987.1 449.9 1987.8 455.4 1988.6 443.2 1989.3 468.9 1990.0 450.3 1990.7 445.1 1991.5 462.4 1992.2 452.1 1992.9 468.4 1993.7 465.2 1994.4 468.7 1995.1 467.6 1995.9 469.2 1996.6 466.1 1997.3 465.8 1998.1 466.9 1998.8 468.5 1999.5 468.8 2000.3 468.7 2001.0 468.7 2001.7 467.8 2002.5 468.8 2003.2 464.5 2003.9 467.1 2004.7 468.6 2005.4 467.7 2006.1 464.2 2006.9 469.1 2007.6 469.2 2008.3 469.1 2009.1 466.0 2009.8 466.7 2010.5 467.5 2011.3 469.2 2012.0 465.3 2012.7 465.8 2013.4 465.4 2014.2 469.2 2014.9 468.5M2029.6 462.0 2030.3 463.9 2031.0 462.2 2031.8 461.6 2032.5 462.0M2036.9 467.7 2037.6 463.5 2038.3 462.7 2039.1 459.3 2039.8 464.8 2040.5 467.2 2041.3 458.1 2042.0 464.1 2042.7 469.0 2043.5 457.6 2044.2 462.8 2044.9 462.6 2045.7 462.6 2046.4 454.3 2047.1 467.2 2047.9 454.3 2048.6 466.0 2049.3 469.1 2050.1 463.0 2050.8 469.1 2051.5 450.7 2052.3 452.7 2053.0 469.1 2053.7 456.5 2054.5 452.7 2055.2 468.9 2055.9 461.5 2056.6 453.2 2057.4 469.1 2058.1 469.2 2058.8 461.3 2059.6 461.7 2060.3 462.3 2061.0 468.8 2061.8 460.0 2062.5 467.5 2063.2 468.3 2064.0 465.6 2064.7 469.0 2065.4 467.5 2066.2 460.8 2066.9 458.2 2067.6 464.7 2068.4 467.2 2069.1 461.2 2069.8 468.0 2070.6 469.1 2071.3 458.8 2072.0 466.7 2072.8 466.1 2073.5 458.0 2074.2 457.1 2075.0 465.4 2075.7 463.6 2076.4 458.9 2077.1 464.6 2077.9 460.0 2078.6 464.7 2079.3 468.4 2080.1 460.6 2080.8 466.6 2081.5 469.1 2082.3 461.9 2083.0 454.5 2083.7 459.5 2084.5 453.6 2085.2 461.9 2085.9 469.0 2086.7 452.1 2087.4 459.3 2088.1 462.1 2088.9 462.6 2089.6 456.3 2090.3 469.2 2091.1 468.3 2091.8 466.6 2092.5 468.1 2093.3 458.2 2094.0 461.0 2094.7 465.3 2095.5 468.8 2096.2 455.2 2096.9 469.1 2097.7 458.6M2108.6 444.4 2109.4 444.3 2110.1 446.3 2110.8 443.0 2111.6 450.3 2112.3 441.9 2113.0 444.1M2126.2 461.0 2126.9 460.1 2127.7 459.9M2130.6 455.9 2131.3 456.7 2132.1 461.3 2132.8 460.0 2133.5 445.7 2134.3 460.4 2135.0 437.2 2135.7 456.5 2136.5 435.8 2137.2 453.3 2137.9 456.8 2138.7 458.5 2139.4 460.1 2140.1 458.5 2140.8 460.2 2141.6 461.3 2142.3 465.7 2143.0 464.8 2143.8 468.2 2144.5 468.2 2145.2 468.8 2146.0 469.1 2146.7 461.6 2147.4 465.9 2148.2 465.7 2148.9 461.9 2149.6 465.1 2150.4 468.9 2151.1 468.3 2151.8 468.8 2152.6 462.5 2153.3 469.0 2154.0 465.4 2154.8 468.2 2155.5 465.6 2156.2 468.2 2157.0 463.7 2157.7 462.1 2158.4 468.5 2159.2 468.8 2159.9 469.1 2160.6 463.0" fill="none" stroke="#6b8fba" stroke-width="2.8" stroke-linejoin="round"/>
<rect x="1223.7" y="371.0" width="944.8" height="105.4" fill="none" stroke="#222" stroke-width="1.5"/>
<line x1="1225.6" y1="476.4" x2="1225.6" y2="482.4" stroke="#333" stroke-width="1.5"/>
<line x1="1434.8" y1="476.4" x2="1434.8" y2="482.4" stroke="#333" stroke-width="1.5"/>
<line x1="1644.0" y1="476.4" x2="1644.0" y2="482.4" stroke="#333" stroke-width="1.5"/>
<line x1="1853.2" y1="476.4" x2="1853.2" y2="482.4" stroke="#333" stroke-width="1.5"/>
<line x1="2062.4" y1="476.4" x2="2062.4" y2="482.4" stroke="#333" stroke-width="1.5"/>
<text x="1221.9" y="519.9" font-size="28.5">GAM- or Hi-C-preferred regions</text>
<rect x="1227.1" y="533.6" width="1.7" height="24.9" fill="#b3c6df"/>
<rect x="1243.9" y="533.6" width="1.3" height="24.9" fill="#7193bf"/>
<rect x="1257.0" y="533.6" width="1.8" height="24.9" fill="#4671a5"/>
<rect x="1272.6" y="533.6" width="1.2" height="24.9" fill="#7193bf"/>
<rect x="1282.4" y="533.6" width="1.5" height="24.9" fill="#dd6a6c"/>
<rect x="1288.9" y="533.6" width="2.1" height="24.9" fill="#eeaeae"/>
<rect x="1308.9" y="533.6" width="1.2" height="24.9" fill="#4671a5"/>
<rect x="1310.6" y="533.6" width="1.0" height="24.9" fill="#b3c6df"/>
<rect x="1312.1" y="533.6" width="1.0" height="24.9" fill="#7193bf"/>
<rect x="1314.1" y="533.6" width="1.0" height="24.9" fill="#4671a5"/>
<rect x="1315.9" y="533.6" width="1.0" height="24.9" fill="#7193bf"/>
<rect x="1318.6" y="533.6" width="1.0" height="24.9" fill="#7193bf"/>
<rect x="1321.1" y="533.6" width="1.8" height="24.9" fill="#4671a5"/>
<rect x="1331.2" y="533.6" width="1.0" height="24.9" fill="#7193bf"/>
<rect x="1335.0" y="533.6" width="1.4" height="24.9" fill="#b3c6df"/>
<rect x="1340.4" y="533.6" width="2.3" height="24.9" fill="#4671a5"/>
<rect x="1346.3" y="533.6" width="1.5" height="24.9" fill="#4671a5"/>
<rect x="1348.3" y="533.6" width="1.5" height="24.9" fill="#7193bf"/>
<rect x="1350.3" y="533.6" width="2.0" height="24.9" fill="#4671a5"/>
<rect x="1355.8" y="533.6" width="2.0" height="24.9" fill="#4671a5"/>
<rect x="1360.2" y="533.6" width="4.2" height="24.9" fill="#4671a5"/>
<rect x="1365.2" y="533.6" width="3.7" height="24.9" fill="#4671a5"/>
<rect x="1371.6" y="533.6" width="1.0" height="24.9" fill="#4671a5"/>
<rect x="1373.4" y="533.6" width="1.5" height="24.9" fill="#b3c6df"/>
<rect x="1375.3" y="533.6" width="4.7" height="24.9" fill="#4671a5"/>
<rect x="1381.7" y="533.6" width="1.3" height="24.9" fill="#b3c6df"/>
<rect x="1383.0" y="533.6" width="6.0" height="24.9" fill="#4671a5"/>
<rect x="1391.0" y="533.6" width="3.5" height="24.9" fill="#4671a5"/>
<rect x="1396.1" y="533.6" width="1.0" height="24.9" fill="#b3c6df"/>
<rect x="1400.1" y="533.6" width="1.7" height="24.9" fill="#b3c6df"/>
<rect x="1401.8" y="533.6" width="1.8" height="24.9" fill="#7193bf"/>
<rect x="1405.1" y="533.6" width="4.5" height="24.9" fill="#4671a5"/>
<rect x="1410.7" y="533.6" width="1.0" height="24.9" fill="#b3c6df"/>
<rect x="1412.2" y="533.6" width="2.0" height="24.9" fill="#4671a5"/>
<rect x="1415.7" y="533.6" width="1.0" height="24.9" fill="#7193bf"/>
<rect x="1421.9" y="533.6" width="1.0" height="24.9" fill="#7193bf"/>
<rect x="1425.3" y="533.6" width="1.0" height="24.9" fill="#4671a5"/>
<rect x="1444.4" y="533.6" width="1.0" height="24.9" fill="#7193bf"/>
<rect x="1449.9" y="533.6" width="2.2" height="24.9" fill="#7193bf"/>
<rect x="1452.1" y="533.6" width="2.3" height="24.9" fill="#b3c6df"/>
<rect x="1457.9" y="533.6" width="1.5" height="24.9" fill="#b3c6df"/>
<rect x="1461.0" y="533.6" width="1.5" height="24.9" fill="#4671a5"/>
<rect x="1465.0" y="533.6" width="1.0" height="24.9" fill="#7193bf"/>
<rect x="1474.0" y="533.6" width="1.0" height="24.9" fill="#7193bf"/>
<rect x="1481.1" y="533.6" width="1.0" height="24.9" fill="#4671a5"/>
<rect x="1493.3" y="533.6" width="4.5" height="24.9" fill="#cc3436"/>
<rect x="1498.9" y="533.6" width="1.1" height="24.9" fill="#dd6a6c"/>
<rect x="1511.0" y="533.6" width="1.2" height="24.9" fill="#dd6a6c"/>
<rect x="1517.0" y="533.6" width="1.1" height="24.9" fill="#cc3436"/>
<rect x="1522.0" y="533.6" width="1.2" height="24.9" fill="#cc3436"/>
<rect x="1527.9" y="533.6" width="1.0" height="24.9" fill="#cc3436"/>
<rect x="1531.9" y="533.6" width="1.3" height="24.9" fill="#cc3436"/>
<rect x="1536.0" y="533.6" width="2.0" height="24.9" fill="#dd6a6c"/>
<rect x="1567.1" y="533.6" width="1.2" height="24.9" fill="#7193bf"/>
<rect x="1568.8" y="533.6" width="1.2" height="24.9" fill="#cc3436"/>
<rect x="1595.7" y="533.6" width="1.3" height="24.9" fill="#7193bf"/>
<rect x="1606.2" y="533.6" width="1.6" height="24.9" fill="#7193bf"/>
<rect x="1612.9" y="533.6" width="1.2" height="24.9" fill="#eeaeae"/>
<rect x="1624.9" y="533.6" width="1.0" height="24.9" fill="#cc3436"/>
<rect x="1632.0" y="533.6" width="1.2" height="24.9" fill="#7193bf"/>
<rect x="1638.2" y="533.6" width="1.8" height="24.9" fill="#b3c6df"/>
<rect x="1640.0" y="533.6" width="3.7" height="24.9" fill="#4671a5"/>
<rect x="1646.1" y="533.6" width="1.2" height="24.9" fill="#4671a5"/>
<rect x="1647.5" y="533.6" width="1.3" height="24.9" fill="#7193bf"/>
<rect x="1651.1" y="533.6" width="1.2" height="24.9" fill="#4671a5"/>
<rect x="1652.5" y="533.6" width="1.3" height="24.9" fill="#7193bf"/>
<rect x="1657.1" y="533.6" width="1.4" height="24.9" fill="#7193bf"/>
<rect x="1660.2" y="533.6" width="1.0" height="24.9" fill="#7193bf"/>
<rect x="1665.2" y="533.6" width="1.7" height="24.9" fill="#4671a5"/>
<rect x="1672.6" y="533.6" width="1.3" height="24.9" fill="#7193bf"/>
<rect x="1674.9" y="533.6" width="1.5" height="24.9" fill="#4671a5"/>
<rect x="1677.0" y="533.6" width="1.0" height="24.9" fill="#4671a5"/>
<rect x="1679.0" y="533.6" width="1.3" height="24.9" fill="#4671a5"/>
<rect x="1682.7" y="533.6" width="1.0" height="24.9" fill="#7193bf"/>
<rect x="1684.5" y="533.6" width="1.0" height="24.9" fill="#7193bf"/>
<rect x="1686.5" y="533.6" width="2.0" height="24.9" fill="#4671a5"/>
<rect x="1691.0" y="533.6" width="1.0" height="24.9" fill="#4671a5"/>
<rect x="1695.1" y="533.6" width="1.5" height="24.9" fill="#b3c6df"/>
<rect x="1697.6" y="533.6" width="1.2" height="24.9" fill="#7193bf"/>
<rect x="1704.1" y="533.6" width="1.5" height="24.9" fill="#b3c6df"/>
<rect x="1709.2" y="533.6" width="4.5" height="24.9" fill="#4671a5"/>
<rect x="1714.2" y="533.6" width="1.3" height="24.9" fill="#b3c6df"/>
<rect x="1717.9" y="533.6" width="6.0" height="24.9" fill="#4671a5"/>
<rect x="1725.8" y="533.6" width="1.2" height="24.9" fill="#4671a5"/>
<rect x="1730.3" y="533.6" width="1.3" height="24.9" fill="#eeaeae"/>
<rect x="1732.3" y="533.6" width="1.3" height="24.9" fill="#7193bf"/>
<rect x="1733.8" y="533.6" width="1.0" height="24.9" fill="#7193bf"/>
<rect x="1737.0" y="533.6" width="2.8" height="24.9" fill="#4671a5"/>
<rect x="1746.4" y="533.6" width="1.5" height="24.9" fill="#4671a5"/>
<rect x="1750.9" y="533.6" width="1.5" height="24.9" fill="#7193bf"/>
<rect x="1755.1" y="533.6" width="1.6" height="24.9" fill="#b3c6df"/>
<rect x="1759.8" y="533.6" width="2.4" height="24.9" fill="#4671a5"/>
<rect x="1762.5" y="533.6" width="2.5" height="24.9" fill="#4671a5"/>
<rect x="1781.1" y="533.6" width="1.2" height="24.9" fill="#7193bf"/>
<rect x="1788.9" y="533.6" width="1.0" height="24.9" fill="#7193bf"/>
<rect x="1790.6" y="533.6" width="1.0" height="24.9" fill="#7193bf"/>
<rect x="1805.8" y="533.6" width="3.2" height="24.9" fill="#4671a5"/>
<rect x="1818.1" y="533.6" width="2.5" height="24.9" fill="#eeaeae"/>
<rect x="1820.9" y="533.6" width="2.0" height="24.9" fill="#cc3436"/>
<rect x="1833.2" y="533.6" width="1.5" height="24.9" fill="#dd6a6c"/>
<rect x="1834.7" y="533.6" width="2.3" height="24.9" fill="#cc3436"/>
<rect x="1839.0" y="533.6" width="2.0" height="24.9" fill="#cc3436"/>
<rect x="1849.1" y="533.6" width="1.0" height="24.9" fill="#b3c6df"/>
<rect x="1853.8" y="533.6" width="1.5" height="24.9" fill="#eeaeae"/>
<rect x="1856.8" y="533.6" width="2.0" height="24.9" fill="#cc3436"/>
<rect x="1860.2" y="533.6" width="2.2" height="24.9" fill="#dd6a6c"/>
<rect x="1862.4" y="533.6" width="4.0" height="24.9" fill="#eeaeae"/>
<rect x="1867.9" y="533.6" width="4.0" height="24.9" fill="#dd6a6c"/>
<rect x="1871.9" y="533.6" width="1.5" height="24.9" fill="#eeaeae"/>
<rect x="1873.4" y="533.6" width="3.5" height="24.9" fill="#cc3436"/>
<rect x="1882.7" y="533.6" width="2.8" height="24.9" fill="#cc3436"/>
<rect x="1886.7" y="533.6" width="1.3" height="24.9" fill="#cc3436"/>
<rect x="1894.1" y="533.6" width="2.0" height="24.9" fill="#eeaeae"/>
<rect x="1898.8" y="533.6" width="1.3" height="24.9" fill="#dd6a6c"/>
<rect x="1905.1" y="533.6" width="3.0" height="24.9" fill="#eeaeae"/>
<rect x="1908.1" y="533.6" width="2.5" height="24.9" fill="#cc3436"/>
<rect x="1911.9" y="533.6" width="2.0" height="24.9" fill="#cc3436"/>
<rect x="1921.9" y="533.6" width="2.0" height="24.9" fill="#cc3436"/>
<rect x="1941.0" y="533.6" width="1.8" height="24.9" fill="#dd6a6c"/>
<rect x="1946.1" y="533.6" width="2.8" height="24.9" fill="#cc3436"/>
<rect x="1998.7" y="533.6" width="1.3" height="24.9" fill="#eeaeae"/>
<rect x="1999.5" y="533.6" width="1.5" height="24.9" fill="#cc3436"/>
<rect x="2007.2" y="533.6" width="2.0" height="24.9" fill="#cc3436"/>
<rect x="2013.1" y="533.6" width="1.4" height="24.9" fill="#eeaeae"/>
<rect x="2016.1" y="533.6" width="8.2" height="24.9" fill="#cc3436"/>
<rect x="2033.3" y="533.6" width="1.8" height="24.9" fill="#cc3436"/>
<rect x="2035.7" y="533.6" width="1.4" height="24.9" fill="#cc3436"/>
<rect x="2043.0" y="533.6" width="1.8" height="24.9" fill="#eeaeae"/>
<rect x="2046.6" y="533.6" width="1.4" height="24.9" fill="#dd6a6c"/>
<rect x="2054.1" y="533.6" width="1.3" height="24.9" fill="#dd6a6c"/>
<rect x="2056.8" y="533.6" width="1.1" height="24.9" fill="#eeaeae"/>
<rect x="2061.7" y="533.6" width="1.3" height="24.9" fill="#cc3436"/>
<rect x="2064.1" y="533.6" width="1.8" height="24.9" fill="#dd6a6c"/>
<rect x="2078.9" y="533.6" width="1.6" height="24.9" fill="#dd6a6c"/>
<rect x="2093.3" y="533.6" width="1.8" height="24.9" fill="#dd6a6c"/>
<rect x="2133.6" y="533.6" width="1.4" height="24.9" fill="#7193bf"/>
<rect x="2138.6" y="533.6" width="1.4" height="24.9" fill="#7193bf"/>
<rect x="2144.0" y="533.6" width="1.0" height="24.9" fill="#cc3436"/>
<rect x="2164.1" y="533.6" width="1.0" height="24.9" fill="#cc3436"/>
<rect x="1221.9" y="532.3" width="946.6" height="27" fill="none" stroke="#333" stroke-width="1.5"/>
<line x1="1521.2" y1="126.8" x2="1521.2" y2="559.3" stroke="#888" stroke-width="1.3"/>
<line x1="1523.3" y1="126.8" x2="1523.3" y2="559.3" stroke="#111" stroke-width="1.2"/>
<line x1="1225.6" y1="680.7" x2="1225.6" y2="784.4" stroke="#ebebeb" stroke-width="1"/>
<line x1="1330.2" y1="680.7" x2="1330.2" y2="784.4" stroke="#ebebeb" stroke-width="1"/>
<line x1="1434.8" y1="680.7" x2="1434.8" y2="784.4" stroke="#ebebeb" stroke-width="1"/>
<line x1="1539.4" y1="680.7" x2="1539.4" y2="784.4" stroke="#ebebeb" stroke-width="1"/>
<line x1="1644.0" y1="680.7" x2="1644.0" y2="784.4" stroke="#ebebeb" stroke-width="1"/>
<line x1="1748.6" y1="680.7" x2="1748.6" y2="784.4" stroke="#ebebeb" stroke-width="1"/>
<line x1="1853.2" y1="680.7" x2="1853.2" y2="784.4" stroke="#ebebeb" stroke-width="1"/>
<line x1="1957.8" y1="680.7" x2="1957.8" y2="784.4" stroke="#ebebeb" stroke-width="1"/>
<line x1="2062.4" y1="680.7" x2="2062.4" y2="784.4" stroke="#ebebeb" stroke-width="1"/>
<line x1="2167.0" y1="680.7" x2="2167.0" y2="784.4" stroke="#ebebeb" stroke-width="1"/>
<line x1="1224.0" y1="781.8" x2="2168.5" y2="781.8" stroke="#f0f0f0" stroke-width="1"/>
<line x1="1224.0" y1="762.3" x2="2168.5" y2="762.3" stroke="#f0f0f0" stroke-width="1"/>
<line x1="1224.0" y1="742.8" x2="2168.5" y2="742.8" stroke="#f0f0f0" stroke-width="1"/>
<line x1="1224.0" y1="723.4" x2="2168.5" y2="723.4" stroke="#f0f0f0" stroke-width="1"/>
<line x1="1224.0" y1="703.9" x2="2168.5" y2="703.9" stroke="#f0f0f0" stroke-width="1"/>
<line x1="1224.0" y1="684.4" x2="2168.5" y2="684.4" stroke="#f0f0f0" stroke-width="1"/>
<text x="1224.0" y="665.0" font-size="28.5" textLength="537.8" lengthAdjust="spacingAndGlyphs">Strong-and-common contacts per window</text>
<text x="2160.0" y="706.6" font-size="28.5" text-anchor="end" textLength="174.6" lengthAdjust="spacingAndGlyphs">Top decentile</text>
<line x1="1224" y1="717.5" x2="2168.5" y2="717.5" stroke="#555" stroke-width="2" stroke-dasharray="12 8"/>
<line x1="1216.4" y1="781.8" x2="1223.7" y2="781.8" stroke="#333" stroke-width="1.3"/>
<line x1="1216.4" y1="762.3" x2="1223.7" y2="762.3" stroke="#333" stroke-width="1.3"/>
<line x1="1216.4" y1="742.8" x2="1223.7" y2="742.8" stroke="#333" stroke-width="1.3"/>
<line x1="1216.4" y1="723.4" x2="1223.7" y2="723.4" stroke="#333" stroke-width="1.3"/>
<line x1="1216.4" y1="703.9" x2="1223.7" y2="703.9" stroke="#333" stroke-width="1.3"/>
<line x1="1216.4" y1="684.4" x2="1223.7" y2="684.4" stroke="#333" stroke-width="1.3"/>
<text x="1208.0" y="692.9" font-size="26.3" text-anchor="end">50</text>
<text x="1208.0" y="790.3" font-size="26.3" text-anchor="end">0</text>
<text x="1170.5" y="732.5" font-size="28.5" text-anchor="middle" transform="rotate(-90 1170.5 732.5)">Count</text>
<path d="M1225.6 736.5 1226.3 742.5 1227.1 726.2 1227.8 736.2 1228.5 740.8 1229.3 743.5 1230.0 742.2 1230.7 726.4 1231.5 739.0 1232.2 741.3 1232.9 743.3 1233.7 728.9 1234.4 729.8 1235.1 734.7 1235.9 745.7 1236.6 746.8 1237.3 752.0 1238.0 741.2 1238.8 744.9 1239.5 739.6 1240.2 749.4 1241.0 743.1 1241.7 743.9 1242.4 749.6 1243.2 747.6 1243.9 747.4 1244.6 736.8 1245.4 730.8 1246.1 725.6 1246.8 739.3 1247.6 745.9 1248.3 737.3 1249.0 712.3 1249.8 710.9 1250.5 706.9 1251.2 719.4 1252.0 723.9 1252.7 741.8 1253.4 747.8 1254.2 741.5 1254.9 738.5 1255.6 741.8 1256.4 741.7 1257.1 737.8 1257.8 739.1 1258.5 736.0 1259.3 735.2 1260.0 735.6 1260.7 735.3 1261.5 741.7 1262.2 749.2 1262.9 741.1 1263.7 724.1 1264.4 726.1 1265.1 737.7 1265.9 722.2 1266.6 737.6 1267.3 757.4 1268.1 734.4 1268.8 728.9 1269.5 718.1 1270.3 752.8 1271.0 763.9 1271.7 762.3 1272.5 760.3 1273.2 762.2 1273.9 740.4 1274.7 750.8 1275.4 758.9 1276.1 765.0 1276.9 737.3 1277.6 731.3 1278.3 728.8 1279.1 726.5 1279.8 732.6 1280.5 706.0 1281.2 693.5 1282.0 687.3 1282.7 702.1 1283.4 718.2 1284.2 710.6 1284.9 716.2 1285.6 704.5 1286.4 714.0 1287.1 719.2 1287.8 712.0 1288.6 710.6 1289.3 721.7 1290.0 722.4 1290.8 720.7 1291.5 707.1 1292.2 712.2 1293.0 721.9 1293.7 720.5 1294.4 726.9 1295.2 729.8 1295.9 722.9 1296.6 723.1 1297.4 728.0 1298.1 729.9 1298.8 727.0 1299.6 725.8 1300.3 723.5 1301.0 727.8 1301.7 726.5 1302.5 698.4 1303.2 695.6 1303.9 697.6 1304.7 714.8 1305.4 707.5 1306.1 711.2 1306.9 717.5 1307.6 750.6 1308.3 741.4 1309.1 754.7 1309.8 737.6 1310.5 758.5 1311.3 763.4 1312.0 752.9 1312.7 751.7 1313.5 742.4 1314.2 762.0 1314.9 761.6 1315.7 768.5 1316.4 766.8 1317.1 747.5 1317.9 748.0 1318.6 764.0 1319.3 740.3 1320.1 734.3 1320.8 751.9 1321.5 753.4 1322.3 767.5 1323.0 743.2 1323.7 733.5 1324.4 757.7 1325.2 764.6 1325.9 762.2 1326.6 744.9 1327.4 739.5 1328.1 744.0 1328.8 737.3 1329.6 750.6 1330.3 760.2 1331.0 765.5 1331.8 767.8 1332.5 770.5 1333.2 762.7 1334.0 767.3 1334.7 770.1 1335.4 761.1 1336.2 767.2 1336.9 756.9 1337.6 764.8 1338.4 770.9 1339.1 768.0 1339.8 772.3 1340.6 763.5 1341.3 756.3 1342.0 757.5 1342.8 768.2 1343.5 774.9 1344.2 766.9 1344.9 772.9 1345.7 776.2 1346.4 776.6 1347.1 767.6 1347.9 766.6 1348.6 767.6 1349.3 774.3 1350.1 760.1 1350.8 767.1 1351.5 763.3 1352.3 759.7 1353.0 767.7 1353.7 756.3 1354.5 769.4 1355.2 769.6 1355.9 764.5 1356.7 765.5 1357.4 758.1 1358.1 769.8 1358.9 772.6 1359.6 775.5 1360.3 769.5 1361.1 774.9 1361.8 764.9 1362.5 767.7 1363.3 724.4 1364.0 715.1 1364.7 709.2 1365.5 722.3 1366.2 724.9 1366.9 728.6 1367.6 743.2 1368.4 746.0 1369.1 736.2 1369.8 730.8 1370.6 753.4 1371.3 761.9 1372.0 737.1 1372.8 755.5 1373.5 745.3 1374.2 755.8 1375.0 738.0 1375.7 739.7 1376.4 749.5 1377.2 759.6 1377.9 756.0 1378.6 751.4 1379.4 727.5 1380.1 719.5 1380.8 710.7 1381.6 745.6 1382.3 736.9 1383.0 742.8 1383.8 747.9 1384.5 743.6 1385.2 757.2 1386.0 752.2 1386.7 762.6 1387.4 744.2 1388.1 758.9 1388.9 749.8 1389.6 738.2 1390.3 745.8 1391.1 761.3 1391.8 763.6 1392.5 756.8 1393.3 740.1 1394.0 745.7 1394.7 743.8 1395.5 744.5 1396.2 735.6 1396.9 758.2 1397.7 753.4 1398.4 740.1 1399.1 757.2 1399.9 760.8 1400.6 756.1 1401.3 761.2 1402.1 764.4 1402.8 756.8 1403.5 734.0 1404.3 735.8 1405.0 757.9 1405.7 745.3 1406.5 756.2 1407.2 760.2 1407.9 747.0 1408.6 738.6 1409.4 739.6 1410.1 728.4 1410.8 732.3 1411.6 751.9 1412.3 749.4 1413.0 742.3 1413.8 752.8 1414.5 744.5 1415.2 745.5 1416.0 744.2 1416.7 760.9 1417.4 752.8 1418.2 746.3 1418.9 755.8 1419.6 755.8 1420.4 764.3 1421.1 759.1 1421.8 751.6 1422.6 740.6 1423.3 756.1 1424.0 737.4 1424.8 731.0 1425.5 725.4 1426.2 744.5 1427.0 753.8 1427.7 738.1 1428.4 740.5 1429.2 737.1 1429.9 722.1 1430.6 715.1 1431.3 718.6 1432.1 713.5 1432.8 711.0 1433.5 708.7 1434.3 719.7 1435.0 725.3 1435.7 725.9 1436.5 733.0 1437.2 700.9 1437.9 695.4 1438.7 693.4 1439.4 720.8 1440.1 717.2 1440.9 703.2 1441.6 723.5 1442.3 729.4 1443.1 725.1 1443.8 722.7 1444.5 706.6 1445.3 727.3 1446.0 755.4 1446.7 754.0 1447.5 756.2 1448.2 758.8 1448.9 759.2 1449.7 758.7 1450.4 763.2 1451.1 761.9 1451.8 738.2 1452.6 758.6 1453.3 755.7 1454.0 748.5 1454.8 760.0 1455.5 760.1 1456.2 759.1 1457.0 757.2 1457.7 759.3 1458.4 762.7 1459.2 756.6 1459.9 751.2 1460.6 761.4 1461.4 750.8 1462.1 757.2 1462.8 769.1 1463.6 749.2 1464.3 765.4 1465.0 765.9 1465.8 756.2 1466.5 739.7 1467.2 733.4 1468.0 763.2 1468.7 759.7 1469.4 755.8 1470.2 769.9 1470.9 756.9 1471.6 739.5 1472.4 762.1 1473.1 754.3 1473.8 769.9 1474.5 743.3 1475.3 754.7 1476.0 744.5 1476.7 751.7 1477.5 737.3 1478.2 751.0 1478.9 732.4 1479.7 730.6 1480.4 730.6 1481.1 753.2 1481.9 757.8 1482.6 746.7 1483.3 767.2 1484.1 774.4 1484.8 773.1 1485.5 752.5 1486.3 751.5 1487.0 769.8 1487.7 763.3 1488.5 738.1 1489.2 736.7 1489.9 765.3 1490.7 759.5 1491.4 745.7 1492.1 745.1 1492.9 757.8 1493.6 753.8 1494.3 768.4 1495.0 774.0 1495.8 747.1 1496.5 766.9 1497.2 750.6 1498.0 765.6 1498.7 751.0 1499.4 757.7 1500.2 766.7 1500.9 743.4 1501.6 752.4 1502.4 742.8 1503.1 726.0 1503.8 712.1 1504.6 731.6 1505.3 733.7 1506.0 738.1 1506.8 734.2 1507.5 740.6 1508.2 729.1 1509.0 720.5 1509.7 724.0 1510.4 720.2 1511.2 718.1 1511.9 711.6 1512.6 732.3 1513.4 745.4 1514.1 755.3 1514.8 757.7 1515.6 756.4 1516.3 749.9 1517.0 743.3 1517.7 756.3 1518.5 740.7 1519.2 746.2 1519.9 747.0 1520.7 737.3 1521.4 752.1 1522.1 756.7 1522.9 758.8 1523.6 760.0 1524.3 759.4 1525.1 748.8 1525.8 758.2 1526.5 757.7 1527.3 755.3 1528.0 749.4 1528.7 743.9 1529.5 748.4 1530.2 735.1 1530.9 718.8 1531.7 743.6 1532.4 727.8 1533.1 730.4 1533.9 740.1 1534.6 734.9 1535.3 735.8 1536.1 749.7 1536.8 719.9 1537.5 724.4 1538.2 751.4 1539.0 746.4 1539.7 753.6 1540.4 762.3 1541.2 730.1 1541.9 751.0 1542.6 757.9 1543.4 751.9 1544.1 725.2 1544.8 735.3 1545.6 748.4 1546.3 759.7 1547.0 750.7 1547.8 749.6 1548.5 757.9 1549.2 763.1 1550.0 752.6 1550.7 754.7 1551.4 756.7 1552.2 759.6 1552.9 759.8 1553.6 735.8 1554.4 729.4 1555.1 755.1 1555.8 743.8 1556.6 747.2 1557.3 749.1 1558.0 746.2 1558.8 758.6 1559.5 756.1 1560.2 734.1 1560.9 725.5 1561.7 719.7 1562.4 709.2 1563.1 696.7 1563.9 693.0 1564.6 723.4 1565.3 733.7 1566.1 734.3 1566.8 765.7 1567.5 764.7 1568.3 737.6 1569.0 740.6 1569.7 746.2 1570.5 733.0 1571.2 739.1 1571.9 758.4 1572.7 767.7 1573.4 737.6 1574.1 765.1 1574.9 752.2 1575.6 770.4 1576.3 753.8 1577.1 736.4 1577.8 750.2 1578.5 768.6 1579.3 775.7 1580.0 772.8 1580.7 777.2 1581.4 756.7 1582.2 761.5 1582.9 751.3 1583.6 746.5 1584.4 763.5 1585.1 768.6 1585.8 770.3 1586.6 768.9 1587.3 765.0 1588.0 764.0 1588.8 745.8 1589.5 760.2 1590.2 771.1 1591.0 774.5 1591.7 774.5 1592.4 756.8 1593.2 758.4 1593.9 758.4 1594.6 743.6 1595.4 742.7 1596.1 738.8 1596.8 745.3 1597.6 749.1 1598.3 744.1 1599.0 761.5 1599.8 770.1 1600.5 764.3 1601.2 749.0 1602.0 760.1 1602.7 768.8 1603.4 745.9 1604.1 766.0 1604.9 759.7 1605.6 749.4 1606.3 768.0 1607.1 769.1 1607.8 771.0 1608.5 772.8 1609.3 753.3 1610.0 768.5 1610.7 773.6 1611.5 746.7 1612.2 727.2 1612.9 736.8 1613.7 737.4 1614.4 721.7 1615.1 729.9 1615.9 733.2 1616.6 732.4 1617.3 741.0 1618.1 735.5 1618.8 731.5 1619.5 737.1 1620.3 726.8 1621.0 741.6 1621.7 739.4 1622.5 733.0 1623.2 748.7 1623.9 756.7 1624.6 736.8 1625.4 727.2 1626.1 753.8 1626.8 763.9 1627.6 748.3 1628.3 733.0 1629.0 738.9 1629.8 754.6 1630.5 761.1 1631.2 761.6 1632.0 748.3 1632.7 753.8 1633.4 762.0 1634.2 754.2 1634.9 753.5 1635.6 750.9 1636.4 759.6 1637.1 761.6 1637.8 765.2 1638.6 764.4 1639.3 753.1 1640.0 751.8 1640.8 761.4 1641.5 747.3 1642.2 757.4 1643.0 763.5 1643.7 766.8 1644.4 761.0 1645.2 753.8 1645.9 759.6 1646.6 765.7 1647.3 750.5 1648.1 751.0 1648.8 746.4 1649.5 758.9 1650.3 750.3 1651.0 726.6 1651.7 731.0 1652.5 720.8 1653.2 725.2 1653.9 730.7 1654.7 725.2 1655.4 719.3 1656.1 722.9 1656.9 723.9 1657.6 719.9 1658.3 751.7 1659.1 759.8 1659.8 741.0 1660.5 763.8 1661.3 739.5 1662.0 727.3 1662.7 738.1 1663.5 725.9 1664.2 752.8 1664.9 753.0 1665.7 760.9 1666.4 763.6 1667.1 757.1 1667.8 767.7 1668.6 736.7 1669.3 761.0 1670.0 771.2 1670.8 742.7 1671.5 732.1 1672.2 742.9 1673.0 762.7 1673.7 751.9 1674.4 737.6 1675.2 755.2 1675.9 735.6 1676.6 732.7 1677.4 733.7 1678.1 753.1 1678.8 735.3 1679.6 729.2 1680.3 725.1 1681.0 734.2 1681.8 758.5 1682.5 766.1 1683.2 742.6 1684.0 760.2 1684.7 755.6 1685.4 753.9 1686.2 742.1 1686.9 741.2 1687.6 760.2 1688.4 751.1 1689.1 738.8 1689.8 757.8 1690.5 742.3 1691.3 756.2 1692.0 732.6 1692.7 756.3 1693.5 748.9 1694.2 732.8 1694.9 737.3 1695.7 749.1 1696.4 750.5 1697.1 751.1 1697.9 749.6 1698.6 737.8 1699.3 759.3 1700.1 738.1 1700.8 747.0 1701.5 738.3 1702.3 750.3 1703.0 732.8 1703.7 734.0 1704.5 749.6 1705.2 754.4 1705.9 717.2 1706.7 709.0 1707.4 706.4 1708.1 702.5 1708.9 712.0 1709.6 726.7 1710.3 752.4 1711.0 751.3 1711.8 746.1 1712.5 735.2 1713.2 758.6 1714.0 762.3 1714.7 767.3 1715.4 767.5 1716.2 766.1 1716.9 767.2 1717.6 737.4 1718.4 737.1 1719.1 752.6 1719.8 743.2 1720.6 744.1 1721.3 755.0 1722.0 731.7 1722.8 719.9 1723.5 738.1 1724.2 746.1 1725.0 762.9 1725.7 753.3 1726.4 744.2 1727.2 742.4 1727.9 728.9 1728.6 743.1 1729.4 738.5 1730.1 719.1 1730.8 753.4 1731.6 755.4 1732.3 762.1 1733.0 766.1 1733.7 743.4 1734.5 758.0 1735.2 759.9 1735.9 741.8 1736.7 754.1 1737.4 771.5 1738.1 775.1 1738.9 777.5 1739.6 774.3 1740.3 756.6 1741.1 751.5 1741.8 746.1 1742.5 757.4 1743.3 759.4 1744.0 751.3 1744.7 751.4 1745.5 755.3 1746.2 768.9 1746.9 750.2 1747.7 762.5 1748.4 764.7 1749.1 770.0 1749.9 770.1 1750.6 771.2 1751.3 755.8 1752.1 767.3 1752.8 774.2 1753.5 774.0 1754.2 770.6 1755.0 758.1 1755.7 771.1 1756.4 771.8 1757.2 768.6 1757.9 774.4 1758.6 753.9 1759.4 750.2 1760.1 769.8 1760.8 763.8 1761.6 774.7 1762.3 754.5 1763.0 753.7 1763.8 771.4 1764.5 767.0 1765.2 755.5 1766.0 760.6 1766.7 772.6 1767.4 760.3 1768.2 752.1 1768.9 766.6 1769.6 750.3 1770.4 753.7 1771.1 762.9 1771.8 770.9 1772.6 775.2 1773.3 760.9 1774.0 766.1 1774.8 774.8 1775.5 775.8 1776.2 759.1 1776.9 761.5 1777.7 774.0 1778.4 768.9 1779.1 750.7 1779.9 746.4 1780.6 761.9 1781.3 764.5 1782.1 772.2 1782.8 773.9 1783.5 768.5 1784.3 757.0 1785.0 749.3 1785.7 770.2 1786.5 767.2 1787.2 771.9 1787.9 764.4 1788.7 749.1 1789.4 755.7 1790.1 761.1 1790.9 763.4 1791.6 752.9 1792.3 768.8 1793.1 756.3 1793.8 767.5 1794.5 767.7 1795.3 771.1 1796.0 772.5 1796.7 757.2 1797.4 768.9 1798.2 748.1 1798.9 755.3 1799.6 741.7 1800.4 752.8 1801.1 764.3 1801.8 746.7 1802.6 753.0 1803.3 750.9 1804.0 749.7 1804.8 753.0 1805.5 750.9 1806.2 739.8 1807.0 758.8 1807.7 756.2 1808.4 755.2 1809.2 755.0 1809.9 767.3 1810.6 758.3 1811.4 739.9 1812.1 763.8 1812.8 748.4 1813.6 761.1 1814.3 763.8 1815.0 748.3 1815.8 757.0 1816.5 761.7 1817.2 762.9 1817.9 757.2 1818.7 756.7 1819.4 768.2 1820.1 745.8 1820.9 756.9 1821.6 767.9 1822.3 743.0 1823.1 752.9 1823.8 757.9 1824.5 764.5 1825.3 752.3 1826.0 758.8 1826.7 750.1 1827.5 749.2 1828.2 766.0 1828.9 752.9 1829.7 737.3 1830.4 752.7 1831.1 726.7 1831.9 735.3 1832.6 753.5 1833.3 747.0 1834.1 756.4 1834.8 744.0 1835.5 734.7 1836.3 752.1 1837.0 756.2 1837.7 758.9 1838.5 738.9 1839.2 724.9 1839.9 727.2 1840.6 721.9 1841.4 749.8 1842.1 736.6 1842.8 732.9 1843.6 746.8 1844.3 753.7 1845.0 747.9 1845.8 746.9 1846.5 743.4 1847.2 736.9 1848.0 720.9 1848.7 726.3 1849.4 752.8 1850.2 759.5 1850.9 744.0 1851.6 734.6 1852.4 735.5 1853.1 736.5 1853.8 724.7 1854.6 723.9 1855.3 729.0 1856.0 724.0 1856.8 732.7 1857.5 734.9 1858.2 726.5 1859.0 733.0 1859.7 737.9 1860.4 741.4 1861.1 739.5 1861.9 735.2 1862.6 721.1 1863.3 735.4 1864.1 740.5 1864.8 731.0 1865.5 729.1 1866.3 727.1 1867.0 724.8 1867.7 725.6 1868.5 727.8 1869.2 732.5 1869.9 734.9 1870.7 735.6 1871.4 721.9 1872.1 719.6 1872.9 730.5 1873.6 719.5 1874.3 752.6 1875.1 754.8 1875.8 757.2 1876.5 756.1 1877.3 759.3 1878.0 758.5 1878.7 768.6 1879.5 766.8 1880.2 758.3 1880.9 761.4 1881.7 764.1 1882.4 762.2 1883.1 757.2 1883.8 744.3 1884.6 739.5 1885.3 741.9 1886.0 751.6 1886.8 741.1 1887.5 737.7 1888.2 731.9 1889.0 731.0 1889.7 745.1 1890.4 750.2 1891.2 716.7 1891.9 716.3 1892.6 712.7 1893.4 728.3 1894.1 751.7 1894.8 756.8 1895.6 741.8 1896.3 749.3 1897.0 740.9 1897.8 731.3 1898.5 752.0 1899.2 760.0 1900.0 739.7 1900.7 754.7 1901.4 758.8 1902.2 739.5 1902.9 731.6 1903.6 746.9 1904.3 742.9 1905.1 725.3 1905.8 749.4 1906.5 743.8 1907.3 730.7 1908.0 744.5 1908.7 752.1 1909.5 751.0 1910.2 746.4 1910.9 724.4 1911.7 729.3 1912.4 738.5 1913.1 726.2 1913.9 718.9 1914.6 743.3 1915.3 744.5 1916.1 749.7 1916.8 730.6 1917.5 736.8 1918.3 735.8 1919.0 746.8 1919.7 737.4 1920.5 746.9 1921.2 731.0 1921.9 728.1 1922.7 722.1 1923.4 735.6 1924.1 727.6 1924.9 731.9 1925.6 732.0 1926.3 726.2 1927.0 740.6 1927.8 749.6 1928.5 732.7 1929.2 750.6 1930.0 757.9 1930.7 759.6 1931.4 729.6 1932.2 729.3 1932.9 745.5 1933.6 756.4 1934.4 723.8 1935.1 731.0 1935.8 741.1 1936.6 749.2 1937.3 735.9 1938.0 728.2 1938.8 727.9 1939.5 749.7 1940.2 750.2 1941.0 732.5 1941.7 723.6 1942.4 725.6 1943.2 734.5 1943.9 749.7 1944.6 751.3 1945.4 758.1 1946.1 741.2 1946.8 755.3 1947.5 711.1 1948.3 701.7 1949.0 729.3 1949.7 730.9 1950.5 735.6 1951.2 735.9 1951.9 746.8 1952.7 751.0 1953.4 738.5 1954.1 748.5 1954.9 748.7 1955.6 748.5 1956.3 745.8 1957.1 742.8 1957.8 733.2 1958.5 739.8 1959.3 755.8 1960.0 766.3 1960.7 768.4 1961.5 765.4 1962.2 768.5 1962.9 766.0 1963.7 770.2 1964.4 768.0 1965.1 768.1 1965.9 763.0 1966.6 755.5 1967.3 760.7 1968.1 761.1 1968.8 742.8 1969.5 733.8 1970.2 732.8 1971.0 722.2 1971.7 722.7 1972.4 723.4 1973.2 734.1 1973.9 731.0 1974.6 730.2 1975.4 738.2 1976.1 735.1 1976.8 730.3 1977.6 736.2 1978.3 737.3 1979.0 753.5 1979.8 756.5 1980.5 755.2 1981.2 762.8 1982.0 764.4 1982.7 760.1 1983.4 766.7 1984.2 760.6 1984.9 771.6 1985.6 759.4 1986.4 764.1 1987.1 767.8 1987.8 765.1 1988.6 770.0 1989.3 768.3 1990.0 771.7 1990.7 769.7 1991.5 764.7 1992.2 773.7 1992.9 772.5 1993.7 770.3 1994.4 769.7 1995.1 774.2 1995.9 771.2 1996.6 774.1 1997.3 764.9 1998.1 771.5 1998.8 761.0 1999.5 771.3 2000.3 767.1 2001.0 757.6 2001.7 756.7 2002.5 770.3 2003.2 774.2 2003.9 764.8 2004.7 765.7 2005.4 769.6 2006.1 767.4 2006.9 765.5 2007.6 764.6 2008.3 773.7 2009.1 771.7 2009.8 773.2 2010.5 775.6 2011.3 774.7 2012.0 763.7 2012.7 771.1 2013.4 775.8 2014.2 774.2 2014.9 766.6 2015.6 754.9 2016.4 755.2 2017.1 747.3 2017.8 758.8 2018.6 750.7 2019.3 762.6 2020.0 766.8 2020.8 770.3 2021.5 758.5 2022.2 754.7 2023.0 758.7 2023.7 752.2 2024.4 753.5 2025.2 756.7 2025.9 750.1 2026.6 757.0 2027.4 762.3 2028.1 762.2 2028.8 765.7 2029.6 756.1 2030.3 767.5 2031.0 766.2 2031.8 758.8 2032.5 763.7 2033.2 757.6 2033.9 762.3 2034.7 768.0 2035.4 761.0 2036.1 769.5 2036.9 752.9 2037.6 747.1 2038.3 754.3 2039.1 746.8 2039.8 752.5 2040.5 762.2 2041.3 768.8 2042.0 763.2 2042.7 752.5 2043.5 761.8 2044.2 764.2 2044.9 765.5 2045.7 755.3 2046.4 752.0 2047.1 745.9 2047.9 752.6 2048.6 766.9 2049.3 770.6 2050.1 761.9 2050.8 759.2 2051.5 751.1 2052.3 741.8 2053.0 738.2 2053.7 747.1 2054.5 719.8 2055.2 716.3 2055.9 708.3 2056.6 717.5 2057.4 722.2 2058.1 729.2 2058.8 732.7 2059.6 740.2 2060.3 739.5 2061.0 725.9 2061.8 743.2 2062.5 753.5 2063.2 745.1 2064.0 735.4 2064.7 725.8 2065.4 733.7 2066.2 735.3 2066.9 748.4 2067.6 744.6 2068.4 730.4 2069.1 743.2 2069.8 729.3 2070.6 738.2 2071.3 752.6 2072.0 750.7 2072.8 755.2 2073.5 744.4 2074.2 748.3 2075.0 739.8 2075.7 736.7 2076.4 733.0 2077.1 733.8 2077.9 735.0 2078.6 732.4 2079.3 736.2 2080.1 737.7 2080.8 732.1 2081.5 733.8 2082.3 723.4 2083.0 723.3 2083.7 718.0 2084.5 713.2 2085.2 706.0 2085.9 716.7 2086.7 719.1 2087.4 710.3 2088.1 713.8 2088.9 714.5 2089.6 717.9 2090.3 703.1 2091.1 709.5 2091.8 715.0 2092.5 707.5 2093.3 704.9 2094.0 713.6 2094.7 714.6 2095.5 718.7 2096.2 704.4M2108.6 700.6 2109.4 700.4 2110.1 701.5 2110.8 707.8 2111.6 708.5 2112.3 710.2 2113.0 712.8M2130.6 751.4 2131.3 753.9 2132.1 759.2 2132.8 745.4 2133.5 730.7 2134.3 724.4 2135.0 750.7 2135.7 742.4 2136.5 733.0 2137.2 749.2 2137.9 744.7 2138.7 750.8 2139.4 757.4 2140.1 755.5 2140.8 746.8 2141.6 755.6 2142.3 752.3 2143.0 745.4 2143.8 742.9 2144.5 729.4 2145.2 752.0 2146.0 731.4 2146.7 751.3 2147.4 752.0 2148.2 746.0 2148.9 754.3 2149.6 746.4 2150.4 739.7 2151.1 741.9 2151.8 733.3 2152.6 748.5 2153.3 729.7 2154.0 732.1 2154.8 730.2 2155.5 747.7 2156.2 733.1 2157.0 740.5 2157.7 736.1 2158.4 736.7 2159.2 743.7 2159.9 751.1 2160.6 755.2 2161.4 757.1 2162.1 746.5 2162.8 744.3 2163.5 756.2 2164.3 757.3 2165.0 737.0 2165.7 754.6 2166.5 736.6" fill="none" stroke="#f9a630" stroke-width="2.8" stroke-linejoin="round"/>
<rect x="1223.7" y="680.7" width="944.8" height="103.7" fill="none" stroke="#222" stroke-width="1.5"/>
<line x1="1225.6" y1="784.4" x2="1225.6" y2="793.4" stroke="#333" stroke-width="1.5"/>
<line x1="1434.8" y1="784.4" x2="1434.8" y2="793.4" stroke="#333" stroke-width="1.5"/>
<line x1="1644.0" y1="784.4" x2="1644.0" y2="793.4" stroke="#333" stroke-width="1.5"/>
<line x1="1853.2" y1="784.4" x2="1853.2" y2="793.4" stroke="#333" stroke-width="1.5"/>
<line x1="2062.4" y1="784.4" x2="2062.4" y2="793.4" stroke="#333" stroke-width="1.5"/>
<text x="1224.0" y="822.2" font-size="28.5">Common regions</text>
<rect x="1233.5" y="834.4" width="2.0" height="25.9" fill="#f99a12"/>
<rect x="1236.4" y="834.4" width="2.0" height="25.9" fill="#f99a12"/>
<rect x="1240.3" y="834.4" width="2.0" height="25.9" fill="#f99a12"/>
<rect x="1249.4" y="834.4" width="2.0" height="25.9" fill="#f99a12"/>
<rect x="1255.0" y="834.4" width="2.0" height="25.9" fill="#f99a12"/>
<rect x="1268.2" y="834.4" width="2.0" height="25.9" fill="#f99a12"/>
<rect x="1270.6" y="834.4" width="2.0" height="25.9" fill="#f99a12"/>
<rect x="1274.5" y="834.4" width="2.0" height="25.9" fill="#f99a12"/>
<rect x="1295.0" y="834.4" width="2.0" height="25.9" fill="#f99a12"/>
<rect x="1363.3" y="834.4" width="2.0" height="25.9" fill="#f99a12"/>
<rect x="1378.7" y="834.4" width="2.0" height="25.9" fill="#f99a12"/>
<rect x="1381.8" y="834.4" width="2.0" height="25.9" fill="#f99a12"/>
<rect x="1395.8" y="834.4" width="2.0" height="25.9" fill="#f99a12"/>
<rect x="1545.8" y="834.4" width="2.0" height="25.9" fill="#f99a12"/>
<rect x="1570.7" y="834.4" width="2.0" height="25.9" fill="#f99a12"/>
<rect x="1614.8" y="834.4" width="2.0" height="25.9" fill="#f99a12"/>
<rect x="1625.1" y="834.4" width="2.0" height="25.9" fill="#f99a12"/>
<rect x="1682.0" y="834.4" width="2.0" height="25.9" fill="#f99a12"/>
<rect x="1704.8" y="834.4" width="2.0" height="25.9" fill="#f99a12"/>
<rect x="1723.5" y="834.4" width="2.0" height="25.9" fill="#f99a12"/>
<rect x="1728.1" y="834.4" width="2.0" height="25.9" fill="#f99a12"/>
<rect x="1829.2" y="834.4" width="2.0" height="25.9" fill="#f99a12"/>
<rect x="1841.0" y="834.4" width="2.0" height="25.9" fill="#f99a12"/>
<rect x="1856.6" y="834.4" width="2.0" height="25.9" fill="#f99a12"/>
<rect x="1890.3" y="834.4" width="2.0" height="25.9" fill="#f99a12"/>
<rect x="1899.6" y="834.4" width="2.0" height="25.9" fill="#f99a12"/>
<rect x="1904.3" y="834.4" width="2.0" height="25.9" fill="#f99a12"/>
<rect x="1912.6" y="834.4" width="2.0" height="25.9" fill="#f99a12"/>
<rect x="2053.5" y="834.4" width="2.0" height="25.9" fill="#f99a12"/>
<rect x="2056.1" y="834.4" width="2.0" height="25.9" fill="#f99a12"/>
<rect x="2109.5" y="834.4" width="2.0" height="25.9" fill="#f99a12"/>
<rect x="2124.5" y="834.4" width="2.0" height="25.9" fill="#f99a12"/>
<rect x="2144.2" y="834.4" width="2.0" height="25.9" fill="#f99a12"/>
<rect x="1227.3" y="834.4" width="1.6" height="25.9" fill="#f99a12"/>
<rect x="1229.1" y="834.4" width="1.6" height="25.9" fill="#f99a12"/>
<rect x="1230.6" y="834.4" width="2.2" height="25.9" fill="#f99a12"/>
<rect x="1263.2" y="834.4" width="1.6" height="25.9" fill="#f99a12"/>
<rect x="1264.4" y="834.4" width="2.2" height="25.9" fill="#fbb84f"/>
<rect x="1279.0" y="834.4" width="1.6" height="25.9" fill="#f99a12"/>
<rect x="1280.7" y="834.4" width="1.6" height="25.9" fill="#f99a12"/>
<rect x="1281.9" y="834.4" width="2.8" height="25.9" fill="#f99a12"/>
<rect x="1283.7" y="834.4" width="2.8" height="25.9" fill="#f99a12"/>
<rect x="1286.0" y="834.4" width="1.6" height="25.9" fill="#fbb84f"/>
<rect x="1290.8" y="834.4" width="1.6" height="25.9" fill="#f99a12"/>
<rect x="1291.2" y="834.4" width="2.8" height="25.9" fill="#f99a12"/>
<rect x="1299.3" y="834.4" width="2.8" height="25.9" fill="#f99a12"/>
<rect x="1301.3" y="834.4" width="2.2" height="25.9" fill="#f99a12"/>
<rect x="1302.6" y="834.4" width="2.8" height="25.9" fill="#f99a12"/>
<rect x="1304.3" y="834.4" width="2.8" height="25.9" fill="#f99a12"/>
<rect x="1403.6" y="834.4" width="2.8" height="25.9" fill="#fbb84f"/>
<rect x="1405.7" y="834.4" width="2.2" height="25.9" fill="#f99a12"/>
<rect x="1426.7" y="834.4" width="2.2" height="25.9" fill="#fbb84f"/>
<rect x="1428.6" y="834.4" width="2.2" height="25.9" fill="#f99a12"/>
<rect x="1430.9" y="834.4" width="1.6" height="25.9" fill="#fbb84f"/>
<rect x="1432.8" y="834.4" width="1.6" height="25.9" fill="#f99a12"/>
<rect x="1434.8" y="834.4" width="1.6" height="25.9" fill="#fbb84f"/>
<rect x="1436.7" y="834.4" width="1.6" height="25.9" fill="#f99a12"/>
<rect x="1438.3" y="834.4" width="2.2" height="25.9" fill="#f99a12"/>
<rect x="1440.6" y="834.4" width="1.6" height="25.9" fill="#f99a12"/>
<rect x="1442.2" y="834.4" width="2.2" height="25.9" fill="#f99a12"/>
<rect x="1503.1" y="834.4" width="1.6" height="25.9" fill="#f99a12"/>
<rect x="1504.7" y="834.4" width="2.2" height="25.9" fill="#f99a12"/>
<rect x="1506.3" y="834.4" width="2.8" height="25.9" fill="#f99a12"/>
<rect x="1508.9" y="834.4" width="1.6" height="25.9" fill="#f99a12"/>
<rect x="1510.2" y="834.4" width="2.8" height="25.9" fill="#f99a12"/>
<rect x="1529.1" y="834.4" width="2.2" height="25.9" fill="#f99a12"/>
<rect x="1531.1" y="834.4" width="2.2" height="25.9" fill="#f99a12"/>
<rect x="1532.7" y="834.4" width="2.8" height="25.9" fill="#f99a12"/>
<rect x="1559.6" y="834.4" width="2.8" height="25.9" fill="#f99a12"/>
<rect x="1561.5" y="834.4" width="2.2" height="25.9" fill="#f99a12"/>
<rect x="1651.5" y="834.4" width="2.2" height="25.9" fill="#fbb84f"/>
<rect x="1653.4" y="834.4" width="2.2" height="25.9" fill="#f99a12"/>
<rect x="1927.5" y="834.4" width="2.2" height="25.9" fill="#f99a12"/>
<rect x="1929.3" y="834.4" width="2.8" height="25.9" fill="#f99a12"/>
<rect x="1945.9" y="834.4" width="2.2" height="25.9" fill="#f99a12"/>
<rect x="1947.1" y="834.4" width="2.8" height="25.9" fill="#fbb84f"/>
<rect x="1973.3" y="834.4" width="1.6" height="25.9" fill="#f99a12"/>
<rect x="1974.5" y="834.4" width="2.8" height="25.9" fill="#f99a12"/>
<rect x="2080.5" y="834.4" width="1.6" height="25.9" fill="#f99a12"/>
<rect x="2081.6" y="834.4" width="2.8" height="25.9" fill="#f99a12"/>
<rect x="2084.0" y="834.4" width="1.6" height="25.9" fill="#f99a12"/>
<rect x="2085.1" y="834.4" width="2.8" height="25.9" fill="#f99a12"/>
<rect x="2086.9" y="834.4" width="2.8" height="25.9" fill="#fbb84f"/>
<rect x="2089.2" y="834.4" width="1.6" height="25.9" fill="#f99a12"/>
<rect x="2090.7" y="834.4" width="2.2" height="25.9" fill="#f99a12"/>
<rect x="2092.4" y="834.4" width="2.2" height="25.9" fill="#f99a12"/>
<rect x="1221.9" y="834.4" width="946.6" height="25.9" fill="none" stroke="#333" stroke-width="1.5"/>
<line x1="1225.6" y1="860.3" x2="1225.6" y2="867.0" stroke="#333" stroke-width="1.5"/>
<text x="1225.6" y="896.8" font-size="26.3" text-anchor="middle">70</text>
<line x1="1434.8" y1="860.3" x2="1434.8" y2="867.0" stroke="#333" stroke-width="1.5"/>
<text x="1434.8" y="896.8" font-size="26.3" text-anchor="middle">80</text>
<line x1="1644.0" y1="860.3" x2="1644.0" y2="867.0" stroke="#333" stroke-width="1.5"/>
<text x="1644.0" y="896.8" font-size="26.3" text-anchor="middle">90</text>
<line x1="1853.2" y1="860.3" x2="1853.2" y2="867.0" stroke="#333" stroke-width="1.5"/>
<text x="1853.2" y="896.8" font-size="26.3" text-anchor="middle">100</text>
<line x1="2062.4" y1="860.3" x2="2062.4" y2="867.0" stroke="#333" stroke-width="1.5"/>
<text x="2062.4" y="896.8" font-size="26.3" text-anchor="middle">110</text>
<text x="1700.6" y="933.6" font-size="28.5" text-anchor="middle">Chr.4 (Mb)</text>
<text x="0.0" y="1032.7" font-size="38" font-weight="bold" stroke="#000" stroke-width="1.3">c</text>
<rect x="214.8" y="1236.9" width="23.6" height="71.8" fill="#4a72a2"/>
<rect x="281.1" y="1216.4" width="23.6" height="92.3" fill="#f9a52d"/>
<rect x="347.1" y="1069.0" width="23.6" height="239.7" fill="#c8363a"/>
<rect x="187.4" y="1056.7" width="211.0" height="264.4" fill="none" stroke="#333" stroke-width="1.5"/>
<line x1="178.4" y1="1308.7" x2="187.4" y2="1308.7" stroke="#333" stroke-width="1.3"/>
<text x="166.9" y="1317.7" font-size="26.3" text-anchor="end">0</text>
<line x1="178.4" y1="1256.4" x2="187.4" y2="1256.4" stroke="#333" stroke-width="1.3"/>
<text x="166.9" y="1265.4" font-size="26.3" text-anchor="end">1,000</text>
<line x1="178.4" y1="1204.1" x2="187.4" y2="1204.1" stroke="#333" stroke-width="1.3"/>
<text x="166.9" y="1213.1" font-size="26.3" text-anchor="end">2,000</text>
<line x1="178.4" y1="1151.8" x2="187.4" y2="1151.8" stroke="#333" stroke-width="1.3"/>
<text x="166.9" y="1160.8" font-size="26.3" text-anchor="end">3,000</text>
<line x1="178.4" y1="1099.5" x2="187.4" y2="1099.5" stroke="#333" stroke-width="1.3"/>
<text x="166.9" y="1108.5" font-size="26.3" text-anchor="end">4,000</text>
<text x="51.0" y="1188.3" font-size="28.5" text-anchor="middle" textLength="217.5" lengthAdjust="spacingAndGlyphs" transform="rotate(-90 51.0 1188.3)">Number of genes</text>
<text x="85.9" y="1187.5" font-size="28.5" text-anchor="middle" transform="rotate(-90 85.9 1187.5)">per set</text>
<rect x="421.3" y="1091.9" width="24.3" height="24.0" fill="#4a72a2"/>
<text x="460.0" y="1110.4" font-size="28.5">Hi-C-preferred</text>
<text x="460.0" y="1139.8" font-size="28.5">regions</text>
<rect x="421.3" y="1165.4" width="24.3" height="24.0" fill="#f9a52d"/>
<text x="460.0" y="1183.9" font-size="28.5">Common</text>
<text x="460.0" y="1213.3" font-size="28.5">regions</text>
<rect x="421.3" y="1239.0" width="24.3" height="24.0" fill="#c8363a"/>
<text x="460.0" y="1257.5" font-size="28.5">GAM-preferred</text>
<text x="460.0" y="1286.9" font-size="28.5">regions</text>
<text x="0.0" y="1390.6" font-size="38" font-weight="bold" stroke="#000" stroke-width="1.3">d</text>
<path d="M226.70 1442.51C226.78 1444.84 227.05 1451.24 227.20 1456.48C227.35 1461.72 227.32 1469.09 227.60 1473.94C227.88 1478.79 228.10 1481.70 228.90 1485.58C229.70 1489.46 230.82 1493.34 232.40 1497.22C233.98 1501.10 236.48 1504.98 238.40 1508.86C240.32 1512.74 242.32 1516.62 243.90 1520.50C245.48 1524.38 247.15 1529.23 247.90 1532.14C248.65 1535.05 248.48 1536.02 248.40 1537.96C248.32 1539.90 248.23 1540.87 247.40 1543.78C246.57 1546.69 244.48 1551.54 243.40 1555.42C242.32 1559.30 241.53 1563.18 240.90 1567.06C240.27 1570.94 239.88 1574.82 239.60 1578.70C239.32 1582.58 239.27 1586.46 239.20 1590.34C239.13 1594.22 239.08 1598.10 239.20 1601.98C239.32 1605.86 239.53 1609.74 239.90 1613.62C240.27 1617.50 241.18 1621.77 241.40 1625.26C241.62 1628.75 241.70 1631.66 241.20 1634.57C240.70 1637.48 239.37 1640.00 238.40 1642.72C237.43 1645.44 236.15 1648.60 235.40 1650.87C234.65 1653.14 234.15 1655.43 233.90 1656.34L218.90 1656.34C218.65 1655.43 218.15 1653.14 217.40 1650.87C216.65 1648.60 215.37 1645.44 214.40 1642.72C213.43 1640.00 212.10 1637.48 211.60 1634.57C211.10 1631.66 211.18 1628.75 211.40 1625.26C211.62 1621.77 212.53 1617.50 212.90 1613.62C213.27 1609.74 213.48 1605.86 213.60 1601.98C213.72 1598.10 213.67 1594.22 213.60 1590.34C213.53 1586.46 213.48 1582.58 213.20 1578.70C212.92 1574.82 212.53 1570.94 211.90 1567.06C211.27 1563.18 210.48 1559.30 209.40 1555.42C208.32 1551.54 206.23 1546.69 205.40 1543.78C204.57 1540.87 204.48 1539.90 204.40 1537.96C204.32 1536.02 204.15 1535.05 204.90 1532.14C205.65 1529.23 207.32 1524.38 208.90 1520.50C210.48 1516.62 212.48 1512.74 214.40 1508.86C216.32 1504.98 218.82 1501.10 220.40 1497.22C221.98 1493.34 223.10 1489.46 223.90 1485.58C224.70 1481.70 224.92 1478.79 225.20 1473.94C225.48 1469.09 225.45 1461.72 225.60 1456.48C225.75 1451.24 226.02 1444.84 226.10 1442.51Z" fill="#4a72a2" stroke="#111" stroke-width="1.6" stroke-linejoin="round"/>
<line x1="205.2" y1="1534.5" x2="247.6" y2="1534.5" stroke="#111" stroke-width="1.6"/>
<line x1="212.2" y1="1565.9" x2="240.7" y2="1565.9" stroke="#111" stroke-width="1.6"/>
<line x1="213.6" y1="1610.1" x2="239.2" y2="1610.1" stroke="#111" stroke-width="1.6"/>
<path d="M292.40 1435.53C292.48 1438.05 292.73 1445.23 292.90 1450.66C293.07 1456.09 293.12 1463.27 293.40 1468.12C293.68 1472.97 293.82 1475.88 294.60 1479.76C295.38 1483.64 296.52 1487.52 298.10 1491.40C299.68 1495.28 302.10 1499.16 304.10 1503.04C306.10 1506.92 308.35 1510.80 310.10 1514.68C311.85 1518.56 313.82 1523.41 314.60 1526.32C315.38 1529.23 315.22 1529.23 314.80 1532.14C314.38 1535.05 313.22 1539.90 312.10 1543.78C310.98 1547.66 309.27 1551.54 308.10 1555.42C306.93 1559.30 305.77 1563.18 305.10 1567.06C304.43 1570.94 304.35 1574.82 304.10 1578.70C303.85 1582.58 303.63 1586.46 303.60 1590.34C303.57 1594.22 303.73 1598.10 303.90 1601.98C304.07 1605.86 304.27 1609.74 304.60 1613.62C304.93 1617.50 305.78 1621.77 305.90 1625.26C306.02 1628.75 305.85 1631.66 305.30 1634.57C304.75 1637.48 303.55 1640.00 302.60 1642.72C301.65 1645.44 300.32 1648.60 299.60 1650.87C298.88 1653.14 298.52 1655.43 298.30 1656.34L285.90 1656.34C285.68 1655.43 285.32 1653.14 284.60 1650.87C283.88 1648.60 282.55 1645.44 281.60 1642.72C280.65 1640.00 279.45 1637.48 278.90 1634.57C278.35 1631.66 278.18 1628.75 278.30 1625.26C278.42 1621.77 279.27 1617.50 279.60 1613.62C279.93 1609.74 280.13 1605.86 280.30 1601.98C280.47 1598.10 280.63 1594.22 280.60 1590.34C280.57 1586.46 280.35 1582.58 280.10 1578.70C279.85 1574.82 279.77 1570.94 279.10 1567.06C278.43 1563.18 277.27 1559.30 276.10 1555.42C274.93 1551.54 273.22 1547.66 272.10 1543.78C270.98 1539.90 269.82 1535.05 269.40 1532.14C268.98 1529.23 268.82 1529.23 269.60 1526.32C270.38 1523.41 272.35 1518.56 274.10 1514.68C275.85 1510.80 278.10 1506.92 280.10 1503.04C282.10 1499.16 284.52 1495.28 286.10 1491.40C287.68 1487.52 288.82 1483.64 289.60 1479.76C290.38 1475.88 290.52 1472.97 290.80 1468.12C291.08 1463.27 291.13 1456.09 291.30 1450.66C291.47 1445.23 291.72 1438.05 291.80 1435.53Z" fill="#f9a52d" stroke="#111" stroke-width="1.6" stroke-linejoin="round"/>
<line x1="270.1" y1="1527.5" x2="314.1" y2="1527.5" stroke="#111" stroke-width="1.6"/>
<line x1="277.2" y1="1557.7" x2="307.0" y2="1557.7" stroke="#111" stroke-width="1.6"/>
<line x1="280.6" y1="1605.5" x2="303.6" y2="1605.5" stroke="#111" stroke-width="1.6"/>
<path d="M358.00 1430.87C358.10 1434.17 358.40 1445.42 358.60 1450.66C358.80 1455.90 358.77 1458.42 359.20 1462.30C359.63 1466.18 359.95 1470.06 361.20 1473.94C362.45 1477.82 364.45 1481.70 366.70 1485.58C368.95 1489.46 372.03 1493.34 374.70 1497.22C377.37 1501.10 380.53 1504.98 382.70 1508.86C384.87 1512.74 386.82 1517.59 387.70 1520.50C388.58 1523.41 388.08 1524.38 388.00 1526.32C387.92 1528.26 388.25 1529.23 387.20 1532.14C386.15 1535.05 383.78 1539.90 381.70 1543.78C379.62 1547.66 376.62 1551.54 374.70 1555.42C372.78 1559.30 371.23 1563.18 370.20 1567.06C369.17 1570.94 368.92 1574.82 368.50 1578.70C368.08 1582.58 367.90 1586.46 367.70 1590.34C367.50 1594.22 367.47 1598.10 367.30 1601.98C367.13 1605.86 367.05 1609.74 366.70 1613.62C366.35 1617.50 365.78 1621.38 365.20 1625.26C364.62 1629.14 363.92 1633.02 363.20 1636.90C362.48 1640.78 361.57 1645.30 360.90 1648.54C360.23 1651.78 359.48 1655.04 359.20 1656.34L356.20 1656.34C355.92 1655.04 355.17 1651.78 354.50 1648.54C353.83 1645.30 352.92 1640.78 352.20 1636.90C351.48 1633.02 350.78 1629.14 350.20 1625.26C349.62 1621.38 349.05 1617.50 348.70 1613.62C348.35 1609.74 348.27 1605.86 348.10 1601.98C347.93 1598.10 347.90 1594.22 347.70 1590.34C347.50 1586.46 347.32 1582.58 346.90 1578.70C346.48 1574.82 346.23 1570.94 345.20 1567.06C344.17 1563.18 342.62 1559.30 340.70 1555.42C338.78 1551.54 335.78 1547.66 333.70 1543.78C331.62 1539.90 329.25 1535.05 328.20 1532.14C327.15 1529.23 327.48 1528.26 327.40 1526.32C327.32 1524.38 326.82 1523.41 327.70 1520.50C328.58 1517.59 330.53 1512.74 332.70 1508.86C334.87 1504.98 338.03 1501.10 340.70 1497.22C343.37 1493.34 346.45 1489.46 348.70 1485.58C350.95 1481.70 352.95 1477.82 354.20 1473.94C355.45 1470.06 355.77 1466.18 356.20 1462.30C356.63 1458.42 356.60 1455.90 356.80 1450.66C357.00 1445.42 357.30 1434.17 357.40 1430.87Z" fill="#c8363a" stroke="#111" stroke-width="1.6" stroke-linejoin="round"/>
<line x1="330.7" y1="1514.7" x2="384.7" y2="1514.7" stroke="#111" stroke-width="1.6"/>
<line x1="330.3" y1="1535.6" x2="385.1" y2="1535.6" stroke="#111" stroke-width="1.6"/>
<line x1="346.6" y1="1573.5" x2="368.8" y2="1573.5" stroke="#111" stroke-width="1.6"/>
<line x1="186.7" y1="1543.5" x2="398.4" y2="1543.5" stroke="#555" stroke-width="2" stroke-dasharray="12 8"/>
<rect x="186.7" y="1404.3" width="211.7" height="264.0" fill="none" stroke="#333" stroke-width="1.5"/>
<line x1="177.7" y1="1462.3" x2="186.7" y2="1462.3" stroke="#333" stroke-width="1.3"/>
<text x="166.2" y="1471.3" font-size="26.3" text-anchor="end">10</text>
<line x1="177.7" y1="1520.5" x2="186.7" y2="1520.5" stroke="#333" stroke-width="1.3"/>
<text x="166.2" y="1529.5" font-size="26.3" text-anchor="end">5</text>
<line x1="177.7" y1="1578.7" x2="186.7" y2="1578.7" stroke="#333" stroke-width="1.3"/>
<text x="166.2" y="1587.7" font-size="26.3" text-anchor="end">0</text>
<line x1="177.7" y1="1636.9" x2="186.7" y2="1636.9" stroke="#333" stroke-width="1.3"/>
<text x="166.2" y="1645.9" font-size="26.3" text-anchor="end">−5</text>
<text x="84.4" y="1538.0" font-size="28.5" text-anchor="middle" textLength="222.5" lengthAdjust="spacingAndGlyphs" transform="rotate(-90 84.4 1538.0)">mRNA expression</text>
<text x="115.4" y="1538.0" font-size="28.5" text-anchor="middle" textLength="290.7" lengthAdjust="spacingAndGlyphs" transform="rotate(-90 115.4 1538.0)">(TPM) per window (log)</text>
<text x="406.0" y="1538.4" font-size="28.5">Genomic</text>
<text x="406.0" y="1568.5" font-size="28.5">mean</text>
<text x="0.0" y="1739.6" font-size="38" font-weight="bold" stroke="#000" stroke-width="1.3">e</text>
<rect x="214.8" y="1784.7" width="23.6" height="219.3" fill="#4a72a2"/>
<rect x="280.8" y="1820.0" width="23.6" height="184.0" fill="#f9a52d"/>
<rect x="346.8" y="1932.8" width="23.6" height="71.2" fill="#c8363a"/>
<line x1="186.7" y1="1875" x2="398.4" y2="1875" stroke="#555" stroke-width="2" stroke-dasharray="12 8"/>
<rect x="186.7" y="1752.6" width="211.7" height="263.3" fill="none" stroke="#333" stroke-width="1.5"/>
<line x1="177.7" y1="2004.0" x2="186.7" y2="2004.0" stroke="#333" stroke-width="1.3"/>
<text x="166.2" y="2013.0" font-size="26.3" text-anchor="end">0</text>
<line x1="177.7" y1="1944.0" x2="186.7" y2="1944.0" stroke="#333" stroke-width="1.3"/>
<text x="166.2" y="1953.0" font-size="26.3" text-anchor="end">0.25</text>
<line x1="177.7" y1="1884.1" x2="186.7" y2="1884.1" stroke="#333" stroke-width="1.3"/>
<text x="166.2" y="1893.1" font-size="26.3" text-anchor="end">0.50</text>
<line x1="177.7" y1="1824.2" x2="186.7" y2="1824.2" stroke="#333" stroke-width="1.3"/>
<text x="166.2" y="1833.2" font-size="26.3" text-anchor="end">0.75</text>
<line x1="177.7" y1="1764.2" x2="186.7" y2="1764.2" stroke="#333" stroke-width="1.3"/>
<text x="166.2" y="1773.2" font-size="26.3" text-anchor="end">1.00</text>
<text x="190.5" y="1778.2" font-size="18.3" textLength="96.8" lengthAdjust="spacingAndGlyphs">5,440/5,926</text>
<text x="248.6" y="1808.0" font-size="18.3" textLength="91.7" lengthAdjust="spacingAndGlyphs">4,792/6,222</text>
<text x="303.7" y="1919.8" font-size="18.3" textLength="92.3" lengthAdjust="spacingAndGlyphs">1,955/6,520</text>
<text x="407.7" y="1878.1" font-size="28.5">Genomic</text>
<text x="407.7" y="1910.6" font-size="28.5">LAD freq.</text>
<text x="68.1" y="1884.0" font-size="28.5" text-anchor="middle" textLength="169.3" lengthAdjust="spacingAndGlyphs" transform="rotate(-90 68.1 1884.0)">LAD/non-LAD</text>
<text x="93.8" y="1884.0" font-size="28.5" text-anchor="middle" textLength="159.0" lengthAdjust="spacingAndGlyphs" transform="rotate(-90 93.8 1884.0)">window ratio</text>
<text x="713.6" y="1035.1" font-size="38" font-weight="bold" stroke="#000" stroke-width="1.3">f</text>
<rect x="888.3" y="1246.2" width="23.5" height="62.2" fill="#4a72a2"/>
<rect x="929.2" y="1167.0" width="23.5" height="141.4" fill="#f9a52d"/>
<rect x="970.1" y="1069.5" width="23.5" height="238.9" fill="#c8363a"/>
<rect x="835.6" y="1057.5" width="210.6" height="263.1" fill="none" stroke="#333" stroke-width="1.5"/>
<line x1="825.6" y1="1308.4" x2="835.6" y2="1308.4" stroke="#333" stroke-width="1.3"/>
<text x="813.1" y="1317.4" font-size="26.3" text-anchor="end">0</text>
<line x1="825.6" y1="1242.4" x2="835.6" y2="1242.4" stroke="#333" stroke-width="1.3"/>
<text x="813.1" y="1251.4" font-size="26.3" text-anchor="end">1,000</text>
<line x1="825.6" y1="1176.4" x2="835.6" y2="1176.4" stroke="#333" stroke-width="1.3"/>
<text x="813.1" y="1185.4" font-size="26.3" text-anchor="end">2,000</text>
<line x1="825.6" y1="1110.4" x2="835.6" y2="1110.4" stroke="#333" stroke-width="1.3"/>
<text x="813.1" y="1119.4" font-size="26.3" text-anchor="end">3,000</text>
<text x="943.8" y="1037.8" font-size="27.5" text-anchor="middle" textLength="67.6" lengthAdjust="spacingAndGlyphs">CTCF</text>
<text x="726.3" y="1176.4" font-size="28.5" text-anchor="middle" textLength="181.5" lengthAdjust="spacingAndGlyphs" transform="rotate(-90 726.3 1176.4)">Window count</text>
<rect x="1262.1" y="1212.9" width="23.5" height="95.5" fill="#4a72a2"/>
<rect x="1303.0" y="1196.7" width="23.5" height="111.7" fill="#f9a52d"/>
<rect x="1343.9" y="1069.8" width="23.5" height="238.6" fill="#c8363a"/>
<rect x="1209.4" y="1057.5" width="211.0" height="263.1" fill="none" stroke="#333" stroke-width="1.5"/>
<line x1="1199.4" y1="1308.4" x2="1209.4" y2="1308.4" stroke="#333" stroke-width="1.3"/>
<text x="1186.9" y="1317.4" font-size="26.3" text-anchor="end">0</text>
<line x1="1199.4" y1="1240.3" x2="1209.4" y2="1240.3" stroke="#333" stroke-width="1.3"/>
<text x="1186.9" y="1249.3" font-size="26.3" text-anchor="end">1,000</text>
<line x1="1199.4" y1="1172.2" x2="1209.4" y2="1172.2" stroke="#333" stroke-width="1.3"/>
<text x="1186.9" y="1181.2" font-size="26.3" text-anchor="end">2,000</text>
<line x1="1199.4" y1="1104.1" x2="1209.4" y2="1104.1" stroke="#333" stroke-width="1.3"/>
<text x="1186.9" y="1113.1" font-size="26.3" text-anchor="end">3,000</text>
<text x="1311.5" y="1037.8" font-size="27.5" text-anchor="middle" textLength="143.3" lengthAdjust="spacingAndGlyphs">RNAPII-S5p</text>
<rect x="1633.2" y="1274.3" width="23.5" height="33.7" fill="#4a72a2"/>
<rect x="1674.1" y="1230.7" width="23.5" height="77.3" fill="#f9a52d"/>
<rect x="1715.0" y="1069.8" width="23.5" height="238.2" fill="#c8363a"/>
<rect x="1580.5" y="1057.5" width="210.6" height="263.1" fill="none" stroke="#333" stroke-width="1.5"/>
<line x1="1570.5" y1="1308.0" x2="1580.5" y2="1308.0" stroke="#333" stroke-width="1.3"/>
<text x="1558.0" y="1317.0" font-size="26.3" text-anchor="end">0</text>
<line x1="1570.5" y1="1230.9" x2="1580.5" y2="1230.9" stroke="#333" stroke-width="1.3"/>
<text x="1558.0" y="1239.9" font-size="26.3" text-anchor="end">1,000</text>
<line x1="1570.5" y1="1153.8" x2="1580.5" y2="1153.8" stroke="#333" stroke-width="1.3"/>
<text x="1558.0" y="1162.8" font-size="26.3" text-anchor="end">2,000</text>
<line x1="1570.5" y1="1076.7" x2="1580.5" y2="1076.7" stroke="#333" stroke-width="1.3"/>
<text x="1558.0" y="1085.7" font-size="26.3" text-anchor="end">3,000</text>
<text x="1680.3" y="1037.8" font-size="27.5" text-anchor="middle" textLength="116.6" lengthAdjust="spacingAndGlyphs">Enhancer</text>
<rect x="2006.3" y="1069.8" width="23.5" height="238.2" fill="#4a72a2"/>
<rect x="2047.2" y="1091.6" width="23.5" height="216.4" fill="#f9a52d"/>
<rect x="2088.1" y="1100.3" width="23.5" height="207.7" fill="#c8363a"/>
<rect x="1953.6" y="1057.5" width="210.6" height="263.1" fill="none" stroke="#333" stroke-width="1.5"/>
<line x1="1943.6" y1="1308.0" x2="1953.6" y2="1308.0" stroke="#333" stroke-width="1.3"/>
<text x="1931.1" y="1317.0" font-size="26.3" text-anchor="end">0</text>
<line x1="1943.6" y1="1249.4" x2="1953.6" y2="1249.4" stroke="#333" stroke-width="1.3"/>
<text x="1931.1" y="1258.4" font-size="26.3" text-anchor="end">250</text>
<line x1="1943.6" y1="1190.8" x2="1953.6" y2="1190.8" stroke="#333" stroke-width="1.3"/>
<text x="1931.1" y="1199.8" font-size="26.3" text-anchor="end">500</text>
<line x1="1943.6" y1="1132.2" x2="1953.6" y2="1132.2" stroke="#333" stroke-width="1.3"/>
<text x="1931.1" y="1141.2" font-size="26.3" text-anchor="end">750</text>
<line x1="1943.6" y1="1073.6" x2="1953.6" y2="1073.6" stroke="#333" stroke-width="1.3"/>
<text x="1931.1" y="1082.6" font-size="26.3" text-anchor="end">1,000</text>
<text x="2053.7" y="1037.8" font-size="27.5" text-anchor="middle" textLength="123.5" lengthAdjust="spacingAndGlyphs">H3K9me3</text>
<rect x="888.3" y="1597.0" width="23.5" height="59.0" fill="#4a72a2"/>
<rect x="929.2" y="1549.7" width="23.5" height="106.4" fill="#f9a52d"/>
<rect x="970.1" y="1417.2" width="23.5" height="238.9" fill="#c8363a"/>
<rect x="835.6" y="1405.4" width="210.6" height="262.6" fill="none" stroke="#333" stroke-width="1.5"/>
<line x1="825.6" y1="1656.1" x2="835.6" y2="1656.1" stroke="#333" stroke-width="1.3"/>
<text x="813.1" y="1665.1" font-size="26.3" text-anchor="end">0</text>
<line x1="825.6" y1="1597.0" x2="835.6" y2="1597.0" stroke="#333" stroke-width="1.3"/>
<text x="813.1" y="1606.0" font-size="26.3" text-anchor="end">500</text>
<line x1="825.6" y1="1538.0" x2="835.6" y2="1538.0" stroke="#333" stroke-width="1.3"/>
<text x="813.1" y="1547.0" font-size="26.3" text-anchor="end">1,000</text>
<line x1="825.6" y1="1478.9" x2="835.6" y2="1478.9" stroke="#333" stroke-width="1.3"/>
<text x="813.1" y="1487.9" font-size="26.3" text-anchor="end">1,500</text>
<line x1="825.6" y1="1419.9" x2="835.6" y2="1419.9" stroke="#333" stroke-width="1.3"/>
<text x="813.1" y="1428.9" font-size="26.3" text-anchor="end">2,000</text>
<text x="940.0" y="1386.6" font-size="27.5" text-anchor="middle" textLength="68.0" lengthAdjust="spacingAndGlyphs">p300</text>
<text x="726.3" y="1537.8" font-size="28.5" text-anchor="middle" textLength="181.5" lengthAdjust="spacingAndGlyphs" transform="rotate(-90 726.3 1537.8)">Window count</text>
<rect x="1262.1" y="1586.9" width="23.5" height="69.6" fill="#4a72a2"/>
<rect x="1303.0" y="1568.6" width="23.5" height="87.9" fill="#f9a52d"/>
<rect x="1343.9" y="1417.5" width="23.5" height="239.0" fill="#c8363a"/>
<rect x="1209.4" y="1405.4" width="211.0" height="262.6" fill="none" stroke="#333" stroke-width="1.5"/>
<line x1="1199.4" y1="1656.5" x2="1209.4" y2="1656.5" stroke="#333" stroke-width="1.3"/>
<text x="1186.9" y="1665.5" font-size="26.3" text-anchor="end">0</text>
<line x1="1199.4" y1="1586.2" x2="1209.4" y2="1586.2" stroke="#333" stroke-width="1.3"/>
<text x="1186.9" y="1595.2" font-size="26.3" text-anchor="end">1,000</text>
<line x1="1199.4" y1="1515.9" x2="1209.4" y2="1515.9" stroke="#333" stroke-width="1.3"/>
<text x="1186.9" y="1524.9" font-size="26.3" text-anchor="end">2,000</text>
<line x1="1199.4" y1="1445.6" x2="1209.4" y2="1445.6" stroke="#333" stroke-width="1.3"/>
<text x="1186.9" y="1454.6" font-size="26.3" text-anchor="end">3,000</text>
<text x="1314.6" y="1386.6" font-size="27.5" text-anchor="middle" textLength="140.7" lengthAdjust="spacingAndGlyphs">RNAPII-S7p</text>
<rect x="1634.0" y="1650.5" width="23.5" height="5.6" fill="#4a72a2"/>
<rect x="1674.9" y="1642.0" width="23.5" height="14.1" fill="#f9a52d"/>
<rect x="1715.8" y="1417.1" width="23.5" height="239.0" fill="#c8363a"/>
<rect x="1581.3" y="1405.4" width="210.2" height="262.6" fill="none" stroke="#333" stroke-width="1.5"/>
<line x1="1571.3" y1="1656.1" x2="1581.3" y2="1656.1" stroke="#333" stroke-width="1.3"/>
<text x="1558.8" y="1665.1" font-size="26.3" text-anchor="end">0</text>
<line x1="1571.3" y1="1605.9" x2="1581.3" y2="1605.9" stroke="#333" stroke-width="1.3"/>
<text x="1558.8" y="1614.9" font-size="26.3" text-anchor="end">25</text>
<line x1="1571.3" y1="1555.7" x2="1581.3" y2="1555.7" stroke="#333" stroke-width="1.3"/>
<text x="1558.8" y="1564.7" font-size="26.3" text-anchor="end">50</text>
<line x1="1571.3" y1="1505.5" x2="1581.3" y2="1505.5" stroke="#333" stroke-width="1.3"/>
<text x="1558.8" y="1514.5" font-size="26.3" text-anchor="end">75</text>
<line x1="1571.3" y1="1455.3" x2="1581.3" y2="1455.3" stroke="#333" stroke-width="1.3"/>
<text x="1558.8" y="1464.3" font-size="26.3" text-anchor="end">100</text>
<text x="1683.3" y="1386.6" font-size="27.5" text-anchor="middle" textLength="202.6" lengthAdjust="spacingAndGlyphs">Super-enhancer</text>
<rect x="2007.0" y="1417.0" width="23.5" height="239.1" fill="#4a72a2"/>
<rect x="2047.9" y="1436.6" width="23.5" height="219.5" fill="#f9a52d"/>
<rect x="2088.8" y="1473.6" width="23.5" height="182.5" fill="#c8363a"/>
<rect x="1954.3" y="1405.4" width="210.7" height="262.6" fill="none" stroke="#333" stroke-width="1.5"/>
<line x1="1944.3" y1="1656.1" x2="1954.3" y2="1656.1" stroke="#333" stroke-width="1.3"/>
<text x="1931.8" y="1665.1" font-size="26.3" text-anchor="end">0</text>
<line x1="1944.3" y1="1588.7" x2="1954.3" y2="1588.7" stroke="#333" stroke-width="1.3"/>
<text x="1931.8" y="1597.7" font-size="26.3" text-anchor="end">300</text>
<line x1="1944.3" y1="1521.3" x2="1954.3" y2="1521.3" stroke="#333" stroke-width="1.3"/>
<text x="1931.8" y="1530.3" font-size="26.3" text-anchor="end">600</text>
<line x1="1944.3" y1="1453.9" x2="1954.3" y2="1453.9" stroke="#333" stroke-width="1.3"/>
<text x="1931.8" y="1462.9" font-size="26.3" text-anchor="end">900</text>
<text x="2056.0" y="1386.6" font-size="27.5" text-anchor="middle" textLength="140.7" lengthAdjust="spacingAndGlyphs">H4K20me3</text>
<rect x="886.0" y="1931.4" width="23.5" height="72.8" fill="#4a72a2"/>
<rect x="926.9" y="1880.2" width="23.5" height="124.0" fill="#f9a52d"/>
<rect x="967.8" y="1765.2" width="23.5" height="239.0" fill="#c8363a"/>
<rect x="833.3" y="1752.6" width="210.6" height="263.0" fill="none" stroke="#333" stroke-width="1.5"/>
<line x1="823.3" y1="2004.2" x2="833.3" y2="2004.2" stroke="#333" stroke-width="1.3"/>
<text x="810.8" y="2013.2" font-size="26.3" text-anchor="end">0</text>
<line x1="823.3" y1="1948.2" x2="833.3" y2="1948.2" stroke="#333" stroke-width="1.3"/>
<text x="810.8" y="1957.2" font-size="26.3" text-anchor="end">500</text>
<line x1="823.3" y1="1892.2" x2="833.3" y2="1892.2" stroke="#333" stroke-width="1.3"/>
<text x="810.8" y="1901.2" font-size="26.3" text-anchor="end">1,000</text>
<line x1="823.3" y1="1836.2" x2="833.3" y2="1836.2" stroke="#333" stroke-width="1.3"/>
<text x="810.8" y="1845.2" font-size="26.3" text-anchor="end">1,500</text>
<line x1="823.3" y1="1780.2" x2="833.3" y2="1780.2" stroke="#333" stroke-width="1.3"/>
<text x="810.8" y="1789.2" font-size="26.3" text-anchor="end">2,000</text>
<text x="940.7" y="1735.4" font-size="27.5" text-anchor="middle" textLength="62.3" lengthAdjust="spacingAndGlyphs">Oct4</text>
<text x="726.3" y="1885.5" font-size="28.5" text-anchor="middle" textLength="181.5" lengthAdjust="spacingAndGlyphs" transform="rotate(-90 726.3 1885.5)">Window count</text>
<rect x="1260.2" y="1971.3" width="23.5" height="32.9" fill="#4a72a2"/>
<rect x="1301.1" y="1946.4" width="23.5" height="57.8" fill="#f9a52d"/>
<rect x="1342.0" y="1765.1" width="23.5" height="239.1" fill="#c8363a"/>
<rect x="1207.5" y="1752.6" width="210.3" height="263.0" fill="none" stroke="#333" stroke-width="1.5"/>
<line x1="1197.5" y1="2004.2" x2="1207.5" y2="2004.2" stroke="#333" stroke-width="1.3"/>
<text x="1185.0" y="2013.2" font-size="26.3" text-anchor="end">0</text>
<line x1="1197.5" y1="1912.6" x2="1207.5" y2="1912.6" stroke="#333" stroke-width="1.3"/>
<text x="1185.0" y="1921.6" font-size="26.3" text-anchor="end">1,000</text>
<line x1="1197.5" y1="1821.0" x2="1207.5" y2="1821.0" stroke="#333" stroke-width="1.3"/>
<text x="1185.0" y="1830.0" font-size="26.3" text-anchor="end">2,000</text>
<text x="1313.0" y="1735.4" font-size="27.5" text-anchor="middle" textLength="141.4" lengthAdjust="spacingAndGlyphs">RNAPII-S2p</text>
<rect x="1633.2" y="1983.5" width="23.5" height="20.7" fill="#4a72a2"/>
<rect x="1674.1" y="1955.4" width="23.5" height="48.8" fill="#f9a52d"/>
<rect x="1715.0" y="1834.8" width="23.5" height="169.4" fill="#c8363a"/>
<rect x="1580.5" y="1752.6" width="210.6" height="263.0" fill="none" stroke="#333" stroke-width="1.5"/>
<line x1="1570.5" y1="2004.2" x2="1580.5" y2="2004.2" stroke="#333" stroke-width="1.3"/>
<text x="1558.0" y="2013.2" font-size="26.3" text-anchor="end">0</text>
<line x1="1570.5" y1="1927.0" x2="1580.5" y2="1927.0" stroke="#333" stroke-width="1.3"/>
<text x="1558.0" y="1936.0" font-size="26.3" text-anchor="end">2,000</text>
<line x1="1570.5" y1="1849.8" x2="1580.5" y2="1849.8" stroke="#333" stroke-width="1.3"/>
<text x="1558.0" y="1858.8" font-size="26.3" text-anchor="end">4,000</text>
<line x1="1570.5" y1="1772.6" x2="1580.5" y2="1772.6" stroke="#333" stroke-width="1.3"/>
<text x="1558.0" y="1781.6" font-size="26.3" text-anchor="end">6,000</text>
<text x="1683.3" y="1735.4" font-size="27.5" text-anchor="middle" textLength="196.5" lengthAdjust="spacingAndGlyphs">A compartment</text>
<rect x="2006.3" y="1795.6" width="23.5" height="208.6" fill="#4a72a2"/>
<rect x="2047.2" y="1811.7" width="23.5" height="192.5" fill="#f9a52d"/>
<rect x="2088.1" y="1920.6" width="23.5" height="83.6" fill="#c8363a"/>
<rect x="1953.6" y="1752.6" width="210.6" height="263.0" fill="none" stroke="#333" stroke-width="1.5"/>
<line x1="1943.6" y1="2004.2" x2="1953.6" y2="2004.2" stroke="#333" stroke-width="1.3"/>
<text x="1931.1" y="2013.2" font-size="26.3" text-anchor="end">0</text>
<line x1="1943.6" y1="1927.0" x2="1953.6" y2="1927.0" stroke="#333" stroke-width="1.3"/>
<text x="1931.1" y="1936.0" font-size="26.3" text-anchor="end">2,000</text>
<line x1="1943.6" y1="1849.8" x2="1953.6" y2="1849.8" stroke="#333" stroke-width="1.3"/>
<text x="1931.1" y="1858.8" font-size="26.3" text-anchor="end">4,000</text>
<line x1="1943.6" y1="1772.6" x2="1953.6" y2="1772.6" stroke="#333" stroke-width="1.3"/>
<text x="1931.1" y="1781.6" font-size="26.3" text-anchor="end">6,000</text>
<text x="2056.0" y="1735.4" font-size="27.5" text-anchor="middle" textLength="195.0" lengthAdjust="spacingAndGlyphs">B compartment</text>
<text x="1859.2" y="1706.0" font-size="28.5" text-anchor="middle" textLength="188.8" lengthAdjust="spacingAndGlyphs">Compartments</text></svg></body></html>
